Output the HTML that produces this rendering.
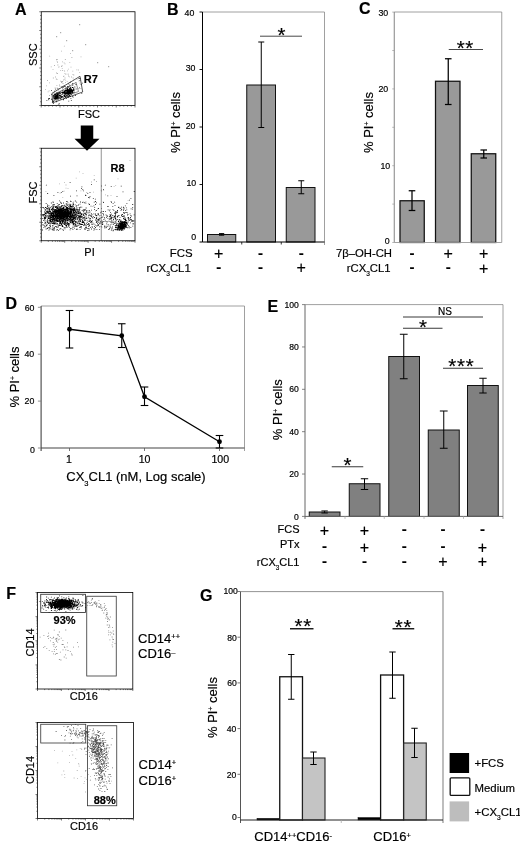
<!DOCTYPE html>
<html><head><meta charset="utf-8"><title>Figure</title>
<style>
html,body{margin:0;padding:0;background:#fff;}
svg{display:block;font-family:"Liberation Sans", sans-serif;}
text{stroke:#000;stroke-width:0.18px;}
</style></head><body>
<svg width="520" height="842" viewBox="0 0 520 842">
<rect width="520" height="842" fill="#fff"/>
<text x="15" y="14.5" font-size="16" text-anchor="start" font-weight="bold" fill="#000" >A</text>
<path d="M55.7 97.0h0.8v0.8h-0.8zM55.7 95.9h0.8v0.8h-0.8zM54.9 96.0h0.8v0.8h-0.8zM57.3 96.9h0.8v0.8h-0.8zM57.2 96.6h0.8v0.8h-0.8zM56.5 96.6h0.8v0.8h-0.8zM54.0 97.5h0.8v0.8h-0.8zM56.6 97.0h0.8v0.8h-0.8zM54.0 93.9h0.8v0.8h-0.8zM54.9 95.6h0.8v0.8h-0.8zM56.4 96.2h0.8v0.8h-0.8zM56.6 95.4h0.8v0.8h-0.8zM56.4 96.9h0.8v0.8h-0.8zM55.2 98.7h0.8v0.8h-0.8zM56.7 98.0h0.8v0.8h-0.8zM55.3 95.3h0.8v0.8h-0.8zM55.6 96.2h0.8v0.8h-0.8zM56.8 96.6h0.8v0.8h-0.8zM55.5 95.0h0.8v0.8h-0.8zM55.4 98.0h0.8v0.8h-0.8zM55.0 96.6h0.8v0.8h-0.8zM56.5 94.2h0.8v0.8h-0.8zM56.1 98.1h0.8v0.8h-0.8zM53.6 95.8h0.8v0.8h-0.8zM55.9 95.2h0.8v0.8h-0.8zM56.6 96.2h0.8v0.8h-0.8zM54.2 97.5h0.8v0.8h-0.8zM56.8 97.6h0.8v0.8h-0.8zM57.7 96.8h0.8v0.8h-0.8zM56.1 94.5h0.8v0.8h-0.8zM56.7 95.4h0.8v0.8h-0.8zM55.5 94.5h0.8v0.8h-0.8zM54.8 95.6h0.8v0.8h-0.8zM57.5 93.5h0.8v0.8h-0.8zM54.3 96.6h0.8v0.8h-0.8zM57.7 97.1h0.8v0.8h-0.8zM53.7 92.8h0.8v0.8h-0.8zM56.4 95.3h0.8v0.8h-0.8zM54.7 97.7h0.8v0.8h-0.8zM57.3 96.5h0.8v0.8h-0.8zM56.3 96.9h0.8v0.8h-0.8zM57.9 97.2h0.8v0.8h-0.8zM56.6 97.1h0.8v0.8h-0.8zM54.1 98.1h0.8v0.8h-0.8zM57.1 97.0h0.8v0.8h-0.8zM53.6 95.4h0.8v0.8h-0.8zM57.0 93.8h0.8v0.8h-0.8zM55.8 97.7h0.8v0.8h-0.8zM54.4 98.6h0.8v0.8h-0.8zM56.7 96.1h0.8v0.8h-0.8zM56.4 97.2h0.8v0.8h-0.8zM56.1 97.9h0.8v0.8h-0.8zM55.2 95.7h0.8v0.8h-0.8zM57.3 96.3h0.8v0.8h-0.8zM54.9 97.6h0.8v0.8h-0.8zM57.8 95.7h0.8v0.8h-0.8zM54.3 96.1h0.8v0.8h-0.8zM55.8 95.9h0.8v0.8h-0.8zM57.7 94.9h0.8v0.8h-0.8zM57.5 94.5h0.8v0.8h-0.8zM55.1 97.2h0.8v0.8h-0.8zM57.4 97.5h0.8v0.8h-0.8zM56.4 96.5h0.8v0.8h-0.8zM56.2 97.1h0.8v0.8h-0.8zM55.8 96.7h0.8v0.8h-0.8zM56.7 96.3h0.8v0.8h-0.8zM56.9 97.1h0.8v0.8h-0.8zM58.4 96.8h0.8v0.8h-0.8zM55.5 95.8h0.8v0.8h-0.8zM56.0 97.6h0.8v0.8h-0.8zM55.6 96.8h0.8v0.8h-0.8zM58.2 92.7h0.8v0.8h-0.8zM54.7 96.6h0.8v0.8h-0.8zM56.5 96.6h0.8v0.8h-0.8zM55.5 97.2h0.8v0.8h-0.8zM56.3 95.6h0.8v0.8h-0.8zM58.9 96.8h0.8v0.8h-0.8zM55.3 96.2h0.8v0.8h-0.8zM55.7 96.2h0.8v0.8h-0.8zM52.7 95.6h0.8v0.8h-0.8zM57.2 94.7h0.8v0.8h-0.8zM55.9 97.6h0.8v0.8h-0.8zM57.0 98.4h0.8v0.8h-0.8zM54.0 95.8h0.8v0.8h-0.8zM55.6 97.2h0.8v0.8h-0.8zM57.3 92.5h0.8v0.8h-0.8zM57.3 94.3h0.8v0.8h-0.8zM56.8 94.2h0.8v0.8h-0.8zM56.2 98.0h0.8v0.8h-0.8zM55.8 96.6h0.8v0.8h-0.8zM57.0 96.5h0.8v0.8h-0.8zM55.9 98.4h0.8v0.8h-0.8zM57.3 95.9h0.8v0.8h-0.8zM59.3 94.7h0.8v0.8h-0.8zM57.1 95.9h0.8v0.8h-0.8zM56.2 97.3h0.8v0.8h-0.8zM56.3 97.2h0.8v0.8h-0.8zM54.2 94.2h0.8v0.8h-0.8zM56.7 95.0h0.8v0.8h-0.8zM54.8 94.2h0.8v0.8h-0.8zM57.5 97.3h0.8v0.8h-0.8zM57.8 95.0h0.8v0.8h-0.8zM56.0 94.7h0.8v0.8h-0.8zM56.9 98.5h0.8v0.8h-0.8zM54.9 98.5h0.8v0.8h-0.8zM57.2 96.1h0.8v0.8h-0.8zM53.6 98.3h0.8v0.8h-0.8zM55.9 95.5h0.8v0.8h-0.8zM56.5 96.9h0.8v0.8h-0.8zM57.8 94.9h0.8v0.8h-0.8zM57.4 98.4h0.8v0.8h-0.8zM57.7 96.0h0.8v0.8h-0.8zM55.1 97.7h0.8v0.8h-0.8zM56.1 96.5h0.8v0.8h-0.8zM57.7 95.9h0.8v0.8h-0.8zM53.2 95.8h0.8v0.8h-0.8zM53.8 97.4h0.8v0.8h-0.8zM56.4 95.4h0.8v0.8h-0.8zM56.0 97.5h0.8v0.8h-0.8zM56.1 98.2h0.8v0.8h-0.8zM55.9 97.8h0.8v0.8h-0.8zM57.8 98.6h0.8v0.8h-0.8zM55.2 97.5h0.8v0.8h-0.8zM53.7 94.8h0.8v0.8h-0.8zM53.6 97.8h0.8v0.8h-0.8zM54.5 96.3h0.8v0.8h-0.8zM55.8 96.3h0.8v0.8h-0.8zM55.3 96.6h0.8v0.8h-0.8zM58.1 96.4h0.8v0.8h-0.8zM56.6 97.7h0.8v0.8h-0.8zM55.8 94.5h0.8v0.8h-0.8zM55.3 97.8h0.8v0.8h-0.8zM54.0 95.5h0.8v0.8h-0.8zM57.2 97.4h0.8v0.8h-0.8zM56.0 97.4h0.8v0.8h-0.8zM56.2 94.6h0.8v0.8h-0.8zM54.1 95.4h0.8v0.8h-0.8zM57.1 95.5h0.8v0.8h-0.8zM54.9 95.2h0.8v0.8h-0.8zM54.2 96.1h0.8v0.8h-0.8zM54.6 96.8h0.8v0.8h-0.8zM53.2 96.8h0.8v0.8h-0.8zM55.2 93.6h0.8v0.8h-0.8zM56.9 95.9h0.8v0.8h-0.8zM53.3 95.1h0.8v0.8h-0.8zM56.3 95.7h0.8v0.8h-0.8zM56.9 97.3h0.8v0.8h-0.8zM56.8 96.8h0.8v0.8h-0.8zM57.6 97.2h0.8v0.8h-0.8zM56.5 93.4h0.8v0.8h-0.8zM70.1 93.4h0.8v0.8h-0.8zM67.3 91.2h0.8v0.8h-0.8zM72.5 87.3h0.8v0.8h-0.8zM69.1 95.7h0.8v0.8h-0.8zM65.9 93.7h0.8v0.8h-0.8zM72.3 90.2h0.8v0.8h-0.8zM69.3 92.9h0.8v0.8h-0.8zM65.9 92.3h0.8v0.8h-0.8zM68.7 93.0h0.8v0.8h-0.8zM67.9 91.5h0.8v0.8h-0.8zM65.7 91.9h0.8v0.8h-0.8zM70.1 91.3h0.8v0.8h-0.8zM66.0 91.0h0.8v0.8h-0.8zM74.1 91.8h0.8v0.8h-0.8zM69.5 86.8h0.8v0.8h-0.8zM69.4 92.2h0.8v0.8h-0.8zM71.9 91.3h0.8v0.8h-0.8zM67.8 92.8h0.8v0.8h-0.8zM63.5 95.1h0.8v0.8h-0.8zM68.7 90.3h0.8v0.8h-0.8zM71.0 93.9h0.8v0.8h-0.8zM64.8 91.7h0.8v0.8h-0.8zM68.7 91.9h0.8v0.8h-0.8zM67.1 90.4h0.8v0.8h-0.8zM72.9 92.0h0.8v0.8h-0.8zM65.3 90.4h0.8v0.8h-0.8zM71.9 92.2h0.8v0.8h-0.8zM72.2 91.8h0.8v0.8h-0.8zM66.0 92.9h0.8v0.8h-0.8zM63.0 92.1h0.8v0.8h-0.8zM67.9 92.8h0.8v0.8h-0.8zM66.3 92.1h0.8v0.8h-0.8zM69.1 92.1h0.8v0.8h-0.8zM69.5 91.7h0.8v0.8h-0.8zM67.3 93.4h0.8v0.8h-0.8zM68.1 90.3h0.8v0.8h-0.8zM66.6 92.3h0.8v0.8h-0.8zM67.7 92.2h0.8v0.8h-0.8zM68.0 92.1h0.8v0.8h-0.8zM67.7 89.7h0.8v0.8h-0.8zM69.0 93.3h0.8v0.8h-0.8zM69.0 91.1h0.8v0.8h-0.8zM69.0 89.8h0.8v0.8h-0.8zM63.6 93.3h0.8v0.8h-0.8zM65.9 93.8h0.8v0.8h-0.8zM65.5 88.0h0.8v0.8h-0.8zM65.6 95.3h0.8v0.8h-0.8zM67.1 89.7h0.8v0.8h-0.8zM66.2 93.3h0.8v0.8h-0.8zM69.1 91.7h0.8v0.8h-0.8zM71.4 91.9h0.8v0.8h-0.8zM68.0 92.9h0.8v0.8h-0.8zM71.8 92.2h0.8v0.8h-0.8zM70.4 89.1h0.8v0.8h-0.8zM67.7 93.2h0.8v0.8h-0.8zM67.3 93.9h0.8v0.8h-0.8zM69.4 92.9h0.8v0.8h-0.8zM67.5 96.4h0.8v0.8h-0.8zM70.9 90.5h0.8v0.8h-0.8zM68.2 96.3h0.8v0.8h-0.8zM67.2 93.6h0.8v0.8h-0.8zM70.3 91.1h0.8v0.8h-0.8zM65.3 93.0h0.8v0.8h-0.8zM68.8 93.5h0.8v0.8h-0.8zM69.8 91.2h0.8v0.8h-0.8zM70.0 92.1h0.8v0.8h-0.8zM68.5 91.7h0.8v0.8h-0.8zM67.4 93.2h0.8v0.8h-0.8zM65.6 91.5h0.8v0.8h-0.8zM68.0 89.2h0.8v0.8h-0.8zM67.0 88.6h0.8v0.8h-0.8zM66.4 93.3h0.8v0.8h-0.8zM69.3 91.3h0.8v0.8h-0.8zM67.5 89.5h0.8v0.8h-0.8zM72.2 91.3h0.8v0.8h-0.8zM70.5 89.4h0.8v0.8h-0.8zM67.6 88.8h0.8v0.8h-0.8zM69.8 92.8h0.8v0.8h-0.8zM63.6 93.2h0.8v0.8h-0.8zM69.4 88.3h0.8v0.8h-0.8zM63.8 91.3h0.8v0.8h-0.8zM66.6 89.8h0.8v0.8h-0.8zM68.1 92.2h0.8v0.8h-0.8zM69.5 92.5h0.8v0.8h-0.8zM71.5 92.7h0.8v0.8h-0.8zM65.0 91.9h0.8v0.8h-0.8zM65.6 90.7h0.8v0.8h-0.8zM67.8 91.9h0.8v0.8h-0.8zM69.1 88.7h0.8v0.8h-0.8zM65.2 92.7h0.8v0.8h-0.8zM67.5 91.4h0.8v0.8h-0.8zM67.9 90.5h0.8v0.8h-0.8zM69.6 91.9h0.8v0.8h-0.8zM67.8 90.7h0.8v0.8h-0.8zM67.6 87.2h0.8v0.8h-0.8zM65.7 92.6h0.8v0.8h-0.8zM64.5 93.3h0.8v0.8h-0.8zM68.3 89.3h0.8v0.8h-0.8zM67.4 91.4h0.8v0.8h-0.8zM69.1 92.5h0.8v0.8h-0.8zM67.9 90.3h0.8v0.8h-0.8zM67.7 91.8h0.8v0.8h-0.8zM69.7 91.8h0.8v0.8h-0.8zM66.3 90.0h0.8v0.8h-0.8zM67.1 90.8h0.8v0.8h-0.8zM65.4 92.4h0.8v0.8h-0.8zM66.9 92.4h0.8v0.8h-0.8zM69.2 90.7h0.8v0.8h-0.8zM73.3 89.5h0.8v0.8h-0.8zM70.5 91.2h0.8v0.8h-0.8zM70.6 86.8h0.8v0.8h-0.8zM66.3 92.8h0.8v0.8h-0.8zM69.4 95.4h0.8v0.8h-0.8zM68.7 93.8h0.8v0.8h-0.8zM69.8 92.9h0.8v0.8h-0.8zM69.2 91.1h0.8v0.8h-0.8zM69.2 89.5h0.8v0.8h-0.8zM70.7 89.1h0.8v0.8h-0.8zM68.6 95.3h0.8v0.8h-0.8zM67.5 92.0h0.8v0.8h-0.8zM70.7 91.0h0.8v0.8h-0.8zM66.1 92.9h0.8v0.8h-0.8zM69.3 92.6h0.8v0.8h-0.8zM66.2 95.4h0.8v0.8h-0.8zM71.8 90.6h0.8v0.8h-0.8zM68.6 90.8h0.8v0.8h-0.8zM71.3 89.5h0.8v0.8h-0.8zM69.6 90.5h0.8v0.8h-0.8zM66.4 93.6h0.8v0.8h-0.8zM71.1 90.8h0.8v0.8h-0.8zM66.4 93.7h0.8v0.8h-0.8zM67.9 92.4h0.8v0.8h-0.8zM71.5 92.6h0.8v0.8h-0.8zM66.8 96.2h0.8v0.8h-0.8zM68.0 93.2h0.8v0.8h-0.8zM66.5 92.2h0.8v0.8h-0.8zM64.0 96.2h0.8v0.8h-0.8zM71.1 88.6h0.8v0.8h-0.8zM64.5 90.1h0.8v0.8h-0.8zM70.7 90.1h0.8v0.8h-0.8zM67.9 91.3h0.8v0.8h-0.8zM67.7 90.0h0.8v0.8h-0.8zM68.1 89.3h0.8v0.8h-0.8zM67.8 92.4h0.8v0.8h-0.8zM69.1 91.0h0.8v0.8h-0.8zM65.9 92.8h0.8v0.8h-0.8zM66.9 94.9h0.8v0.8h-0.8zM69.8 91.0h0.8v0.8h-0.8zM66.9 90.9h0.8v0.8h-0.8zM65.8 91.9h0.8v0.8h-0.8zM68.7 92.5h0.8v0.8h-0.8zM69.3 95.0h0.8v0.8h-0.8zM66.4 92.4h0.8v0.8h-0.8zM74.4 86.4h0.8v0.8h-0.8zM66.8 92.5h0.8v0.8h-0.8zM68.4 92.4h0.8v0.8h-0.8zM67.5 92.6h0.8v0.8h-0.8zM68.1 93.1h0.8v0.8h-0.8zM63.6 91.7h0.8v0.8h-0.8zM68.0 90.0h0.8v0.8h-0.8zM65.6 93.7h0.8v0.8h-0.8zM66.5 93.4h0.8v0.8h-0.8zM69.7 91.8h0.8v0.8h-0.8zM69.2 91.2h0.8v0.8h-0.8zM64.8 92.8h0.8v0.8h-0.8zM69.0 90.5h0.8v0.8h-0.8zM67.8 93.2h0.8v0.8h-0.8zM66.0 93.6h0.8v0.8h-0.8zM72.3 89.4h0.8v0.8h-0.8zM68.3 91.4h0.8v0.8h-0.8zM71.5 91.2h0.8v0.8h-0.8zM70.1 89.9h0.8v0.8h-0.8zM68.0 91.8h0.8v0.8h-0.8zM63.9 95.7h0.8v0.8h-0.8zM70.1 88.1h0.8v0.8h-0.8zM69.7 91.0h0.8v0.8h-0.8zM69.0 92.1h0.8v0.8h-0.8zM64.6 92.6h0.8v0.8h-0.8zM71.4 89.7h0.8v0.8h-0.8zM65.6 90.2h0.8v0.8h-0.8zM65.2 93.3h0.8v0.8h-0.8zM71.9 91.3h0.8v0.8h-0.8zM68.6 95.5h0.8v0.8h-0.8zM66.8 91.0h0.8v0.8h-0.8zM69.2 92.4h0.8v0.8h-0.8zM65.7 90.5h0.8v0.8h-0.8zM68.7 92.0h0.8v0.8h-0.8zM65.0 92.4h0.8v0.8h-0.8zM66.8 93.0h0.8v0.8h-0.8zM67.7 91.7h0.8v0.8h-0.8zM67.2 93.9h0.8v0.8h-0.8zM71.2 90.1h0.8v0.8h-0.8zM69.9 89.8h0.8v0.8h-0.8zM68.2 93.1h0.8v0.8h-0.8zM71.5 90.0h0.8v0.8h-0.8zM67.8 92.2h0.8v0.8h-0.8zM64.6 93.0h0.8v0.8h-0.8zM66.4 93.0h0.8v0.8h-0.8zM65.4 89.2h0.8v0.8h-0.8zM68.1 92.2h0.8v0.8h-0.8zM60.2 97.7h0.8v0.8h-0.8zM62.1 91.6h0.8v0.8h-0.8zM67.3 86.1h0.8v0.8h-0.8zM59.3 94.8h0.8v0.8h-0.8zM69.9 90.1h0.8v0.8h-0.8zM66.2 89.8h0.8v0.8h-0.8zM66.1 98.2h0.8v0.8h-0.8zM59.2 103.4h0.8v0.8h-0.8zM59.5 94.8h0.8v0.8h-0.8zM65.2 96.2h0.8v0.8h-0.8zM55.3 88.8h0.8v0.8h-0.8zM68.2 94.2h0.8v0.8h-0.8zM68.4 100.8h0.8v0.8h-0.8zM65.4 93.4h0.8v0.8h-0.8zM70.5 91.8h0.8v0.8h-0.8zM75.6 84.1h0.8v0.8h-0.8zM61.4 81.6h0.8v0.8h-0.8zM69.7 89.5h0.8v0.8h-0.8zM70.5 98.3h0.8v0.8h-0.8zM64.0 92.1h0.8v0.8h-0.8zM60.5 91.3h0.8v0.8h-0.8zM59.6 97.0h0.8v0.8h-0.8zM64.3 93.1h0.8v0.8h-0.8zM62.8 96.8h0.8v0.8h-0.8zM67.5 91.2h0.8v0.8h-0.8zM68.7 90.7h0.8v0.8h-0.8zM55.9 101.4h0.8v0.8h-0.8zM67.3 88.3h0.8v0.8h-0.8zM71.6 91.3h0.8v0.8h-0.8zM53.0 103.0h0.8v0.8h-0.8zM66.3 95.3h0.8v0.8h-0.8zM65.4 91.9h0.8v0.8h-0.8zM53.2 100.7h0.8v0.8h-0.8zM64.2 91.9h0.8v0.8h-0.8zM66.5 92.3h0.8v0.8h-0.8zM68.7 89.8h0.8v0.8h-0.8zM63.7 85.4h0.8v0.8h-0.8zM61.0 96.6h0.8v0.8h-0.8zM73.4 88.1h0.8v0.8h-0.8zM63.2 99.0h0.8v0.8h-0.8zM61.7 96.5h0.8v0.8h-0.8zM75.7 88.6h0.8v0.8h-0.8zM72.6 87.1h0.8v0.8h-0.8zM65.5 92.2h0.8v0.8h-0.8zM64.8 96.8h0.8v0.8h-0.8zM80.7 84.2h0.8v0.8h-0.8zM60.0 96.3h0.8v0.8h-0.8zM56.6 97.6h0.8v0.8h-0.8zM68.0 90.5h0.8v0.8h-0.8zM67.7 86.0h0.8v0.8h-0.8zM69.3 85.4h0.8v0.8h-0.8zM59.1 92.9h0.8v0.8h-0.8zM61.2 97.2h0.8v0.8h-0.8zM64.6 91.3h0.8v0.8h-0.8zM67.8 97.2h0.8v0.8h-0.8zM64.0 94.3h0.8v0.8h-0.8zM72.7 90.6h0.8v0.8h-0.8zM79.5 79.9h0.8v0.8h-0.8zM63.7 94.6h0.8v0.8h-0.8zM70.8 92.8h0.8v0.8h-0.8zM62.1 89.9h0.8v0.8h-0.8zM64.7 96.4h0.8v0.8h-0.8zM56.4 92.2h0.8v0.8h-0.8zM63.8 86.1h0.8v0.8h-0.8zM62.2 92.1h0.8v0.8h-0.8zM67.2 89.3h0.8v0.8h-0.8zM57.8 94.0h0.8v0.8h-0.8zM63.7 90.7h0.8v0.8h-0.8zM64.1 95.7h0.8v0.8h-0.8zM72.3 95.9h0.8v0.8h-0.8zM58.5 93.6h0.8v0.8h-0.8zM58.9 94.8h0.8v0.8h-0.8zM67.7 86.7h0.8v0.8h-0.8zM67.2 91.7h0.8v0.8h-0.8zM51.2 99.0h0.8v0.8h-0.8zM72.4 83.1h0.8v0.8h-0.8zM69.7 91.6h0.8v0.8h-0.8zM67.3 93.3h0.8v0.8h-0.8zM73.1 88.7h0.8v0.8h-0.8zM70.1 89.2h0.8v0.8h-0.8zM69.1 88.1h0.8v0.8h-0.8zM63.2 99.5h0.8v0.8h-0.8zM67.1 91.2h0.8v0.8h-0.8zM56.0 93.2h0.8v0.8h-0.8zM65.4 95.9h0.8v0.8h-0.8zM67.0 93.7h0.8v0.8h-0.8zM63.7 98.0h0.8v0.8h-0.8zM61.3 92.1h0.8v0.8h-0.8zM70.2 90.8h0.8v0.8h-0.8zM62.1 91.7h0.8v0.8h-0.8zM62.2 95.9h0.8v0.8h-0.8zM66.5 87.7h0.8v0.8h-0.8zM67.0 92.5h0.8v0.8h-0.8zM57.0 98.5h0.8v0.8h-0.8zM62.0 92.5h0.8v0.8h-0.8zM69.6 95.6h0.8v0.8h-0.8zM59.2 96.4h0.8v0.8h-0.8zM57.9 103.7h0.8v0.8h-0.8zM60.5 98.6h0.8v0.8h-0.8zM59.5 97.7h0.8v0.8h-0.8zM79.5 77.9h0.8v0.8h-0.8zM61.0 96.0h0.8v0.8h-0.8zM63.3 90.8h0.8v0.8h-0.8zM79.1 87.5h0.8v0.8h-0.8zM52.5 100.5h0.8v0.8h-0.8zM51.9 101.8h0.8v0.8h-0.8zM60.0 95.1h0.8v0.8h-0.8zM72.8 90.0h0.8v0.8h-0.8zM54.3 90.7h0.8v0.8h-0.8zM72.3 92.5h0.8v0.8h-0.8zM58.3 98.3h0.8v0.8h-0.8zM67.5 94.0h0.8v0.8h-0.8zM48.2 98.0h0.8v0.8h-0.8zM70.3 93.2h0.8v0.8h-0.8zM70.2 81.8h0.8v0.8h-0.8zM65.2 94.3h0.8v0.8h-0.8zM81.9 82.7h0.8v0.8h-0.8zM61.7 94.0h0.8v0.8h-0.8zM70.2 89.0h0.8v0.8h-0.8zM72.0 87.1h0.8v0.8h-0.8zM65.9 90.4h0.8v0.8h-0.8zM65.1 90.1h0.8v0.8h-0.8zM52.8 101.2h0.8v0.8h-0.8zM66.1 90.2h0.8v0.8h-0.8zM65.4 96.0h0.8v0.8h-0.8zM57.2 95.2h0.8v0.8h-0.8zM67.8 93.4h0.8v0.8h-0.8zM61.7 86.3h0.8v0.8h-0.8zM72.7 90.8h0.8v0.8h-0.8zM64.1 92.0h0.8v0.8h-0.8zM65.8 90.8h0.8v0.8h-0.8zM56.8 93.1h0.8v0.8h-0.8zM59.8 92.4h0.8v0.8h-0.8zM55.9 98.4h0.8v0.8h-0.8zM54.8 98.9h0.8v0.8h-0.8zM56.9 97.0h0.8v0.8h-0.8zM73.6 90.0h0.8v0.8h-0.8zM58.9 95.1h0.8v0.8h-0.8zM65.0 86.4h0.8v0.8h-0.8zM59.7 95.2h0.8v0.8h-0.8zM60.7 94.6h0.8v0.8h-0.8zM69.1 93.8h0.8v0.8h-0.8zM70.3 92.7h0.8v0.8h-0.8zM62.0 93.7h0.8v0.8h-0.8zM62.1 92.6h0.8v0.8h-0.8zM62.7 87.3h0.8v0.8h-0.8zM61.7 93.8h0.8v0.8h-0.8zM57.2 95.5h0.8v0.8h-0.8zM67.6 91.0h0.8v0.8h-0.8zM78.5 78.0h0.8v0.8h-0.8zM62.6 87.0h0.8v0.8h-0.8zM70.9 99.9h0.8v0.8h-0.8zM46.5 100.2h0.8v0.8h-0.8zM67.6 90.5h0.8v0.8h-0.8zM67.9 83.4h0.8v0.8h-0.8zM70.0 92.0h0.8v0.8h-0.8zM64.2 90.8h0.8v0.8h-0.8zM68.5 89.5h0.8v0.8h-0.8zM65.6 90.6h0.8v0.8h-0.8zM48.3 99.0h0.8v0.8h-0.8zM65.4 95.2h0.8v0.8h-0.8zM57.9 95.2h0.8v0.8h-0.8zM68.3 91.9h0.8v0.8h-0.8zM72.7 96.8h0.8v0.8h-0.8zM57.6 88.5h0.8v0.8h-0.8zM70.0 96.2h0.8v0.8h-0.8zM70.5 93.4h0.8v0.8h-0.8zM59.7 92.1h0.8v0.8h-0.8zM70.2 87.3h0.8v0.8h-0.8zM51.3 94.3h0.8v0.8h-0.8zM81.4 93.2h0.8v0.8h-0.8zM59.2 92.2h0.8v0.8h-0.8zM65.6 89.7h0.8v0.8h-0.8zM73.2 89.2h0.8v0.8h-0.8zM56.4 100.6h0.8v0.8h-0.8zM59.9 95.4h0.8v0.8h-0.8zM63.9 91.9h0.8v0.8h-0.8zM66.3 89.6h0.8v0.8h-0.8zM51.1 90.0h0.8v0.8h-0.8zM55.1 93.7h0.8v0.8h-0.8zM63.8 93.3h0.8v0.8h-0.8zM67.9 91.9h0.8v0.8h-0.8zM58.4 92.6h0.8v0.8h-0.8zM49.2 98.1h0.8v0.8h-0.8zM67.4 93.6h0.8v0.8h-0.8zM63.2 92.7h0.8v0.8h-0.8zM70.6 90.5h0.8v0.8h-0.8zM69.2 93.1h0.8v0.8h-0.8zM65.5 97.1h0.8v0.8h-0.8zM60.0 93.3h0.8v0.8h-0.8zM58.3 92.3h0.8v0.8h-0.8zM74.9 95.1h0.8v0.8h-0.8zM64.2 95.0h0.8v0.8h-0.8zM72.2 92.7h0.8v0.8h-0.8zM72.4 85.2h0.8v0.8h-0.8zM59.5 96.4h0.8v0.8h-0.8zM74.0 89.5h0.8v0.8h-0.8zM58.0 94.0h0.8v0.8h-0.8zM59.4 91.7h0.8v0.8h-0.8zM74.5 86.7h0.8v0.8h-0.8z" fill="#000" fill-opacity="1"/>
<path d="M72.7 77.6h0.8v0.8h-0.8zM56.5 84.9h0.8v0.8h-0.8zM76.6 79.3h0.8v0.8h-0.8zM73.4 74.6h0.8v0.8h-0.8zM66.6 73.8h0.8v0.8h-0.8zM65.8 91.3h0.8v0.8h-0.8zM49.1 82.4h0.8v0.8h-0.8zM64.2 70.6h0.8v0.8h-0.8zM59.2 88.1h0.8v0.8h-0.8zM80.0 78.0h0.8v0.8h-0.8zM64.9 59.1h0.8v0.8h-0.8zM79.3 71.9h0.8v0.8h-0.8zM61.7 65.3h0.8v0.8h-0.8zM61.5 65.7h0.8v0.8h-0.8zM62.6 83.1h0.8v0.8h-0.8zM62.3 81.1h0.8v0.8h-0.8zM54.3 97.4h0.8v0.8h-0.8zM56.1 59.5h0.8v0.8h-0.8zM60.3 69.9h0.8v0.8h-0.8zM52.9 77.6h0.8v0.8h-0.8zM64.6 63.4h0.8v0.8h-0.8zM60.8 94.8h0.8v0.8h-0.8zM68.1 73.8h0.8v0.8h-0.8zM63.1 76.2h0.8v0.8h-0.8zM61.6 86.6h0.8v0.8h-0.8zM61.2 50.8h0.8v0.8h-0.8zM61.8 67.9h0.8v0.8h-0.8zM67.9 68.7h0.8v0.8h-0.8zM52.6 68.9h0.8v0.8h-0.8zM49.3 55.7h0.8v0.8h-0.8zM45.1 88.9h0.8v0.8h-0.8zM56.3 58.9h0.8v0.8h-0.8zM48.7 90.4h0.8v0.8h-0.8zM55.0 76.6h0.8v0.8h-0.8zM65.0 92.3h0.8v0.8h-0.8zM79.5 82.8h0.8v0.8h-0.8zM63.3 79.6h0.8v0.8h-0.8zM78.2 87.9h0.8v0.8h-0.8zM59.2 84.4h0.8v0.8h-0.8zM64.6 77.6h0.8v0.8h-0.8zM57.5 64.6h0.8v0.8h-0.8zM57.2 62.2h0.8v0.8h-0.8zM73.0 79.7h0.8v0.8h-0.8zM51.1 98.3h0.8v0.8h-0.8zM70.0 52.9h0.8v0.8h-0.8zM78.6 80.6h0.8v0.8h-0.8zM80.6 56.5h0.8v0.8h-0.8zM66.8 80.9h0.8v0.8h-0.8zM63.8 79.2h0.8v0.8h-0.8zM71.5 57.1h0.8v0.8h-0.8zM50.8 66.5h0.8v0.8h-0.8zM57.0 73.1h0.8v0.8h-0.8zM65.3 79.7h0.8v0.8h-0.8zM62.3 70.1h0.8v0.8h-0.8zM58.0 90.5h0.8v0.8h-0.8zM68.9 76.4h0.8v0.8h-0.8zM59.1 96.9h0.8v0.8h-0.8zM56.7 87.6h0.8v0.8h-0.8zM72.4 70.8h0.8v0.8h-0.8zM69.4 62.3h0.8v0.8h-0.8zM71.1 76.6h0.8v0.8h-0.8zM47.7 91.4h0.8v0.8h-0.8zM54.0 95.9h0.8v0.8h-0.8zM55.9 78.6h0.8v0.8h-0.8zM64.5 73.2h0.8v0.8h-0.8zM64.3 70.7h0.8v0.8h-0.8zM68.0 75.6h0.8v0.8h-0.8zM63.9 45.7h0.8v0.8h-0.8zM72.5 74.2h0.8v0.8h-0.8zM46.0 85.5h0.8v0.8h-0.8zM66.2 88.6h0.8v0.8h-0.8zM52.3 99.6h0.8v0.8h-0.8zM60.7 86.3h0.8v0.8h-0.8zM58.7 66.5h0.8v0.8h-0.8zM71.9 84.4h0.8v0.8h-0.8zM75.8 82.3h0.8v0.8h-0.8zM56.8 61.0h0.8v0.8h-0.8zM56.1 72.6h0.8v0.8h-0.8zM54.7 87.6h0.8v0.8h-0.8zM65.0 73.7h0.8v0.8h-0.8zM63.6 75.7h0.8v0.8h-0.8zM63.9 85.8h0.8v0.8h-0.8zM70.6 66.7h0.8v0.8h-0.8zM48.4 99.8h0.8v0.8h-0.8zM63.0 90.2h0.8v0.8h-0.8zM47.2 80.1h0.8v0.8h-0.8zM62.2 61.4h0.8v0.8h-0.8zM57.4 88.2h0.8v0.8h-0.8zM71.7 92.4h0.8v0.8h-0.8zM54.2 65.1h0.8v0.8h-0.8zM66.7 86.9h0.8v0.8h-0.8zM63.7 62.4h0.8v0.8h-0.8zM69.0 84.3h0.8v0.8h-0.8zM67.0 70.4h0.8v0.8h-0.8zM64.7 86.0h0.8v0.8h-0.8zM57.0 58.9h0.8v0.8h-0.8zM65.0 82.3h0.8v0.8h-0.8zM62.1 88.1h0.8v0.8h-0.8zM56.7 79.2h0.8v0.8h-0.8zM59.3 85.6h0.8v0.8h-0.8zM76.4 69.4h0.8v0.8h-0.8zM80.5 88.1h0.8v0.8h-0.8zM69.1 81.9h0.8v0.8h-0.8zM77.9 69.6h0.8v0.8h-0.8zM61.0 66.2h0.8v0.8h-0.8zM66.3 91.7h0.8v0.8h-0.8zM66.8 80.9h0.8v0.8h-0.8zM60.2 80.7h0.8v0.8h-0.8zM49.2 95.1h0.8v0.8h-0.8zM58.3 66.8h0.8v0.8h-0.8z" fill="#555" fill-opacity="0.55"/>
<path d="M79.0 24.0h1.2v1.2h-1.2zM60.0 32.0h1.2v1.2h-1.2zM97.0 62.0h1.2v1.2h-1.2zM108.0 66.0h1.2v1.2h-1.2zM85.0 44.0h1.2v1.2h-1.2zM66.0 40.0h1.2v1.2h-1.2zM72.0 50.0h1.2v1.2h-1.2zM56.0 36.0h1.2v1.2h-1.2z" fill="#777" fill-opacity="0.6"/>
<rect x="41.25" y="11.75" width="93.75" height="93.75" fill="none" stroke="#000" stroke-width="0.8" />
<path d="M41.25 105.5v2.0M45.00 105.5v1.1M48.75 105.5v1.1M52.50 105.5v1.1M56.25 105.5v1.1M60.00 105.5v2.0M63.75 105.5v1.1M67.50 105.5v1.1M71.25 105.5v1.1M75.00 105.5v1.1M78.75 105.5v2.0M82.50 105.5v1.1M86.25 105.5v1.1M90.00 105.5v1.1M93.75 105.5v1.1M97.50 105.5v2.0M101.25 105.5v1.1M105.00 105.5v1.1M108.75 105.5v1.1M112.50 105.5v1.1M116.25 105.5v2.0M120.00 105.5v1.1M123.75 105.5v1.1M127.50 105.5v1.1M131.25 105.5v1.1M135.00 105.5v2.0M41.25 105.50h-2.0M41.25 101.75h-1.1M41.25 98.00h-1.1M41.25 94.25h-1.1M41.25 90.50h-1.1M41.25 86.75h-2.0M41.25 83.00h-1.1M41.25 79.25h-1.1M41.25 75.50h-1.1M41.25 71.75h-1.1M41.25 68.00h-2.0M41.25 64.25h-1.1M41.25 60.50h-1.1M41.25 56.75h-1.1M41.25 53.00h-1.1M41.25 49.25h-2.0M41.25 45.50h-1.1M41.25 41.75h-1.1M41.25 38.00h-1.1M41.25 34.25h-1.1M41.25 30.50h-2.0M41.25 26.75h-1.1M41.25 23.00h-1.1M41.25 19.25h-1.1M41.25 15.50h-1.1M41.25 11.75h-2.0" stroke="#222" stroke-width="0.6" fill="none"/>
<polygon points="52,93.3 80,76.3 82.7,92 52.6,102.8" fill="none" stroke="#111" stroke-width="0.7"/>
<polygon points="53.5,95 76,82.5 78.5,91.5 54,100.5" fill="none" stroke="#222" stroke-width="0.5"/>
<text x="83.7" y="83" font-size="11" text-anchor="start" font-weight="bold" fill="#000" >R7</text>
<text transform="translate(37.3,54.7) rotate(-90)" font-size="11" text-anchor="middle" font-weight="normal">SSC</text>
<text x="89" y="118" font-size="11" text-anchor="middle" font-weight="normal" fill="#000" >FSC</text>
<polygon points="80.75,125.5 93.25,125.5 93.25,138.75 99.5,138.75 87,150.75 74.5,138.75 80.75,138.75" fill="#000"/>
<path d="M55.4 209.9h0.8v0.8h-0.8zM70.6 218.2h0.8v0.8h-0.8zM49.6 218.1h0.8v0.8h-0.8zM70.9 210.6h0.8v0.8h-0.8zM48.4 210.4h0.8v0.8h-0.8zM56.5 215.2h0.8v0.8h-0.8zM59.1 204.3h0.8v0.8h-0.8zM64.7 206.4h0.8v0.8h-0.8zM71.1 207.7h0.8v0.8h-0.8zM55.9 209.7h0.8v0.8h-0.8zM57.3 219.6h0.8v0.8h-0.8zM70.6 216.1h0.8v0.8h-0.8zM65.5 206.3h0.8v0.8h-0.8zM57.6 211.1h0.8v0.8h-0.8zM53.2 216.1h0.8v0.8h-0.8zM55.5 210.4h0.8v0.8h-0.8zM52.6 204.3h0.8v0.8h-0.8zM68.2 219.5h0.8v0.8h-0.8zM64.2 209.0h0.8v0.8h-0.8zM74.1 214.6h0.8v0.8h-0.8zM71.3 220.1h0.8v0.8h-0.8zM73.2 211.2h0.8v0.8h-0.8zM72.5 216.8h0.8v0.8h-0.8zM47.9 212.0h0.8v0.8h-0.8zM49.0 213.3h0.8v0.8h-0.8zM68.0 208.5h0.8v0.8h-0.8zM43.0 219.9h0.8v0.8h-0.8zM66.1 220.2h0.8v0.8h-0.8zM49.9 218.7h0.8v0.8h-0.8zM82.2 222.2h0.8v0.8h-0.8zM60.5 214.8h0.8v0.8h-0.8zM61.0 218.1h0.8v0.8h-0.8zM72.4 213.7h0.8v0.8h-0.8zM49.6 217.2h0.8v0.8h-0.8zM58.0 216.5h0.8v0.8h-0.8zM65.0 220.9h0.8v0.8h-0.8zM73.3 211.2h0.8v0.8h-0.8zM65.8 221.5h0.8v0.8h-0.8zM57.4 215.6h0.8v0.8h-0.8zM73.8 219.0h0.8v0.8h-0.8zM67.4 207.3h0.8v0.8h-0.8zM50.5 214.9h0.8v0.8h-0.8zM66.2 225.1h0.8v0.8h-0.8zM54.3 218.9h0.8v0.8h-0.8zM69.8 205.6h0.8v0.8h-0.8zM54.7 214.5h0.8v0.8h-0.8zM57.8 212.9h0.8v0.8h-0.8zM67.0 209.7h0.8v0.8h-0.8zM66.9 210.5h0.8v0.8h-0.8zM57.3 216.1h0.8v0.8h-0.8zM57.1 215.0h0.8v0.8h-0.8zM77.7 213.3h0.8v0.8h-0.8zM61.1 216.9h0.8v0.8h-0.8zM59.0 218.6h0.8v0.8h-0.8zM50.3 216.6h0.8v0.8h-0.8zM57.6 209.9h0.8v0.8h-0.8zM79.3 209.2h0.8v0.8h-0.8zM79.2 216.1h0.8v0.8h-0.8zM76.3 208.7h0.8v0.8h-0.8zM73.9 219.9h0.8v0.8h-0.8zM61.4 212.9h0.8v0.8h-0.8zM85.8 213.8h0.8v0.8h-0.8zM58.5 210.7h0.8v0.8h-0.8zM66.7 214.9h0.8v0.8h-0.8zM64.2 221.4h0.8v0.8h-0.8zM59.4 215.7h0.8v0.8h-0.8zM76.4 208.6h0.8v0.8h-0.8zM72.4 221.7h0.8v0.8h-0.8zM49.6 208.8h0.8v0.8h-0.8zM52.6 205.3h0.8v0.8h-0.8zM66.8 204.9h0.8v0.8h-0.8zM67.2 220.1h0.8v0.8h-0.8zM47.2 212.4h0.8v0.8h-0.8zM44.3 217.5h0.8v0.8h-0.8zM55.5 212.4h0.8v0.8h-0.8zM63.0 216.0h0.8v0.8h-0.8zM59.2 213.6h0.8v0.8h-0.8zM57.3 214.2h0.8v0.8h-0.8zM51.4 214.1h0.8v0.8h-0.8zM44.1 211.7h0.8v0.8h-0.8zM80.7 213.4h0.8v0.8h-0.8zM50.5 215.0h0.8v0.8h-0.8zM53.3 206.1h0.8v0.8h-0.8zM55.5 217.1h0.8v0.8h-0.8zM66.1 213.0h0.8v0.8h-0.8zM53.7 208.8h0.8v0.8h-0.8zM75.3 214.3h0.8v0.8h-0.8zM53.5 204.0h0.8v0.8h-0.8zM49.5 225.2h0.8v0.8h-0.8zM51.6 213.4h0.8v0.8h-0.8zM64.5 212.7h0.8v0.8h-0.8zM59.9 207.3h0.8v0.8h-0.8zM52.5 221.5h0.8v0.8h-0.8zM55.3 217.6h0.8v0.8h-0.8zM46.4 212.6h0.8v0.8h-0.8zM65.0 218.2h0.8v0.8h-0.8zM51.8 216.5h0.8v0.8h-0.8zM66.2 210.0h0.8v0.8h-0.8zM67.0 209.3h0.8v0.8h-0.8zM54.9 213.6h0.8v0.8h-0.8zM53.0 207.0h0.8v0.8h-0.8zM58.5 217.1h0.8v0.8h-0.8zM58.7 219.4h0.8v0.8h-0.8zM51.5 207.7h0.8v0.8h-0.8zM77.2 215.0h0.8v0.8h-0.8zM71.5 209.5h0.8v0.8h-0.8zM70.1 214.5h0.8v0.8h-0.8zM68.7 213.5h0.8v0.8h-0.8zM74.0 210.2h0.8v0.8h-0.8zM53.3 206.9h0.8v0.8h-0.8zM73.5 209.8h0.8v0.8h-0.8zM52.6 209.4h0.8v0.8h-0.8zM58.3 207.8h0.8v0.8h-0.8zM59.7 210.7h0.8v0.8h-0.8zM57.3 209.2h0.8v0.8h-0.8zM62.8 211.4h0.8v0.8h-0.8zM63.6 214.6h0.8v0.8h-0.8zM65.7 203.4h0.8v0.8h-0.8zM57.4 210.0h0.8v0.8h-0.8zM69.9 206.1h0.8v0.8h-0.8zM55.7 212.3h0.8v0.8h-0.8zM59.3 218.1h0.8v0.8h-0.8zM58.3 218.0h0.8v0.8h-0.8zM48.6 205.5h0.8v0.8h-0.8zM74.1 215.2h0.8v0.8h-0.8zM67.1 214.0h0.8v0.8h-0.8zM67.1 207.8h0.8v0.8h-0.8zM71.5 210.8h0.8v0.8h-0.8zM71.9 213.7h0.8v0.8h-0.8zM43.7 208.0h0.8v0.8h-0.8zM73.2 212.6h0.8v0.8h-0.8zM58.7 214.7h0.8v0.8h-0.8zM58.5 211.1h0.8v0.8h-0.8zM63.5 214.1h0.8v0.8h-0.8zM76.9 213.4h0.8v0.8h-0.8zM80.4 221.3h0.8v0.8h-0.8zM78.8 218.0h0.8v0.8h-0.8zM63.7 214.1h0.8v0.8h-0.8zM61.1 210.2h0.8v0.8h-0.8zM61.9 210.6h0.8v0.8h-0.8zM78.1 215.6h0.8v0.8h-0.8zM58.3 204.8h0.8v0.8h-0.8zM62.0 211.6h0.8v0.8h-0.8zM52.2 208.5h0.8v0.8h-0.8zM61.9 225.4h0.8v0.8h-0.8zM62.2 212.8h0.8v0.8h-0.8zM76.2 213.8h0.8v0.8h-0.8zM64.1 211.8h0.8v0.8h-0.8zM56.7 220.5h0.8v0.8h-0.8zM72.0 221.2h0.8v0.8h-0.8zM59.2 213.7h0.8v0.8h-0.8zM54.1 218.1h0.8v0.8h-0.8zM49.3 216.4h0.8v0.8h-0.8zM72.9 219.7h0.8v0.8h-0.8zM53.6 218.7h0.8v0.8h-0.8zM55.7 210.2h0.8v0.8h-0.8zM49.9 219.1h0.8v0.8h-0.8zM78.2 210.4h0.8v0.8h-0.8zM55.3 212.1h0.8v0.8h-0.8zM86.3 217.5h0.8v0.8h-0.8zM57.3 205.4h0.8v0.8h-0.8zM56.1 219.1h0.8v0.8h-0.8zM80.2 211.8h0.8v0.8h-0.8zM55.9 211.3h0.8v0.8h-0.8zM44.6 218.1h0.8v0.8h-0.8zM52.2 218.6h0.8v0.8h-0.8zM46.3 208.1h0.8v0.8h-0.8zM65.2 209.9h0.8v0.8h-0.8zM69.9 213.4h0.8v0.8h-0.8zM51.3 216.6h0.8v0.8h-0.8zM70.5 204.5h0.8v0.8h-0.8zM79.8 215.4h0.8v0.8h-0.8zM69.7 204.8h0.8v0.8h-0.8zM55.7 212.1h0.8v0.8h-0.8zM72.7 206.5h0.8v0.8h-0.8zM54.1 204.4h0.8v0.8h-0.8zM60.2 215.1h0.8v0.8h-0.8zM46.5 211.2h0.8v0.8h-0.8zM67.3 220.7h0.8v0.8h-0.8zM68.8 212.0h0.8v0.8h-0.8zM51.3 209.5h0.8v0.8h-0.8zM56.2 214.3h0.8v0.8h-0.8zM62.0 221.2h0.8v0.8h-0.8zM65.2 208.5h0.8v0.8h-0.8zM77.2 217.5h0.8v0.8h-0.8zM63.5 210.2h0.8v0.8h-0.8zM44.7 209.2h0.8v0.8h-0.8zM71.2 209.6h0.8v0.8h-0.8zM50.0 214.7h0.8v0.8h-0.8zM64.8 216.2h0.8v0.8h-0.8zM68.7 219.8h0.8v0.8h-0.8zM54.5 218.2h0.8v0.8h-0.8zM53.1 216.9h0.8v0.8h-0.8zM64.2 214.6h0.8v0.8h-0.8zM71.7 213.2h0.8v0.8h-0.8zM73.1 217.3h0.8v0.8h-0.8zM63.8 210.9h0.8v0.8h-0.8zM55.3 211.2h0.8v0.8h-0.8zM60.6 213.4h0.8v0.8h-0.8zM90.8 215.7h0.8v0.8h-0.8zM69.8 209.4h0.8v0.8h-0.8zM55.8 212.2h0.8v0.8h-0.8zM64.3 208.7h0.8v0.8h-0.8zM77.8 210.5h0.8v0.8h-0.8zM72.7 202.5h0.8v0.8h-0.8zM62.4 214.8h0.8v0.8h-0.8zM64.3 216.2h0.8v0.8h-0.8zM65.2 214.2h0.8v0.8h-0.8zM44.5 210.7h0.8v0.8h-0.8zM65.4 212.5h0.8v0.8h-0.8zM54.7 211.0h0.8v0.8h-0.8zM80.0 221.0h0.8v0.8h-0.8zM61.9 219.4h0.8v0.8h-0.8zM47.4 205.0h0.8v0.8h-0.8zM57.9 209.6h0.8v0.8h-0.8zM57.2 214.5h0.8v0.8h-0.8zM91.2 209.8h0.8v0.8h-0.8zM63.0 214.8h0.8v0.8h-0.8zM62.2 217.8h0.8v0.8h-0.8zM79.4 207.4h0.8v0.8h-0.8zM64.0 212.2h0.8v0.8h-0.8zM65.9 206.4h0.8v0.8h-0.8zM45.8 203.3h0.8v0.8h-0.8zM67.5 214.3h0.8v0.8h-0.8zM63.2 202.6h0.8v0.8h-0.8zM59.0 210.1h0.8v0.8h-0.8zM49.1 209.6h0.8v0.8h-0.8zM69.1 215.8h0.8v0.8h-0.8zM62.3 215.9h0.8v0.8h-0.8zM56.8 214.0h0.8v0.8h-0.8zM62.9 216.0h0.8v0.8h-0.8zM61.8 212.9h0.8v0.8h-0.8zM61.2 210.6h0.8v0.8h-0.8zM83.7 215.3h0.8v0.8h-0.8zM66.6 223.9h0.8v0.8h-0.8zM75.8 206.0h0.8v0.8h-0.8zM69.1 217.2h0.8v0.8h-0.8zM80.4 219.1h0.8v0.8h-0.8zM69.8 207.9h0.8v0.8h-0.8zM54.2 214.9h0.8v0.8h-0.8zM67.3 208.7h0.8v0.8h-0.8zM58.8 211.7h0.8v0.8h-0.8zM63.1 215.0h0.8v0.8h-0.8zM59.8 207.9h0.8v0.8h-0.8zM74.3 220.5h0.8v0.8h-0.8zM61.5 218.2h0.8v0.8h-0.8zM66.7 216.4h0.8v0.8h-0.8zM67.1 209.9h0.8v0.8h-0.8zM68.0 218.0h0.8v0.8h-0.8zM54.0 222.7h0.8v0.8h-0.8zM82.4 221.4h0.8v0.8h-0.8zM81.4 216.5h0.8v0.8h-0.8zM59.3 210.8h0.8v0.8h-0.8zM54.8 214.2h0.8v0.8h-0.8zM62.2 216.6h0.8v0.8h-0.8zM43.3 224.6h0.8v0.8h-0.8zM84.1 212.9h0.8v0.8h-0.8zM68.9 215.5h0.8v0.8h-0.8zM65.1 212.5h0.8v0.8h-0.8zM61.3 209.7h0.8v0.8h-0.8zM64.2 213.3h0.8v0.8h-0.8zM65.5 209.5h0.8v0.8h-0.8zM62.9 213.7h0.8v0.8h-0.8zM68.2 208.5h0.8v0.8h-0.8zM66.5 217.9h0.8v0.8h-0.8zM68.2 211.7h0.8v0.8h-0.8zM57.8 212.5h0.8v0.8h-0.8zM69.4 220.5h0.8v0.8h-0.8zM61.0 210.6h0.8v0.8h-0.8zM66.1 214.4h0.8v0.8h-0.8zM53.9 210.3h0.8v0.8h-0.8zM61.5 216.6h0.8v0.8h-0.8zM51.2 209.1h0.8v0.8h-0.8zM67.2 207.8h0.8v0.8h-0.8zM63.5 215.1h0.8v0.8h-0.8zM61.4 208.8h0.8v0.8h-0.8zM61.9 212.0h0.8v0.8h-0.8zM65.7 209.6h0.8v0.8h-0.8zM72.9 205.6h0.8v0.8h-0.8zM60.8 213.6h0.8v0.8h-0.8zM71.6 210.5h0.8v0.8h-0.8zM67.7 210.8h0.8v0.8h-0.8zM69.5 221.3h0.8v0.8h-0.8zM58.7 215.6h0.8v0.8h-0.8zM53.7 218.2h0.8v0.8h-0.8zM74.0 213.4h0.8v0.8h-0.8zM51.7 215.6h0.8v0.8h-0.8zM73.4 218.2h0.8v0.8h-0.8zM70.2 204.9h0.8v0.8h-0.8zM56.0 220.2h0.8v0.8h-0.8zM50.9 219.0h0.8v0.8h-0.8zM80.4 216.6h0.8v0.8h-0.8zM73.1 211.7h0.8v0.8h-0.8zM50.9 213.3h0.8v0.8h-0.8zM60.6 213.3h0.8v0.8h-0.8zM69.1 212.7h0.8v0.8h-0.8zM64.3 215.4h0.8v0.8h-0.8zM62.4 222.0h0.8v0.8h-0.8zM66.7 213.8h0.8v0.8h-0.8zM60.5 210.7h0.8v0.8h-0.8zM75.3 213.9h0.8v0.8h-0.8zM52.3 211.2h0.8v0.8h-0.8zM61.2 211.5h0.8v0.8h-0.8zM72.8 207.9h0.8v0.8h-0.8zM67.2 214.0h0.8v0.8h-0.8zM51.3 214.0h0.8v0.8h-0.8zM61.6 215.8h0.8v0.8h-0.8zM58.2 215.0h0.8v0.8h-0.8zM46.7 208.9h0.8v0.8h-0.8zM70.0 218.1h0.8v0.8h-0.8zM62.4 210.8h0.8v0.8h-0.8zM72.8 203.6h0.8v0.8h-0.8zM54.9 216.8h0.8v0.8h-0.8zM68.7 208.6h0.8v0.8h-0.8zM44.6 220.6h0.8v0.8h-0.8zM64.0 209.3h0.8v0.8h-0.8zM63.0 217.6h0.8v0.8h-0.8zM69.5 203.8h0.8v0.8h-0.8zM69.8 205.1h0.8v0.8h-0.8zM73.3 215.1h0.8v0.8h-0.8zM83.9 210.2h0.8v0.8h-0.8zM62.5 218.3h0.8v0.8h-0.8zM56.4 210.4h0.8v0.8h-0.8zM59.0 213.3h0.8v0.8h-0.8zM52.2 216.0h0.8v0.8h-0.8zM67.7 213.7h0.8v0.8h-0.8zM78.7 211.6h0.8v0.8h-0.8zM74.9 210.7h0.8v0.8h-0.8zM69.7 204.4h0.8v0.8h-0.8zM64.4 212.6h0.8v0.8h-0.8zM57.8 210.8h0.8v0.8h-0.8zM59.2 210.3h0.8v0.8h-0.8zM57.3 211.2h0.8v0.8h-0.8zM52.5 213.1h0.8v0.8h-0.8zM70.0 212.2h0.8v0.8h-0.8zM57.8 219.8h0.8v0.8h-0.8zM71.8 217.5h0.8v0.8h-0.8zM73.5 211.7h0.8v0.8h-0.8zM61.3 218.6h0.8v0.8h-0.8zM57.2 213.1h0.8v0.8h-0.8zM66.1 215.1h0.8v0.8h-0.8zM59.9 218.1h0.8v0.8h-0.8zM60.8 216.9h0.8v0.8h-0.8zM72.7 216.3h0.8v0.8h-0.8zM69.5 208.0h0.8v0.8h-0.8zM50.0 211.0h0.8v0.8h-0.8zM67.0 220.3h0.8v0.8h-0.8zM50.9 215.2h0.8v0.8h-0.8zM54.4 210.3h0.8v0.8h-0.8zM59.9 216.7h0.8v0.8h-0.8zM64.5 218.9h0.8v0.8h-0.8zM53.1 217.8h0.8v0.8h-0.8zM71.3 213.6h0.8v0.8h-0.8zM67.0 210.8h0.8v0.8h-0.8zM52.1 211.9h0.8v0.8h-0.8zM56.4 226.9h0.8v0.8h-0.8zM57.9 221.2h0.8v0.8h-0.8zM64.4 214.9h0.8v0.8h-0.8zM69.6 209.7h0.8v0.8h-0.8zM71.2 215.0h0.8v0.8h-0.8zM48.1 216.6h0.8v0.8h-0.8zM67.7 215.5h0.8v0.8h-0.8zM77.6 211.2h0.8v0.8h-0.8zM67.4 216.8h0.8v0.8h-0.8zM53.9 219.2h0.8v0.8h-0.8zM48.7 207.9h0.8v0.8h-0.8zM67.5 208.4h0.8v0.8h-0.8zM61.4 206.0h0.8v0.8h-0.8zM63.2 208.3h0.8v0.8h-0.8zM65.7 206.4h0.8v0.8h-0.8zM66.8 212.2h0.8v0.8h-0.8zM63.1 213.2h0.8v0.8h-0.8zM63.7 207.4h0.8v0.8h-0.8zM53.6 211.6h0.8v0.8h-0.8zM66.6 204.3h0.8v0.8h-0.8zM55.2 210.9h0.8v0.8h-0.8zM52.5 215.2h0.8v0.8h-0.8zM61.2 209.8h0.8v0.8h-0.8zM53.1 217.4h0.8v0.8h-0.8zM56.2 216.3h0.8v0.8h-0.8zM66.8 204.7h0.8v0.8h-0.8zM52.2 213.8h0.8v0.8h-0.8zM65.7 217.0h0.8v0.8h-0.8zM70.1 218.1h0.8v0.8h-0.8zM58.9 212.6h0.8v0.8h-0.8zM69.9 211.4h0.8v0.8h-0.8zM72.5 206.0h0.8v0.8h-0.8zM68.7 212.6h0.8v0.8h-0.8zM43.8 218.5h0.8v0.8h-0.8zM65.5 213.5h0.8v0.8h-0.8zM52.3 211.6h0.8v0.8h-0.8zM76.9 209.4h0.8v0.8h-0.8zM51.1 213.2h0.8v0.8h-0.8zM58.8 209.4h0.8v0.8h-0.8zM54.5 218.5h0.8v0.8h-0.8zM48.8 222.8h0.8v0.8h-0.8zM57.3 208.6h0.8v0.8h-0.8zM70.0 215.9h0.8v0.8h-0.8zM52.6 217.2h0.8v0.8h-0.8zM45.0 209.7h0.8v0.8h-0.8zM73.2 212.1h0.8v0.8h-0.8zM50.1 216.2h0.8v0.8h-0.8zM71.2 213.2h0.8v0.8h-0.8zM45.3 212.3h0.8v0.8h-0.8zM66.5 216.9h0.8v0.8h-0.8zM80.1 211.9h0.8v0.8h-0.8zM57.9 213.4h0.8v0.8h-0.8zM74.0 208.9h0.8v0.8h-0.8zM74.9 200.6h0.8v0.8h-0.8zM70.1 210.2h0.8v0.8h-0.8zM66.9 216.6h0.8v0.8h-0.8zM51.3 213.4h0.8v0.8h-0.8zM64.8 216.1h0.8v0.8h-0.8zM53.7 209.2h0.8v0.8h-0.8zM44.2 225.6h0.8v0.8h-0.8zM60.7 212.5h0.8v0.8h-0.8zM48.3 218.1h0.8v0.8h-0.8zM57.4 220.2h0.8v0.8h-0.8zM70.6 213.4h0.8v0.8h-0.8zM69.4 208.2h0.8v0.8h-0.8zM59.4 210.9h0.8v0.8h-0.8zM50.4 213.9h0.8v0.8h-0.8zM61.1 220.1h0.8v0.8h-0.8zM53.8 211.6h0.8v0.8h-0.8zM66.5 215.3h0.8v0.8h-0.8zM62.8 211.3h0.8v0.8h-0.8zM67.2 215.0h0.8v0.8h-0.8zM45.0 212.7h0.8v0.8h-0.8zM49.4 208.4h0.8v0.8h-0.8zM63.9 213.7h0.8v0.8h-0.8zM63.6 209.5h0.8v0.8h-0.8zM60.6 209.4h0.8v0.8h-0.8zM66.1 216.6h0.8v0.8h-0.8zM79.2 218.9h0.8v0.8h-0.8zM54.8 211.6h0.8v0.8h-0.8zM53.6 215.1h0.8v0.8h-0.8zM81.3 216.3h0.8v0.8h-0.8zM50.2 216.2h0.8v0.8h-0.8zM62.5 214.9h0.8v0.8h-0.8zM79.4 209.3h0.8v0.8h-0.8zM54.4 222.7h0.8v0.8h-0.8zM65.8 209.8h0.8v0.8h-0.8zM43.2 207.0h0.8v0.8h-0.8zM62.9 218.1h0.8v0.8h-0.8zM61.2 210.3h0.8v0.8h-0.8zM55.5 222.4h0.8v0.8h-0.8zM45.7 214.7h0.8v0.8h-0.8zM62.7 216.3h0.8v0.8h-0.8zM58.7 215.9h0.8v0.8h-0.8zM70.2 212.6h0.8v0.8h-0.8zM58.2 212.7h0.8v0.8h-0.8zM53.3 212.8h0.8v0.8h-0.8zM59.6 214.5h0.8v0.8h-0.8zM75.2 219.2h0.8v0.8h-0.8zM58.3 216.4h0.8v0.8h-0.8zM65.3 216.9h0.8v0.8h-0.8zM62.7 214.7h0.8v0.8h-0.8zM58.0 210.0h0.8v0.8h-0.8zM70.8 219.3h0.8v0.8h-0.8zM68.8 215.3h0.8v0.8h-0.8zM65.0 211.4h0.8v0.8h-0.8zM45.6 217.0h0.8v0.8h-0.8zM64.4 210.9h0.8v0.8h-0.8zM53.3 219.6h0.8v0.8h-0.8zM45.4 222.0h0.8v0.8h-0.8zM68.6 224.2h0.8v0.8h-0.8zM55.7 213.6h0.8v0.8h-0.8zM57.7 214.3h0.8v0.8h-0.8zM60.5 210.1h0.8v0.8h-0.8zM72.7 209.6h0.8v0.8h-0.8zM57.7 216.2h0.8v0.8h-0.8zM57.4 211.6h0.8v0.8h-0.8zM65.9 211.7h0.8v0.8h-0.8zM50.7 213.3h0.8v0.8h-0.8zM60.4 221.4h0.8v0.8h-0.8zM52.1 218.2h0.8v0.8h-0.8zM55.0 212.0h0.8v0.8h-0.8zM59.4 214.8h0.8v0.8h-0.8zM70.7 221.3h0.8v0.8h-0.8zM56.5 219.8h0.8v0.8h-0.8zM72.0 217.0h0.8v0.8h-0.8zM55.3 217.8h0.8v0.8h-0.8zM61.5 215.1h0.8v0.8h-0.8zM59.9 216.6h0.8v0.8h-0.8zM73.1 218.4h0.8v0.8h-0.8zM60.6 218.1h0.8v0.8h-0.8zM76.3 208.9h0.8v0.8h-0.8zM76.5 207.0h0.8v0.8h-0.8zM67.7 216.1h0.8v0.8h-0.8zM76.6 214.4h0.8v0.8h-0.8zM57.9 209.9h0.8v0.8h-0.8zM50.6 217.3h0.8v0.8h-0.8zM60.2 210.3h0.8v0.8h-0.8zM67.6 209.9h0.8v0.8h-0.8zM58.3 211.5h0.8v0.8h-0.8zM78.2 219.8h0.8v0.8h-0.8zM61.0 206.3h0.8v0.8h-0.8zM65.1 213.8h0.8v0.8h-0.8zM65.8 216.0h0.8v0.8h-0.8zM59.5 217.8h0.8v0.8h-0.8zM70.5 214.3h0.8v0.8h-0.8zM58.6 211.4h0.8v0.8h-0.8zM69.1 208.3h0.8v0.8h-0.8zM61.0 210.1h0.8v0.8h-0.8zM49.3 216.6h0.8v0.8h-0.8zM62.3 213.7h0.8v0.8h-0.8zM70.8 206.4h0.8v0.8h-0.8zM61.9 214.8h0.8v0.8h-0.8zM70.4 208.3h0.8v0.8h-0.8zM69.3 214.3h0.8v0.8h-0.8zM75.4 218.4h0.8v0.8h-0.8zM67.7 223.2h0.8v0.8h-0.8zM62.5 211.6h0.8v0.8h-0.8zM59.3 209.3h0.8v0.8h-0.8zM62.2 204.9h0.8v0.8h-0.8zM61.7 215.5h0.8v0.8h-0.8zM71.9 211.7h0.8v0.8h-0.8zM75.7 210.2h0.8v0.8h-0.8zM61.2 204.9h0.8v0.8h-0.8zM55.3 210.0h0.8v0.8h-0.8zM76.4 215.5h0.8v0.8h-0.8zM52.3 216.1h0.8v0.8h-0.8zM67.0 212.3h0.8v0.8h-0.8zM62.7 212.1h0.8v0.8h-0.8zM57.5 205.7h0.8v0.8h-0.8zM61.7 219.3h0.8v0.8h-0.8zM75.8 211.9h0.8v0.8h-0.8zM55.6 212.7h0.8v0.8h-0.8zM70.8 214.9h0.8v0.8h-0.8zM57.1 215.3h0.8v0.8h-0.8zM60.6 215.9h0.8v0.8h-0.8zM58.7 207.0h0.8v0.8h-0.8zM63.0 216.9h0.8v0.8h-0.8zM52.2 213.3h0.8v0.8h-0.8zM70.6 211.6h0.8v0.8h-0.8zM56.5 222.7h0.8v0.8h-0.8zM70.2 217.9h0.8v0.8h-0.8zM53.7 221.0h0.8v0.8h-0.8zM47.2 211.6h0.8v0.8h-0.8zM69.3 219.3h0.8v0.8h-0.8zM53.9 210.7h0.8v0.8h-0.8zM64.3 204.8h0.8v0.8h-0.8zM68.4 215.9h0.8v0.8h-0.8zM58.4 216.0h0.8v0.8h-0.8zM69.7 214.7h0.8v0.8h-0.8zM67.3 220.1h0.8v0.8h-0.8zM58.1 214.3h0.8v0.8h-0.8zM57.7 218.2h0.8v0.8h-0.8zM58.7 215.7h0.8v0.8h-0.8zM63.8 213.8h0.8v0.8h-0.8zM78.3 212.7h0.8v0.8h-0.8zM75.5 216.9h0.8v0.8h-0.8zM74.6 212.5h0.8v0.8h-0.8zM71.0 216.7h0.8v0.8h-0.8zM56.9 214.8h0.8v0.8h-0.8zM61.3 213.4h0.8v0.8h-0.8zM74.5 210.0h0.8v0.8h-0.8zM47.1 206.1h0.8v0.8h-0.8zM58.3 210.7h0.8v0.8h-0.8zM62.6 216.0h0.8v0.8h-0.8zM78.6 214.5h0.8v0.8h-0.8zM66.7 210.1h0.8v0.8h-0.8zM67.8 219.4h0.8v0.8h-0.8zM74.8 204.5h0.8v0.8h-0.8zM70.7 220.3h0.8v0.8h-0.8zM70.1 206.7h0.8v0.8h-0.8zM59.7 216.2h0.8v0.8h-0.8zM66.3 209.8h0.8v0.8h-0.8zM54.4 218.0h0.8v0.8h-0.8zM50.3 220.1h0.8v0.8h-0.8zM62.7 214.8h0.8v0.8h-0.8zM50.3 211.2h0.8v0.8h-0.8zM68.8 206.8h0.8v0.8h-0.8zM81.4 206.8h0.8v0.8h-0.8zM51.3 214.0h0.8v0.8h-0.8zM66.9 216.6h0.8v0.8h-0.8zM59.1 212.7h0.8v0.8h-0.8zM60.3 211.0h0.8v0.8h-0.8zM64.8 214.1h0.8v0.8h-0.8zM56.8 214.7h0.8v0.8h-0.8zM62.4 213.2h0.8v0.8h-0.8zM72.6 205.7h0.8v0.8h-0.8zM64.8 208.7h0.8v0.8h-0.8zM59.6 220.2h0.8v0.8h-0.8zM52.6 213.3h0.8v0.8h-0.8zM57.1 217.8h0.8v0.8h-0.8zM53.6 206.3h0.8v0.8h-0.8zM67.2 211.8h0.8v0.8h-0.8zM59.6 218.3h0.8v0.8h-0.8zM54.4 212.0h0.8v0.8h-0.8zM63.8 215.3h0.8v0.8h-0.8zM57.8 218.2h0.8v0.8h-0.8zM82.9 211.2h0.8v0.8h-0.8zM79.6 203.8h0.8v0.8h-0.8zM75.3 211.7h0.8v0.8h-0.8zM63.8 212.0h0.8v0.8h-0.8zM56.7 208.0h0.8v0.8h-0.8zM58.9 219.3h0.8v0.8h-0.8zM72.9 211.7h0.8v0.8h-0.8zM57.7 210.5h0.8v0.8h-0.8zM51.6 221.7h0.8v0.8h-0.8zM68.6 213.9h0.8v0.8h-0.8zM58.0 209.1h0.8v0.8h-0.8zM74.5 216.7h0.8v0.8h-0.8zM53.8 218.1h0.8v0.8h-0.8zM52.4 216.6h0.8v0.8h-0.8zM53.7 211.9h0.8v0.8h-0.8zM67.0 215.3h0.8v0.8h-0.8zM71.7 209.6h0.8v0.8h-0.8zM76.9 219.1h0.8v0.8h-0.8zM62.4 215.6h0.8v0.8h-0.8zM55.4 213.0h0.8v0.8h-0.8zM50.5 214.2h0.8v0.8h-0.8zM64.3 219.4h0.8v0.8h-0.8zM71.1 216.9h0.8v0.8h-0.8zM59.2 212.6h0.8v0.8h-0.8zM59.4 214.6h0.8v0.8h-0.8zM44.9 217.3h0.8v0.8h-0.8zM48.2 211.6h0.8v0.8h-0.8zM62.7 211.2h0.8v0.8h-0.8zM77.7 212.7h0.8v0.8h-0.8zM76.8 218.3h0.8v0.8h-0.8zM58.0 215.4h0.8v0.8h-0.8zM74.3 211.7h0.8v0.8h-0.8zM63.3 211.0h0.8v0.8h-0.8zM63.0 211.9h0.8v0.8h-0.8zM63.3 217.9h0.8v0.8h-0.8zM75.2 213.8h0.8v0.8h-0.8zM64.3 217.2h0.8v0.8h-0.8zM59.9 208.9h0.8v0.8h-0.8zM72.6 209.1h0.8v0.8h-0.8zM71.0 209.0h0.8v0.8h-0.8zM79.2 208.5h0.8v0.8h-0.8zM70.2 219.9h0.8v0.8h-0.8zM53.7 220.3h0.8v0.8h-0.8zM55.0 205.9h0.8v0.8h-0.8zM69.1 216.4h0.8v0.8h-0.8zM60.7 202.4h0.8v0.8h-0.8zM62.0 212.2h0.8v0.8h-0.8zM59.0 212.3h0.8v0.8h-0.8zM46.2 211.4h0.8v0.8h-0.8zM78.9 219.9h0.8v0.8h-0.8zM59.2 210.4h0.8v0.8h-0.8zM66.1 218.1h0.8v0.8h-0.8zM69.1 208.2h0.8v0.8h-0.8zM64.0 214.1h0.8v0.8h-0.8zM75.6 218.5h0.8v0.8h-0.8zM67.3 218.7h0.8v0.8h-0.8zM58.9 220.4h0.8v0.8h-0.8zM58.6 215.3h0.8v0.8h-0.8zM70.9 209.3h0.8v0.8h-0.8zM56.1 205.9h0.8v0.8h-0.8zM64.0 213.2h0.8v0.8h-0.8zM59.5 215.8h0.8v0.8h-0.8zM43.2 213.9h0.8v0.8h-0.8zM63.3 212.3h0.8v0.8h-0.8zM69.7 221.1h0.8v0.8h-0.8zM58.4 209.5h0.8v0.8h-0.8zM57.0 214.0h0.8v0.8h-0.8zM67.8 209.6h0.8v0.8h-0.8zM71.6 208.8h0.8v0.8h-0.8zM70.0 215.2h0.8v0.8h-0.8zM66.7 222.9h0.8v0.8h-0.8zM60.1 212.8h0.8v0.8h-0.8zM66.8 217.2h0.8v0.8h-0.8zM50.3 215.0h0.8v0.8h-0.8zM55.7 216.4h0.8v0.8h-0.8zM75.0 213.4h0.8v0.8h-0.8zM61.5 214.3h0.8v0.8h-0.8zM67.6 214.1h0.8v0.8h-0.8zM58.9 210.4h0.8v0.8h-0.8zM60.9 218.9h0.8v0.8h-0.8zM61.6 219.5h0.8v0.8h-0.8zM65.0 213.4h0.8v0.8h-0.8zM47.4 210.9h0.8v0.8h-0.8zM73.9 207.5h0.8v0.8h-0.8zM53.5 208.9h0.8v0.8h-0.8zM57.5 216.5h0.8v0.8h-0.8zM67.9 204.4h0.8v0.8h-0.8zM75.8 210.6h0.8v0.8h-0.8zM57.1 221.0h0.8v0.8h-0.8zM61.8 208.1h0.8v0.8h-0.8zM56.7 210.4h0.8v0.8h-0.8zM53.3 212.3h0.8v0.8h-0.8zM70.5 214.9h0.8v0.8h-0.8zM49.9 226.1h0.8v0.8h-0.8zM53.5 214.2h0.8v0.8h-0.8zM62.8 216.9h0.8v0.8h-0.8zM59.5 215.6h0.8v0.8h-0.8zM81.7 213.5h0.8v0.8h-0.8zM52.6 215.2h0.8v0.8h-0.8zM55.2 212.0h0.8v0.8h-0.8zM64.2 214.9h0.8v0.8h-0.8zM59.9 217.3h0.8v0.8h-0.8zM60.7 207.8h0.8v0.8h-0.8zM70.5 211.7h0.8v0.8h-0.8zM73.6 210.3h0.8v0.8h-0.8zM67.7 214.8h0.8v0.8h-0.8zM52.3 220.0h0.8v0.8h-0.8zM45.3 217.9h0.8v0.8h-0.8zM72.5 215.4h0.8v0.8h-0.8zM68.6 211.2h0.8v0.8h-0.8zM62.4 214.5h0.8v0.8h-0.8zM66.3 216.5h0.8v0.8h-0.8zM60.6 210.5h0.8v0.8h-0.8zM57.4 215.4h0.8v0.8h-0.8zM47.4 208.3h0.8v0.8h-0.8zM58.7 211.2h0.8v0.8h-0.8zM60.0 201.8h0.8v0.8h-0.8zM59.4 212.5h0.8v0.8h-0.8zM69.6 204.6h0.8v0.8h-0.8zM59.7 215.7h0.8v0.8h-0.8zM67.0 218.7h0.8v0.8h-0.8zM72.1 208.6h0.8v0.8h-0.8zM68.3 211.9h0.8v0.8h-0.8zM55.2 220.4h0.8v0.8h-0.8zM56.8 209.9h0.8v0.8h-0.8zM58.8 209.8h0.8v0.8h-0.8zM71.7 215.0h0.8v0.8h-0.8zM75.3 215.0h0.8v0.8h-0.8zM56.9 218.3h0.8v0.8h-0.8zM56.5 211.6h0.8v0.8h-0.8zM61.0 213.7h0.8v0.8h-0.8zM73.4 210.6h0.8v0.8h-0.8zM65.7 213.3h0.8v0.8h-0.8zM51.0 208.9h0.8v0.8h-0.8zM60.5 215.3h0.8v0.8h-0.8zM65.4 215.5h0.8v0.8h-0.8zM62.9 211.5h0.8v0.8h-0.8zM66.4 209.0h0.8v0.8h-0.8zM50.2 212.3h0.8v0.8h-0.8zM49.4 211.5h0.8v0.8h-0.8zM55.7 211.2h0.8v0.8h-0.8zM62.1 210.0h0.8v0.8h-0.8zM58.6 206.0h0.8v0.8h-0.8zM63.8 209.6h0.8v0.8h-0.8zM66.2 200.9h0.8v0.8h-0.8zM55.2 214.8h0.8v0.8h-0.8zM63.4 213.9h0.8v0.8h-0.8zM48.8 214.8h0.8v0.8h-0.8zM63.9 209.2h0.8v0.8h-0.8zM69.3 213.1h0.8v0.8h-0.8zM62.7 211.5h0.8v0.8h-0.8zM67.5 213.8h0.8v0.8h-0.8zM72.9 215.2h0.8v0.8h-0.8zM56.8 212.6h0.8v0.8h-0.8zM70.9 211.7h0.8v0.8h-0.8zM66.0 215.7h0.8v0.8h-0.8zM60.9 203.2h0.8v0.8h-0.8zM63.7 214.4h0.8v0.8h-0.8zM63.7 210.1h0.8v0.8h-0.8zM73.6 212.6h0.8v0.8h-0.8zM56.8 210.5h0.8v0.8h-0.8zM65.8 208.6h0.8v0.8h-0.8zM53.3 222.6h0.8v0.8h-0.8zM74.5 217.9h0.8v0.8h-0.8zM75.0 215.8h0.8v0.8h-0.8zM47.0 219.2h0.8v0.8h-0.8zM73.9 215.4h0.8v0.8h-0.8zM44.5 219.5h0.8v0.8h-0.8zM75.1 211.0h0.8v0.8h-0.8zM63.7 216.9h0.8v0.8h-0.8zM61.7 218.4h0.8v0.8h-0.8zM63.2 216.6h0.8v0.8h-0.8zM63.3 206.9h0.8v0.8h-0.8zM53.3 227.8h0.8v0.8h-0.8zM65.1 219.3h0.8v0.8h-0.8zM73.0 220.9h0.8v0.8h-0.8zM67.6 210.7h0.8v0.8h-0.8zM62.7 204.9h0.8v0.8h-0.8zM60.8 217.6h0.8v0.8h-0.8zM42.6 214.9h0.8v0.8h-0.8zM70.1 219.2h0.8v0.8h-0.8zM54.0 210.8h0.8v0.8h-0.8zM45.2 209.4h0.8v0.8h-0.8zM67.4 222.6h0.8v0.8h-0.8zM51.9 219.9h0.8v0.8h-0.8zM66.4 211.2h0.8v0.8h-0.8zM82.7 201.8h0.8v0.8h-0.8zM61.9 214.5h0.8v0.8h-0.8zM82.2 221.0h0.8v0.8h-0.8zM83.4 213.6h0.8v0.8h-0.8zM71.6 219.4h0.8v0.8h-0.8zM67.2 215.0h0.8v0.8h-0.8zM60.8 211.7h0.8v0.8h-0.8zM51.2 222.5h0.8v0.8h-0.8zM58.4 204.3h0.8v0.8h-0.8zM64.9 213.3h0.8v0.8h-0.8zM64.1 221.6h0.8v0.8h-0.8zM61.5 212.3h0.8v0.8h-0.8zM55.6 213.6h0.8v0.8h-0.8zM58.4 214.5h0.8v0.8h-0.8zM91.4 214.6h0.8v0.8h-0.8zM54.6 222.3h0.8v0.8h-0.8zM70.5 217.0h0.8v0.8h-0.8zM69.1 217.0h0.8v0.8h-0.8zM68.7 219.7h0.8v0.8h-0.8zM71.8 219.3h0.8v0.8h-0.8zM57.9 213.6h0.8v0.8h-0.8zM55.8 217.9h0.8v0.8h-0.8zM70.2 211.2h0.8v0.8h-0.8zM67.9 225.1h0.8v0.8h-0.8zM73.9 208.2h0.8v0.8h-0.8zM61.6 216.4h0.8v0.8h-0.8zM62.2 215.2h0.8v0.8h-0.8zM73.4 214.7h0.8v0.8h-0.8zM52.3 216.9h0.8v0.8h-0.8zM61.6 214.0h0.8v0.8h-0.8zM57.3 207.4h0.8v0.8h-0.8zM51.0 212.2h0.8v0.8h-0.8zM52.6 201.6h0.8v0.8h-0.8zM73.1 208.0h0.8v0.8h-0.8zM55.8 216.0h0.8v0.8h-0.8zM55.4 216.6h0.8v0.8h-0.8zM58.0 215.0h0.8v0.8h-0.8zM63.5 213.5h0.8v0.8h-0.8zM45.6 207.3h0.8v0.8h-0.8zM62.1 219.8h0.8v0.8h-0.8zM57.5 216.0h0.8v0.8h-0.8zM64.0 215.6h0.8v0.8h-0.8zM71.7 206.6h0.8v0.8h-0.8zM65.0 212.6h0.8v0.8h-0.8zM59.6 209.7h0.8v0.8h-0.8zM55.2 209.1h0.8v0.8h-0.8zM52.3 225.0h0.8v0.8h-0.8zM78.2 213.2h0.8v0.8h-0.8zM69.4 209.0h0.8v0.8h-0.8zM63.8 219.9h0.8v0.8h-0.8zM62.1 209.0h0.8v0.8h-0.8zM60.3 209.1h0.8v0.8h-0.8zM49.6 212.8h0.8v0.8h-0.8zM58.8 210.0h0.8v0.8h-0.8zM54.3 209.5h0.8v0.8h-0.8zM64.7 219.7h0.8v0.8h-0.8zM60.6 223.6h0.8v0.8h-0.8zM47.5 215.1h0.8v0.8h-0.8zM51.8 213.0h0.8v0.8h-0.8zM63.4 216.0h0.8v0.8h-0.8zM73.0 210.8h0.8v0.8h-0.8zM51.0 212.9h0.8v0.8h-0.8zM65.2 210.3h0.8v0.8h-0.8zM70.8 220.8h0.8v0.8h-0.8zM49.3 215.4h0.8v0.8h-0.8zM71.9 204.7h0.8v0.8h-0.8zM64.4 212.4h0.8v0.8h-0.8zM49.3 219.7h0.8v0.8h-0.8zM64.5 211.3h0.8v0.8h-0.8zM66.6 216.3h0.8v0.8h-0.8zM69.6 215.9h0.8v0.8h-0.8zM66.3 208.1h0.8v0.8h-0.8zM58.6 214.2h0.8v0.8h-0.8zM59.0 208.9h0.8v0.8h-0.8zM45.7 215.0h0.8v0.8h-0.8zM62.8 210.9h0.8v0.8h-0.8zM58.6 209.6h0.8v0.8h-0.8zM55.6 213.2h0.8v0.8h-0.8zM56.5 216.7h0.8v0.8h-0.8zM61.2 214.1h0.8v0.8h-0.8zM66.3 219.1h0.8v0.8h-0.8zM68.1 214.4h0.8v0.8h-0.8zM61.0 209.9h0.8v0.8h-0.8zM59.3 216.6h0.8v0.8h-0.8zM64.6 211.7h0.8v0.8h-0.8zM50.2 206.9h0.8v0.8h-0.8zM65.5 218.0h0.8v0.8h-0.8zM66.0 207.3h0.8v0.8h-0.8zM60.5 214.5h0.8v0.8h-0.8zM54.0 215.3h0.8v0.8h-0.8zM60.6 209.8h0.8v0.8h-0.8zM51.0 217.4h0.8v0.8h-0.8zM65.8 209.4h0.8v0.8h-0.8zM53.1 217.7h0.8v0.8h-0.8zM68.0 212.0h0.8v0.8h-0.8zM77.2 211.8h0.8v0.8h-0.8zM52.7 218.6h0.8v0.8h-0.8zM60.8 215.1h0.8v0.8h-0.8zM62.9 209.0h0.8v0.8h-0.8zM51.5 212.9h0.8v0.8h-0.8zM75.5 208.7h0.8v0.8h-0.8zM75.1 214.2h0.8v0.8h-0.8zM52.2 214.9h0.8v0.8h-0.8zM67.7 209.4h0.8v0.8h-0.8zM42.8 215.6h0.8v0.8h-0.8zM52.2 215.7h0.8v0.8h-0.8zM44.8 213.3h0.8v0.8h-0.8zM55.0 207.1h0.8v0.8h-0.8zM60.3 214.3h0.8v0.8h-0.8zM57.4 208.3h0.8v0.8h-0.8zM64.5 205.6h0.8v0.8h-0.8zM67.4 215.6h0.8v0.8h-0.8zM78.0 217.1h0.8v0.8h-0.8zM65.8 214.6h0.8v0.8h-0.8zM62.8 207.6h0.8v0.8h-0.8zM76.0 215.5h0.8v0.8h-0.8zM59.9 208.4h0.8v0.8h-0.8zM76.2 215.5h0.8v0.8h-0.8zM51.6 216.8h0.8v0.8h-0.8zM80.0 213.0h0.8v0.8h-0.8zM66.2 211.6h0.8v0.8h-0.8zM56.7 218.4h0.8v0.8h-0.8zM90.9 213.3h0.8v0.8h-0.8zM61.4 217.1h0.8v0.8h-0.8zM59.7 216.8h0.8v0.8h-0.8zM70.1 208.8h0.8v0.8h-0.8zM52.6 213.4h0.8v0.8h-0.8zM70.2 214.6h0.8v0.8h-0.8zM73.9 207.1h0.8v0.8h-0.8zM67.0 210.6h0.8v0.8h-0.8zM63.4 214.9h0.8v0.8h-0.8zM53.6 212.7h0.8v0.8h-0.8zM51.8 214.9h0.8v0.8h-0.8zM54.7 211.5h0.8v0.8h-0.8zM64.5 210.5h0.8v0.8h-0.8zM73.1 210.4h0.8v0.8h-0.8zM70.3 214.6h0.8v0.8h-0.8zM53.0 212.8h0.8v0.8h-0.8zM54.8 212.1h0.8v0.8h-0.8zM60.0 221.7h0.8v0.8h-0.8zM58.6 220.6h0.8v0.8h-0.8zM66.6 207.6h0.8v0.8h-0.8zM44.2 217.1h0.8v0.8h-0.8zM72.0 215.0h0.8v0.8h-0.8zM60.6 212.4h0.8v0.8h-0.8zM64.9 212.1h0.8v0.8h-0.8zM57.6 212.0h0.8v0.8h-0.8zM73.3 210.5h0.8v0.8h-0.8zM66.0 208.3h0.8v0.8h-0.8zM55.9 207.5h0.8v0.8h-0.8zM60.7 216.6h0.8v0.8h-0.8zM65.3 211.2h0.8v0.8h-0.8zM68.1 211.8h0.8v0.8h-0.8zM65.9 214.6h0.8v0.8h-0.8zM67.5 202.4h0.8v0.8h-0.8zM50.5 217.2h0.8v0.8h-0.8zM61.5 223.5h0.8v0.8h-0.8zM60.3 211.1h0.8v0.8h-0.8zM76.2 215.6h0.8v0.8h-0.8zM80.0 215.3h0.8v0.8h-0.8zM60.6 216.8h0.8v0.8h-0.8zM55.3 211.7h0.8v0.8h-0.8zM57.4 212.6h0.8v0.8h-0.8zM69.7 211.2h0.8v0.8h-0.8zM65.5 211.2h0.8v0.8h-0.8zM70.6 201.1h0.8v0.8h-0.8zM60.6 214.3h0.8v0.8h-0.8zM52.6 218.2h0.8v0.8h-0.8zM64.5 219.1h0.8v0.8h-0.8zM71.3 216.1h0.8v0.8h-0.8zM61.1 208.7h0.8v0.8h-0.8zM60.5 211.5h0.8v0.8h-0.8zM64.8 211.4h0.8v0.8h-0.8zM90.6 205.7h0.8v0.8h-0.8zM73.3 211.2h0.8v0.8h-0.8zM60.3 217.7h0.8v0.8h-0.8zM62.5 208.1h0.8v0.8h-0.8zM66.3 212.5h0.8v0.8h-0.8zM43.6 214.8h0.8v0.8h-0.8zM52.8 210.4h0.8v0.8h-0.8zM66.9 214.7h0.8v0.8h-0.8zM59.8 223.2h0.8v0.8h-0.8zM66.3 210.7h0.8v0.8h-0.8zM64.7 212.9h0.8v0.8h-0.8zM42.3 207.0h0.8v0.8h-0.8zM49.7 223.0h0.8v0.8h-0.8zM60.8 212.3h0.8v0.8h-0.8zM57.3 218.0h0.8v0.8h-0.8zM62.8 221.1h0.8v0.8h-0.8zM69.7 220.6h0.8v0.8h-0.8zM61.4 215.2h0.8v0.8h-0.8zM58.5 212.8h0.8v0.8h-0.8zM46.6 211.3h0.8v0.8h-0.8zM53.8 210.8h0.8v0.8h-0.8zM73.6 214.4h0.8v0.8h-0.8zM73.7 217.0h0.8v0.8h-0.8zM70.9 217.7h0.8v0.8h-0.8zM57.0 217.2h0.8v0.8h-0.8zM59.5 211.2h0.8v0.8h-0.8zM73.4 222.8h0.8v0.8h-0.8zM53.5 221.4h0.8v0.8h-0.8zM70.1 209.6h0.8v0.8h-0.8zM65.0 215.1h0.8v0.8h-0.8zM65.9 211.8h0.8v0.8h-0.8zM50.7 213.9h0.8v0.8h-0.8zM70.4 216.8h0.8v0.8h-0.8zM68.6 218.2h0.8v0.8h-0.8zM53.4 213.5h0.8v0.8h-0.8zM65.6 217.8h0.8v0.8h-0.8zM63.9 215.8h0.8v0.8h-0.8zM63.7 222.8h0.8v0.8h-0.8zM42.5 213.9h0.8v0.8h-0.8zM85.2 214.0h0.8v0.8h-0.8zM45.7 214.5h0.8v0.8h-0.8zM49.4 210.8h0.8v0.8h-0.8zM64.6 221.0h0.8v0.8h-0.8zM66.7 216.4h0.8v0.8h-0.8zM71.8 214.2h0.8v0.8h-0.8zM54.7 213.3h0.8v0.8h-0.8zM65.6 212.2h0.8v0.8h-0.8zM56.4 212.1h0.8v0.8h-0.8zM48.8 209.3h0.8v0.8h-0.8zM61.7 211.9h0.8v0.8h-0.8zM62.8 219.7h0.8v0.8h-0.8zM65.2 213.3h0.8v0.8h-0.8zM51.8 209.0h0.8v0.8h-0.8zM65.9 209.6h0.8v0.8h-0.8zM66.4 208.7h0.8v0.8h-0.8zM63.7 213.1h0.8v0.8h-0.8zM71.6 211.5h0.8v0.8h-0.8zM59.1 214.7h0.8v0.8h-0.8zM63.0 221.0h0.8v0.8h-0.8zM60.1 211.2h0.8v0.8h-0.8zM59.6 215.7h0.8v0.8h-0.8zM64.6 216.5h0.8v0.8h-0.8zM49.9 224.8h0.8v0.8h-0.8zM79.3 213.0h0.8v0.8h-0.8zM51.4 214.5h0.8v0.8h-0.8zM66.3 203.5h0.8v0.8h-0.8zM62.6 207.0h0.8v0.8h-0.8zM66.7 219.5h0.8v0.8h-0.8zM71.9 206.6h0.8v0.8h-0.8zM75.1 217.2h0.8v0.8h-0.8zM59.2 215.8h0.8v0.8h-0.8zM76.4 211.7h0.8v0.8h-0.8zM62.4 211.0h0.8v0.8h-0.8zM73.1 203.7h0.8v0.8h-0.8zM75.5 208.9h0.8v0.8h-0.8zM71.0 206.1h0.8v0.8h-0.8zM53.9 211.1h0.8v0.8h-0.8zM70.1 206.1h0.8v0.8h-0.8zM68.0 210.6h0.8v0.8h-0.8zM73.9 211.9h0.8v0.8h-0.8zM66.9 212.6h0.8v0.8h-0.8zM78.9 211.5h0.8v0.8h-0.8zM62.3 222.3h0.8v0.8h-0.8zM63.2 216.5h0.8v0.8h-0.8zM55.8 214.5h0.8v0.8h-0.8zM41.8 214.5h0.8v0.8h-0.8zM56.6 207.0h0.8v0.8h-0.8zM49.6 218.9h0.8v0.8h-0.8zM66.4 206.7h0.8v0.8h-0.8zM79.1 210.0h0.8v0.8h-0.8zM59.1 214.7h0.8v0.8h-0.8zM52.1 206.6h0.8v0.8h-0.8zM55.7 218.9h0.8v0.8h-0.8zM71.2 206.3h0.8v0.8h-0.8zM73.5 213.4h0.8v0.8h-0.8zM67.1 213.6h0.8v0.8h-0.8zM66.3 209.0h0.8v0.8h-0.8zM54.2 210.6h0.8v0.8h-0.8zM59.1 216.3h0.8v0.8h-0.8zM51.4 220.8h0.8v0.8h-0.8zM56.7 211.0h0.8v0.8h-0.8zM68.9 215.3h0.8v0.8h-0.8zM59.4 208.8h0.8v0.8h-0.8zM53.4 206.7h0.8v0.8h-0.8zM73.0 218.0h0.8v0.8h-0.8zM79.6 215.3h0.8v0.8h-0.8zM65.5 216.8h0.8v0.8h-0.8zM71.2 212.1h0.8v0.8h-0.8zM65.7 222.9h0.8v0.8h-0.8zM47.0 207.7h0.8v0.8h-0.8zM53.7 217.0h0.8v0.8h-0.8zM73.4 211.7h0.8v0.8h-0.8zM68.6 213.1h0.8v0.8h-0.8zM65.2 211.0h0.8v0.8h-0.8zM62.3 213.5h0.8v0.8h-0.8zM72.8 223.1h0.8v0.8h-0.8zM45.9 216.3h0.8v0.8h-0.8zM62.5 217.8h0.8v0.8h-0.8zM72.2 216.7h0.8v0.8h-0.8zM69.9 209.1h0.8v0.8h-0.8zM46.9 221.3h0.8v0.8h-0.8zM73.6 209.0h0.8v0.8h-0.8zM74.3 216.2h0.8v0.8h-0.8zM53.5 218.9h0.8v0.8h-0.8zM56.3 210.4h0.8v0.8h-0.8zM48.4 212.9h0.8v0.8h-0.8zM71.8 210.3h0.8v0.8h-0.8zM45.5 223.4h0.8v0.8h-0.8zM79.4 216.1h0.8v0.8h-0.8zM57.6 208.3h0.8v0.8h-0.8zM47.5 216.3h0.8v0.8h-0.8zM74.4 208.5h0.8v0.8h-0.8zM62.5 212.3h0.8v0.8h-0.8zM60.2 215.8h0.8v0.8h-0.8zM81.7 210.2h0.8v0.8h-0.8zM70.3 218.1h0.8v0.8h-0.8zM59.9 212.9h0.8v0.8h-0.8zM50.2 218.6h0.8v0.8h-0.8zM57.6 210.7h0.8v0.8h-0.8zM63.1 209.7h0.8v0.8h-0.8zM53.0 212.4h0.8v0.8h-0.8zM76.1 212.3h0.8v0.8h-0.8zM67.3 206.9h0.8v0.8h-0.8zM44.7 222.0h0.8v0.8h-0.8zM58.9 206.8h0.8v0.8h-0.8zM61.5 216.2h0.8v0.8h-0.8zM46.7 210.0h0.8v0.8h-0.8zM64.9 209.4h0.8v0.8h-0.8zM69.8 217.6h0.8v0.8h-0.8zM66.6 211.5h0.8v0.8h-0.8zM62.1 210.7h0.8v0.8h-0.8zM61.3 214.9h0.8v0.8h-0.8zM59.7 217.9h0.8v0.8h-0.8zM86.3 210.5h0.8v0.8h-0.8zM65.6 217.1h0.8v0.8h-0.8zM68.4 212.3h0.8v0.8h-0.8zM58.1 218.1h0.8v0.8h-0.8zM68.2 215.6h0.8v0.8h-0.8zM55.1 216.5h0.8v0.8h-0.8zM69.8 212.5h0.8v0.8h-0.8zM68.4 223.0h0.8v0.8h-0.8zM45.3 216.6h0.8v0.8h-0.8zM51.8 207.7h0.8v0.8h-0.8zM60.3 216.0h0.8v0.8h-0.8zM63.0 208.3h0.8v0.8h-0.8zM49.3 211.3h0.8v0.8h-0.8zM62.6 209.8h0.8v0.8h-0.8zM48.7 221.6h0.8v0.8h-0.8zM54.8 213.0h0.8v0.8h-0.8zM57.5 211.0h0.8v0.8h-0.8zM62.9 212.2h0.8v0.8h-0.8zM68.2 208.1h0.8v0.8h-0.8zM48.8 222.5h0.8v0.8h-0.8zM61.8 216.9h0.8v0.8h-0.8zM73.3 215.7h0.8v0.8h-0.8zM62.8 206.6h0.8v0.8h-0.8zM47.8 218.2h0.8v0.8h-0.8zM68.7 215.9h0.8v0.8h-0.8zM47.2 204.4h0.8v0.8h-0.8zM52.8 208.5h0.8v0.8h-0.8zM64.0 208.9h0.8v0.8h-0.8zM77.1 210.4h0.8v0.8h-0.8zM57.3 217.5h0.8v0.8h-0.8zM65.5 209.4h0.8v0.8h-0.8zM70.1 221.9h0.8v0.8h-0.8zM51.2 212.7h0.8v0.8h-0.8zM52.6 205.1h0.8v0.8h-0.8zM68.3 216.5h0.8v0.8h-0.8zM71.5 215.2h0.8v0.8h-0.8zM43.9 213.8h0.8v0.8h-0.8zM56.3 208.4h0.8v0.8h-0.8zM52.3 217.2h0.8v0.8h-0.8zM59.8 222.3h0.8v0.8h-0.8zM66.8 204.9h0.8v0.8h-0.8zM70.7 218.9h0.8v0.8h-0.8zM62.8 208.1h0.8v0.8h-0.8zM78.8 207.2h0.8v0.8h-0.8zM61.7 205.0h0.8v0.8h-0.8zM50.9 206.2h0.8v0.8h-0.8zM72.6 218.5h0.8v0.8h-0.8zM58.8 207.5h0.8v0.8h-0.8zM61.9 215.2h0.8v0.8h-0.8zM48.4 208.7h0.8v0.8h-0.8zM61.6 216.7h0.8v0.8h-0.8zM63.2 215.5h0.8v0.8h-0.8zM50.9 202.6h0.8v0.8h-0.8zM65.4 209.3h0.8v0.8h-0.8zM61.4 211.8h0.8v0.8h-0.8zM67.0 209.9h0.8v0.8h-0.8zM75.9 213.3h0.8v0.8h-0.8zM67.4 216.2h0.8v0.8h-0.8zM72.1 215.1h0.8v0.8h-0.8zM46.3 211.1h0.8v0.8h-0.8zM79.8 215.2h0.8v0.8h-0.8zM67.7 215.5h0.8v0.8h-0.8zM56.5 210.6h0.8v0.8h-0.8zM56.5 218.8h0.8v0.8h-0.8zM65.9 221.4h0.8v0.8h-0.8zM67.1 221.9h0.8v0.8h-0.8zM66.8 208.1h0.8v0.8h-0.8zM78.7 214.6h0.8v0.8h-0.8zM73.6 214.2h0.8v0.8h-0.8zM59.5 214.3h0.8v0.8h-0.8zM52.1 208.4h0.8v0.8h-0.8zM54.2 211.3h0.8v0.8h-0.8zM49.9 213.3h0.8v0.8h-0.8zM65.3 222.6h0.8v0.8h-0.8zM79.6 212.9h0.8v0.8h-0.8zM70.7 212.3h0.8v0.8h-0.8zM66.1 213.3h0.8v0.8h-0.8zM57.5 214.0h0.8v0.8h-0.8zM48.7 215.8h0.8v0.8h-0.8zM59.8 208.7h0.8v0.8h-0.8zM59.1 216.1h0.8v0.8h-0.8zM56.2 215.8h0.8v0.8h-0.8zM67.8 220.4h0.8v0.8h-0.8zM52.3 213.2h0.8v0.8h-0.8zM67.3 220.2h0.8v0.8h-0.8zM65.0 216.9h0.8v0.8h-0.8zM48.8 211.2h0.8v0.8h-0.8zM78.0 211.8h0.8v0.8h-0.8zM82.7 209.7h0.8v0.8h-0.8zM59.9 206.3h0.8v0.8h-0.8zM68.5 214.6h0.8v0.8h-0.8zM81.4 213.8h0.8v0.8h-0.8zM60.2 207.2h0.8v0.8h-0.8zM61.7 217.8h0.8v0.8h-0.8zM69.4 218.9h0.8v0.8h-0.8zM70.6 213.1h0.8v0.8h-0.8zM68.2 214.1h0.8v0.8h-0.8zM50.0 221.6h0.8v0.8h-0.8zM66.0 208.6h0.8v0.8h-0.8zM66.1 214.7h0.8v0.8h-0.8zM71.9 219.8h0.8v0.8h-0.8zM76.9 208.8h0.8v0.8h-0.8zM45.0 215.2h0.8v0.8h-0.8zM65.7 215.0h0.8v0.8h-0.8zM52.1 211.6h0.8v0.8h-0.8zM64.3 216.8h0.8v0.8h-0.8zM83.1 214.3h0.8v0.8h-0.8zM56.8 202.9h0.8v0.8h-0.8zM72.6 212.7h0.8v0.8h-0.8zM61.5 209.0h0.8v0.8h-0.8zM69.4 205.2h0.8v0.8h-0.8zM63.5 214.0h0.8v0.8h-0.8zM65.3 219.4h0.8v0.8h-0.8zM61.6 214.0h0.8v0.8h-0.8zM70.6 206.2h0.8v0.8h-0.8zM59.7 213.9h0.8v0.8h-0.8zM71.5 209.6h0.8v0.8h-0.8zM70.1 215.1h0.8v0.8h-0.8zM48.5 207.1h0.8v0.8h-0.8zM49.0 214.5h0.8v0.8h-0.8zM64.4 216.8h0.8v0.8h-0.8zM70.2 210.8h0.8v0.8h-0.8zM72.6 217.0h0.8v0.8h-0.8zM67.0 215.6h0.8v0.8h-0.8zM50.4 215.4h0.8v0.8h-0.8zM52.8 208.3h0.8v0.8h-0.8zM59.2 214.2h0.8v0.8h-0.8zM62.0 212.0h0.8v0.8h-0.8zM53.1 214.6h0.8v0.8h-0.8zM55.5 207.2h0.8v0.8h-0.8zM63.4 220.1h0.8v0.8h-0.8zM58.7 208.7h0.8v0.8h-0.8zM75.6 221.0h0.8v0.8h-0.8zM59.7 212.6h0.8v0.8h-0.8zM64.5 226.9h0.8v0.8h-0.8zM63.8 218.0h0.8v0.8h-0.8zM66.7 205.1h0.8v0.8h-0.8zM52.1 208.1h0.8v0.8h-0.8zM66.6 213.9h0.8v0.8h-0.8zM79.4 211.9h0.8v0.8h-0.8zM65.4 213.8h0.8v0.8h-0.8zM63.8 224.1h0.8v0.8h-0.8zM65.2 220.2h0.8v0.8h-0.8zM74.8 210.4h0.8v0.8h-0.8zM69.0 211.6h0.8v0.8h-0.8zM63.5 214.2h0.8v0.8h-0.8zM60.1 212.7h0.8v0.8h-0.8zM67.8 213.3h0.8v0.8h-0.8zM63.5 218.7h0.8v0.8h-0.8zM63.1 216.9h0.8v0.8h-0.8zM66.9 217.0h0.8v0.8h-0.8zM68.6 210.0h0.8v0.8h-0.8zM69.8 214.1h0.8v0.8h-0.8zM51.3 212.2h0.8v0.8h-0.8zM53.0 213.9h0.8v0.8h-0.8zM52.6 211.2h0.8v0.8h-0.8zM61.5 214.4h0.8v0.8h-0.8zM56.0 213.3h0.8v0.8h-0.8zM59.5 214.2h0.8v0.8h-0.8zM60.0 213.4h0.8v0.8h-0.8zM64.4 209.5h0.8v0.8h-0.8zM57.5 214.4h0.8v0.8h-0.8zM58.0 212.5h0.8v0.8h-0.8zM57.8 214.6h0.8v0.8h-0.8zM66.2 213.5h0.8v0.8h-0.8zM58.7 215.0h0.8v0.8h-0.8zM58.8 208.6h0.8v0.8h-0.8zM61.3 212.9h0.8v0.8h-0.8zM57.1 215.8h0.8v0.8h-0.8zM60.2 212.4h0.8v0.8h-0.8zM49.1 209.2h0.8v0.8h-0.8zM60.1 213.7h0.8v0.8h-0.8zM62.2 214.6h0.8v0.8h-0.8zM57.6 210.5h0.8v0.8h-0.8zM54.5 213.6h0.8v0.8h-0.8zM54.3 216.1h0.8v0.8h-0.8zM53.4 209.0h0.8v0.8h-0.8zM59.0 209.0h0.8v0.8h-0.8zM68.1 211.2h0.8v0.8h-0.8zM59.7 213.3h0.8v0.8h-0.8zM55.9 209.1h0.8v0.8h-0.8zM50.7 216.4h0.8v0.8h-0.8zM65.1 220.1h0.8v0.8h-0.8zM52.7 215.6h0.8v0.8h-0.8zM59.9 216.4h0.8v0.8h-0.8zM57.4 216.0h0.8v0.8h-0.8zM64.5 215.7h0.8v0.8h-0.8zM67.2 213.5h0.8v0.8h-0.8zM67.7 212.0h0.8v0.8h-0.8zM68.3 206.3h0.8v0.8h-0.8zM60.1 211.8h0.8v0.8h-0.8zM60.0 216.9h0.8v0.8h-0.8zM63.6 214.3h0.8v0.8h-0.8zM68.5 209.9h0.8v0.8h-0.8zM55.9 218.2h0.8v0.8h-0.8zM61.6 208.2h0.8v0.8h-0.8zM61.7 210.7h0.8v0.8h-0.8zM67.4 217.2h0.8v0.8h-0.8zM57.3 217.6h0.8v0.8h-0.8zM55.8 216.6h0.8v0.8h-0.8zM62.9 213.6h0.8v0.8h-0.8zM52.9 213.2h0.8v0.8h-0.8zM48.6 212.4h0.8v0.8h-0.8zM50.7 217.4h0.8v0.8h-0.8zM55.2 207.2h0.8v0.8h-0.8zM62.9 215.0h0.8v0.8h-0.8zM57.5 219.9h0.8v0.8h-0.8zM63.9 214.2h0.8v0.8h-0.8zM56.8 205.7h0.8v0.8h-0.8zM62.4 216.7h0.8v0.8h-0.8zM57.0 210.0h0.8v0.8h-0.8zM59.8 209.3h0.8v0.8h-0.8zM60.0 216.2h0.8v0.8h-0.8zM67.5 214.7h0.8v0.8h-0.8zM61.0 216.1h0.8v0.8h-0.8zM67.0 213.1h0.8v0.8h-0.8zM53.9 211.8h0.8v0.8h-0.8zM53.7 211.5h0.8v0.8h-0.8zM59.4 215.0h0.8v0.8h-0.8zM60.8 214.2h0.8v0.8h-0.8zM58.2 215.2h0.8v0.8h-0.8zM64.4 216.1h0.8v0.8h-0.8zM67.5 213.2h0.8v0.8h-0.8zM58.7 218.7h0.8v0.8h-0.8zM61.0 215.2h0.8v0.8h-0.8zM58.3 216.7h0.8v0.8h-0.8zM58.0 211.2h0.8v0.8h-0.8zM59.7 212.8h0.8v0.8h-0.8zM64.2 212.9h0.8v0.8h-0.8zM60.6 213.4h0.8v0.8h-0.8zM61.7 212.2h0.8v0.8h-0.8zM65.5 210.0h0.8v0.8h-0.8zM58.1 212.0h0.8v0.8h-0.8zM63.2 214.1h0.8v0.8h-0.8zM62.4 213.1h0.8v0.8h-0.8zM56.4 210.9h0.8v0.8h-0.8zM58.3 212.5h0.8v0.8h-0.8zM61.4 215.0h0.8v0.8h-0.8zM64.9 213.7h0.8v0.8h-0.8zM56.3 211.0h0.8v0.8h-0.8zM60.3 215.0h0.8v0.8h-0.8zM69.7 214.5h0.8v0.8h-0.8zM68.8 219.2h0.8v0.8h-0.8zM54.8 217.4h0.8v0.8h-0.8zM65.7 217.8h0.8v0.8h-0.8zM60.0 216.7h0.8v0.8h-0.8zM57.6 213.8h0.8v0.8h-0.8zM60.1 219.0h0.8v0.8h-0.8zM58.9 216.7h0.8v0.8h-0.8zM60.3 212.0h0.8v0.8h-0.8zM61.2 215.8h0.8v0.8h-0.8zM56.4 215.8h0.8v0.8h-0.8zM56.4 211.5h0.8v0.8h-0.8zM61.1 213.3h0.8v0.8h-0.8zM55.1 209.4h0.8v0.8h-0.8zM60.1 214.7h0.8v0.8h-0.8zM57.7 214.5h0.8v0.8h-0.8zM52.4 215.1h0.8v0.8h-0.8zM62.1 214.8h0.8v0.8h-0.8zM56.9 214.2h0.8v0.8h-0.8zM60.7 217.0h0.8v0.8h-0.8zM61.4 214.7h0.8v0.8h-0.8zM56.4 216.4h0.8v0.8h-0.8zM65.9 212.6h0.8v0.8h-0.8zM63.2 214.9h0.8v0.8h-0.8zM59.8 210.4h0.8v0.8h-0.8zM68.8 208.8h0.8v0.8h-0.8zM61.5 212.9h0.8v0.8h-0.8zM65.7 212.8h0.8v0.8h-0.8zM60.2 215.7h0.8v0.8h-0.8zM62.3 212.5h0.8v0.8h-0.8zM63.4 215.1h0.8v0.8h-0.8zM64.9 212.6h0.8v0.8h-0.8zM59.8 212.9h0.8v0.8h-0.8zM55.8 214.7h0.8v0.8h-0.8zM62.0 218.0h0.8v0.8h-0.8zM58.4 215.1h0.8v0.8h-0.8zM65.7 213.7h0.8v0.8h-0.8zM60.3 214.4h0.8v0.8h-0.8zM56.6 211.2h0.8v0.8h-0.8zM65.6 214.5h0.8v0.8h-0.8zM59.6 210.5h0.8v0.8h-0.8zM60.6 217.3h0.8v0.8h-0.8zM54.3 211.5h0.8v0.8h-0.8zM65.5 218.0h0.8v0.8h-0.8zM67.7 212.5h0.8v0.8h-0.8zM63.0 211.9h0.8v0.8h-0.8zM62.6 213.0h0.8v0.8h-0.8zM61.0 217.7h0.8v0.8h-0.8zM61.7 213.3h0.8v0.8h-0.8zM60.3 214.7h0.8v0.8h-0.8zM57.4 214.6h0.8v0.8h-0.8zM63.0 218.3h0.8v0.8h-0.8zM49.7 210.7h0.8v0.8h-0.8zM53.8 216.4h0.8v0.8h-0.8zM72.1 214.5h0.8v0.8h-0.8zM60.6 217.2h0.8v0.8h-0.8zM47.9 213.5h0.8v0.8h-0.8zM44.5 214.4h0.8v0.8h-0.8zM57.5 212.7h0.8v0.8h-0.8zM61.7 212.4h0.8v0.8h-0.8zM65.5 214.0h0.8v0.8h-0.8zM61.9 221.1h0.8v0.8h-0.8zM57.8 216.6h0.8v0.8h-0.8zM55.9 217.5h0.8v0.8h-0.8zM64.8 214.4h0.8v0.8h-0.8zM64.9 218.5h0.8v0.8h-0.8zM66.8 214.0h0.8v0.8h-0.8zM59.7 217.1h0.8v0.8h-0.8zM52.7 212.3h0.8v0.8h-0.8zM62.4 215.6h0.8v0.8h-0.8zM69.2 218.9h0.8v0.8h-0.8zM61.6 215.2h0.8v0.8h-0.8zM53.5 213.5h0.8v0.8h-0.8zM61.3 213.4h0.8v0.8h-0.8zM60.3 215.7h0.8v0.8h-0.8zM55.3 212.4h0.8v0.8h-0.8zM51.2 217.2h0.8v0.8h-0.8zM54.8 209.3h0.8v0.8h-0.8zM63.8 213.4h0.8v0.8h-0.8zM64.8 213.0h0.8v0.8h-0.8zM70.5 216.0h0.8v0.8h-0.8zM60.7 214.3h0.8v0.8h-0.8zM59.0 216.2h0.8v0.8h-0.8zM69.9 212.8h0.8v0.8h-0.8zM54.6 215.7h0.8v0.8h-0.8zM65.3 209.9h0.8v0.8h-0.8zM56.6 211.2h0.8v0.8h-0.8zM62.8 215.4h0.8v0.8h-0.8zM56.4 210.9h0.8v0.8h-0.8zM63.4 208.3h0.8v0.8h-0.8zM63.2 213.6h0.8v0.8h-0.8zM69.5 216.7h0.8v0.8h-0.8zM57.1 213.2h0.8v0.8h-0.8zM58.6 212.0h0.8v0.8h-0.8zM60.4 216.7h0.8v0.8h-0.8zM52.6 213.4h0.8v0.8h-0.8zM67.4 216.0h0.8v0.8h-0.8zM56.0 211.8h0.8v0.8h-0.8zM55.8 209.6h0.8v0.8h-0.8zM65.7 214.2h0.8v0.8h-0.8zM56.6 210.0h0.8v0.8h-0.8zM58.1 212.6h0.8v0.8h-0.8zM68.5 212.7h0.8v0.8h-0.8zM60.6 217.0h0.8v0.8h-0.8zM63.3 213.5h0.8v0.8h-0.8zM49.3 217.9h0.8v0.8h-0.8zM62.9 212.8h0.8v0.8h-0.8zM59.6 211.4h0.8v0.8h-0.8zM55.6 209.9h0.8v0.8h-0.8zM62.5 215.4h0.8v0.8h-0.8zM60.9 216.1h0.8v0.8h-0.8zM62.6 214.3h0.8v0.8h-0.8zM55.7 215.6h0.8v0.8h-0.8zM65.8 215.7h0.8v0.8h-0.8zM66.1 212.7h0.8v0.8h-0.8zM55.2 217.4h0.8v0.8h-0.8zM57.1 214.7h0.8v0.8h-0.8zM59.1 214.1h0.8v0.8h-0.8zM58.7 212.5h0.8v0.8h-0.8zM51.2 219.2h0.8v0.8h-0.8zM61.0 208.7h0.8v0.8h-0.8zM55.5 210.9h0.8v0.8h-0.8zM56.4 207.0h0.8v0.8h-0.8zM62.8 218.5h0.8v0.8h-0.8zM58.8 216.0h0.8v0.8h-0.8zM62.9 210.6h0.8v0.8h-0.8zM66.0 209.4h0.8v0.8h-0.8zM57.2 213.0h0.8v0.8h-0.8zM66.2 214.3h0.8v0.8h-0.8zM59.4 211.8h0.8v0.8h-0.8zM60.4 214.1h0.8v0.8h-0.8zM63.6 217.8h0.8v0.8h-0.8zM63.6 214.1h0.8v0.8h-0.8zM59.3 218.4h0.8v0.8h-0.8zM61.0 214.0h0.8v0.8h-0.8zM68.8 218.3h0.8v0.8h-0.8zM62.8 213.7h0.8v0.8h-0.8zM56.9 216.9h0.8v0.8h-0.8zM57.8 216.6h0.8v0.8h-0.8zM56.2 214.3h0.8v0.8h-0.8zM62.0 214.4h0.8v0.8h-0.8zM61.1 215.0h0.8v0.8h-0.8zM54.5 211.0h0.8v0.8h-0.8zM59.3 218.9h0.8v0.8h-0.8zM59.4 211.5h0.8v0.8h-0.8zM56.8 214.1h0.8v0.8h-0.8zM65.8 212.5h0.8v0.8h-0.8zM62.7 214.5h0.8v0.8h-0.8zM58.3 211.4h0.8v0.8h-0.8zM59.3 212.0h0.8v0.8h-0.8zM62.6 209.2h0.8v0.8h-0.8zM65.5 216.1h0.8v0.8h-0.8zM62.8 218.1h0.8v0.8h-0.8zM62.9 209.3h0.8v0.8h-0.8zM60.3 215.2h0.8v0.8h-0.8zM56.7 210.9h0.8v0.8h-0.8zM62.1 215.4h0.8v0.8h-0.8zM57.9 213.3h0.8v0.8h-0.8zM57.5 212.4h0.8v0.8h-0.8zM59.7 216.9h0.8v0.8h-0.8zM52.1 213.1h0.8v0.8h-0.8zM67.9 214.9h0.8v0.8h-0.8zM60.8 216.3h0.8v0.8h-0.8zM55.1 210.7h0.8v0.8h-0.8zM51.9 210.0h0.8v0.8h-0.8zM61.2 216.3h0.8v0.8h-0.8zM58.0 212.1h0.8v0.8h-0.8zM62.0 215.7h0.8v0.8h-0.8zM61.3 208.8h0.8v0.8h-0.8zM57.3 207.1h0.8v0.8h-0.8zM61.2 211.7h0.8v0.8h-0.8zM56.8 218.1h0.8v0.8h-0.8zM66.4 215.3h0.8v0.8h-0.8zM61.3 214.5h0.8v0.8h-0.8zM57.1 213.9h0.8v0.8h-0.8zM69.3 211.6h0.8v0.8h-0.8zM56.8 214.4h0.8v0.8h-0.8zM64.3 216.3h0.8v0.8h-0.8zM55.3 213.6h0.8v0.8h-0.8zM58.7 210.6h0.8v0.8h-0.8zM60.4 212.7h0.8v0.8h-0.8zM64.5 215.2h0.8v0.8h-0.8zM56.2 214.2h0.8v0.8h-0.8zM58.3 212.3h0.8v0.8h-0.8zM57.6 216.9h0.8v0.8h-0.8zM58.0 209.3h0.8v0.8h-0.8zM56.2 216.2h0.8v0.8h-0.8zM70.5 211.1h0.8v0.8h-0.8zM58.3 213.1h0.8v0.8h-0.8zM53.2 215.1h0.8v0.8h-0.8zM59.8 214.8h0.8v0.8h-0.8zM70.9 213.3h0.8v0.8h-0.8zM63.9 216.3h0.8v0.8h-0.8zM56.9 212.4h0.8v0.8h-0.8zM67.6 215.9h0.8v0.8h-0.8zM60.7 211.0h0.8v0.8h-0.8zM64.3 215.4h0.8v0.8h-0.8zM70.7 218.0h0.8v0.8h-0.8zM63.9 214.7h0.8v0.8h-0.8zM60.3 212.5h0.8v0.8h-0.8zM61.5 214.7h0.8v0.8h-0.8zM63.2 217.0h0.8v0.8h-0.8zM61.5 212.5h0.8v0.8h-0.8zM63.9 218.2h0.8v0.8h-0.8zM55.9 215.1h0.8v0.8h-0.8zM87.8 224.1h0.8v0.8h-0.8zM86.8 220.5h0.8v0.8h-0.8zM115.4 212.8h0.8v0.8h-0.8zM59.3 218.0h0.8v0.8h-0.8zM73.7 217.9h0.8v0.8h-0.8zM109.4 227.8h0.8v0.8h-0.8zM65.4 224.8h0.8v0.8h-0.8zM74.1 227.7h0.8v0.8h-0.8zM88.6 220.8h0.8v0.8h-0.8zM87.9 216.8h0.8v0.8h-0.8zM93.5 229.8h0.8v0.8h-0.8zM66.6 224.2h0.8v0.8h-0.8zM95.5 215.1h0.8v0.8h-0.8zM115.7 221.7h0.8v0.8h-0.8zM95.4 219.4h0.8v0.8h-0.8zM100.7 212.0h0.8v0.8h-0.8zM72.7 226.7h0.8v0.8h-0.8zM59.2 225.0h0.8v0.8h-0.8zM66.6 223.0h0.8v0.8h-0.8zM46.1 225.5h0.8v0.8h-0.8zM105.6 214.4h0.8v0.8h-0.8zM99.5 203.7h0.8v0.8h-0.8zM69.5 211.0h0.8v0.8h-0.8zM82.1 216.8h0.8v0.8h-0.8zM61.9 216.1h0.8v0.8h-0.8zM81.9 218.3h0.8v0.8h-0.8zM53.9 219.7h0.8v0.8h-0.8zM84.5 216.0h0.8v0.8h-0.8zM100.9 211.3h0.8v0.8h-0.8zM84.5 218.7h0.8v0.8h-0.8zM111.7 217.3h0.8v0.8h-0.8zM59.5 213.2h0.8v0.8h-0.8zM121.3 224.6h0.8v0.8h-0.8zM49.7 219.0h0.8v0.8h-0.8zM52.7 229.9h0.8v0.8h-0.8zM84.7 209.1h0.8v0.8h-0.8zM79.9 226.3h0.8v0.8h-0.8zM75.0 223.8h0.8v0.8h-0.8zM72.4 222.2h0.8v0.8h-0.8zM80.0 216.9h0.8v0.8h-0.8zM83.1 222.0h0.8v0.8h-0.8zM74.1 217.0h0.8v0.8h-0.8zM51.4 222.4h0.8v0.8h-0.8zM94.3 206.9h0.8v0.8h-0.8zM62.5 228.9h0.8v0.8h-0.8zM96.4 216.8h0.8v0.8h-0.8zM106.5 215.2h0.8v0.8h-0.8zM64.8 219.7h0.8v0.8h-0.8zM47.6 220.2h0.8v0.8h-0.8zM66.7 217.5h0.8v0.8h-0.8zM60.2 225.3h0.8v0.8h-0.8zM110.8 218.6h0.8v0.8h-0.8zM112.7 230.4h0.8v0.8h-0.8zM106.3 222.7h0.8v0.8h-0.8zM65.5 222.1h0.8v0.8h-0.8zM80.5 215.5h0.8v0.8h-0.8zM80.4 217.0h0.8v0.8h-0.8zM130.7 208.4h0.8v0.8h-0.8zM53.5 223.4h0.8v0.8h-0.8zM61.2 207.6h0.8v0.8h-0.8zM81.1 225.9h0.8v0.8h-0.8zM56.4 229.6h0.8v0.8h-0.8zM86.7 228.0h0.8v0.8h-0.8zM105.8 221.0h0.8v0.8h-0.8zM79.3 217.3h0.8v0.8h-0.8zM100.7 216.9h0.8v0.8h-0.8zM77.9 208.9h0.8v0.8h-0.8zM76.4 222.3h0.8v0.8h-0.8zM123.4 212.3h0.8v0.8h-0.8zM62.6 219.8h0.8v0.8h-0.8zM45.6 213.1h0.8v0.8h-0.8zM46.1 224.8h0.8v0.8h-0.8zM73.9 225.8h0.8v0.8h-0.8zM49.7 224.5h0.8v0.8h-0.8zM64.6 221.5h0.8v0.8h-0.8zM96.9 221.2h0.8v0.8h-0.8zM66.8 211.2h0.8v0.8h-0.8zM76.5 225.6h0.8v0.8h-0.8zM60.2 220.6h0.8v0.8h-0.8zM84.5 228.6h0.8v0.8h-0.8zM67.7 211.2h0.8v0.8h-0.8zM66.1 211.8h0.8v0.8h-0.8zM82.0 220.1h0.8v0.8h-0.8zM99.4 218.8h0.8v0.8h-0.8zM82.8 222.2h0.8v0.8h-0.8zM85.5 212.4h0.8v0.8h-0.8zM91.7 226.2h0.8v0.8h-0.8zM53.9 229.8h0.8v0.8h-0.8zM75.5 225.0h0.8v0.8h-0.8zM88.1 226.2h0.8v0.8h-0.8zM60.0 217.6h0.8v0.8h-0.8zM83.9 224.6h0.8v0.8h-0.8zM88.5 223.0h0.8v0.8h-0.8zM63.6 227.5h0.8v0.8h-0.8zM86.1 227.3h0.8v0.8h-0.8zM59.3 221.7h0.8v0.8h-0.8zM63.8 219.2h0.8v0.8h-0.8zM79.6 223.0h0.8v0.8h-0.8zM56.1 206.1h0.8v0.8h-0.8zM56.6 224.2h0.8v0.8h-0.8zM55.1 223.5h0.8v0.8h-0.8zM66.3 215.4h0.8v0.8h-0.8zM72.6 220.7h0.8v0.8h-0.8zM97.7 213.1h0.8v0.8h-0.8zM54.3 227.7h0.8v0.8h-0.8zM96.3 218.1h0.8v0.8h-0.8zM56.6 223.1h0.8v0.8h-0.8zM69.5 206.4h0.8v0.8h-0.8zM89.0 225.5h0.8v0.8h-0.8zM100.3 212.5h0.8v0.8h-0.8zM44.5 216.2h0.8v0.8h-0.8zM51.8 219.1h0.8v0.8h-0.8zM79.9 223.7h0.8v0.8h-0.8zM109.5 214.5h0.8v0.8h-0.8zM95.9 221.9h0.8v0.8h-0.8zM47.1 221.9h0.8v0.8h-0.8zM57.6 227.0h0.8v0.8h-0.8zM106.0 217.3h0.8v0.8h-0.8zM53.6 221.8h0.8v0.8h-0.8zM50.0 226.4h0.8v0.8h-0.8zM79.2 216.5h0.8v0.8h-0.8zM58.7 225.3h0.8v0.8h-0.8zM56.3 219.8h0.8v0.8h-0.8zM94.6 228.8h0.8v0.8h-0.8zM90.6 221.5h0.8v0.8h-0.8zM115.4 225.0h0.8v0.8h-0.8zM85.4 224.4h0.8v0.8h-0.8zM92.6 222.7h0.8v0.8h-0.8zM71.0 211.5h0.8v0.8h-0.8zM124.2 213.2h0.8v0.8h-0.8zM121.2 228.3h0.8v0.8h-0.8zM60.6 222.6h0.8v0.8h-0.8zM74.4 209.1h0.8v0.8h-0.8zM67.0 222.7h0.8v0.8h-0.8zM103.0 213.8h0.8v0.8h-0.8zM82.9 221.5h0.8v0.8h-0.8zM78.6 221.9h0.8v0.8h-0.8zM66.2 212.8h0.8v0.8h-0.8zM85.9 223.3h0.8v0.8h-0.8zM88.8 228.5h0.8v0.8h-0.8zM45.3 207.0h0.8v0.8h-0.8zM53.1 223.4h0.8v0.8h-0.8zM74.6 225.4h0.8v0.8h-0.8zM70.9 217.4h0.8v0.8h-0.8zM80.9 224.1h0.8v0.8h-0.8zM51.7 228.9h0.8v0.8h-0.8zM102.5 223.7h0.8v0.8h-0.8zM72.4 219.6h0.8v0.8h-0.8zM51.6 218.0h0.8v0.8h-0.8zM98.9 215.5h0.8v0.8h-0.8zM62.5 226.1h0.8v0.8h-0.8zM119.6 216.9h0.8v0.8h-0.8zM101.5 217.1h0.8v0.8h-0.8zM84.3 223.9h0.8v0.8h-0.8zM47.7 227.2h0.8v0.8h-0.8zM118.2 221.3h0.8v0.8h-0.8zM81.5 214.0h0.8v0.8h-0.8zM117.9 221.4h0.8v0.8h-0.8zM44.4 225.6h0.8v0.8h-0.8zM128.0 217.2h0.8v0.8h-0.8zM59.3 217.5h0.8v0.8h-0.8zM61.4 224.3h0.8v0.8h-0.8zM110.0 215.0h0.8v0.8h-0.8zM85.6 210.2h0.8v0.8h-0.8zM111.6 220.5h0.8v0.8h-0.8zM58.2 230.2h0.8v0.8h-0.8zM72.5 229.2h0.8v0.8h-0.8zM55.8 221.3h0.8v0.8h-0.8zM83.8 219.8h0.8v0.8h-0.8zM111.5 216.7h0.8v0.8h-0.8zM99.1 229.2h0.8v0.8h-0.8zM53.3 217.7h0.8v0.8h-0.8zM84.4 220.0h0.8v0.8h-0.8zM76.9 218.2h0.8v0.8h-0.8zM73.0 223.9h0.8v0.8h-0.8zM92.9 216.3h0.8v0.8h-0.8zM72.3 216.4h0.8v0.8h-0.8zM70.7 212.4h0.8v0.8h-0.8zM97.9 225.0h0.8v0.8h-0.8zM72.1 216.9h0.8v0.8h-0.8zM64.0 217.0h0.8v0.8h-0.8zM47.0 224.5h0.8v0.8h-0.8zM89.5 211.6h0.8v0.8h-0.8zM63.1 221.5h0.8v0.8h-0.8zM74.9 217.6h0.8v0.8h-0.8zM71.6 219.2h0.8v0.8h-0.8zM104.9 220.4h0.8v0.8h-0.8zM74.2 217.8h0.8v0.8h-0.8zM59.8 216.6h0.8v0.8h-0.8zM101.8 222.4h0.8v0.8h-0.8zM115.1 227.1h0.8v0.8h-0.8zM80.0 220.0h0.8v0.8h-0.8zM48.7 222.5h0.8v0.8h-0.8zM67.4 211.5h0.8v0.8h-0.8zM80.1 224.0h0.8v0.8h-0.8zM79.8 218.2h0.8v0.8h-0.8zM86.1 227.5h0.8v0.8h-0.8zM67.6 224.1h0.8v0.8h-0.8zM99.6 218.1h0.8v0.8h-0.8zM79.1 216.6h0.8v0.8h-0.8zM89.5 218.8h0.8v0.8h-0.8zM102.5 216.4h0.8v0.8h-0.8zM115.5 219.1h0.8v0.8h-0.8zM54.8 215.6h0.8v0.8h-0.8zM90.9 215.9h0.8v0.8h-0.8zM118.3 228.7h0.8v0.8h-0.8zM87.4 212.5h0.8v0.8h-0.8zM74.4 216.6h0.8v0.8h-0.8zM127.8 217.8h0.8v0.8h-0.8zM94.4 228.7h0.8v0.8h-0.8zM51.9 219.0h0.8v0.8h-0.8zM81.4 223.8h0.8v0.8h-0.8zM47.5 222.3h0.8v0.8h-0.8zM72.4 226.7h0.8v0.8h-0.8zM62.9 219.1h0.8v0.8h-0.8zM92.3 217.2h0.8v0.8h-0.8zM95.2 227.1h0.8v0.8h-0.8zM98.2 219.8h0.8v0.8h-0.8zM55.1 219.5h0.8v0.8h-0.8zM91.0 221.7h0.8v0.8h-0.8zM89.0 224.4h0.8v0.8h-0.8zM53.8 215.4h0.8v0.8h-0.8zM109.6 218.1h0.8v0.8h-0.8zM55.0 215.4h0.8v0.8h-0.8zM98.2 214.2h0.8v0.8h-0.8zM54.1 227.3h0.8v0.8h-0.8zM78.1 221.3h0.8v0.8h-0.8zM59.6 219.7h0.8v0.8h-0.8zM63.0 220.9h0.8v0.8h-0.8zM93.5 213.4h0.8v0.8h-0.8zM53.0 208.4h0.8v0.8h-0.8zM111.1 220.6h0.8v0.8h-0.8zM74.7 220.7h0.8v0.8h-0.8zM99.1 222.9h0.8v0.8h-0.8zM95.4 220.0h0.8v0.8h-0.8zM72.1 220.7h0.8v0.8h-0.8zM91.1 221.3h0.8v0.8h-0.8zM119.7 229.3h0.8v0.8h-0.8zM53.9 220.5h0.8v0.8h-0.8zM98.9 219.7h0.8v0.8h-0.8zM72.1 218.9h0.8v0.8h-0.8zM107.8 206.2h0.8v0.8h-0.8zM105.5 227.4h0.8v0.8h-0.8zM73.3 224.4h0.8v0.8h-0.8zM51.8 227.7h0.8v0.8h-0.8zM108.5 220.7h0.8v0.8h-0.8zM66.9 218.1h0.8v0.8h-0.8zM70.4 213.5h0.8v0.8h-0.8zM74.6 224.3h0.8v0.8h-0.8zM82.4 223.9h0.8v0.8h-0.8zM90.2 227.0h0.8v0.8h-0.8zM47.5 217.5h0.8v0.8h-0.8zM49.4 224.9h0.8v0.8h-0.8zM83.3 221.2h0.8v0.8h-0.8zM59.4 223.1h0.8v0.8h-0.8zM75.8 216.5h0.8v0.8h-0.8zM83.0 217.0h0.8v0.8h-0.8zM97.8 224.8h0.8v0.8h-0.8zM58.5 224.5h0.8v0.8h-0.8zM76.6 216.8h0.8v0.8h-0.8zM53.1 211.0h0.8v0.8h-0.8zM47.9 223.1h0.8v0.8h-0.8zM104.0 217.2h0.8v0.8h-0.8zM78.8 223.1h0.8v0.8h-0.8zM93.7 223.7h0.8v0.8h-0.8zM104.4 225.6h0.8v0.8h-0.8zM56.7 223.4h0.8v0.8h-0.8zM75.5 224.5h0.8v0.8h-0.8zM67.8 226.0h0.8v0.8h-0.8zM106.7 216.0h0.8v0.8h-0.8zM62.0 222.6h0.8v0.8h-0.8zM86.8 221.9h0.8v0.8h-0.8zM94.9 213.9h0.8v0.8h-0.8zM93.6 228.0h0.8v0.8h-0.8zM101.6 223.6h0.8v0.8h-0.8zM69.3 223.4h0.8v0.8h-0.8zM73.2 211.5h0.8v0.8h-0.8zM60.5 220.8h0.8v0.8h-0.8zM62.6 215.4h0.8v0.8h-0.8zM69.4 218.8h0.8v0.8h-0.8zM76.7 220.7h0.8v0.8h-0.8zM79.1 227.0h0.8v0.8h-0.8zM78.3 223.4h0.8v0.8h-0.8zM45.7 203.3h0.8v0.8h-0.8zM65.4 225.1h0.8v0.8h-0.8zM66.9 217.3h0.8v0.8h-0.8zM45.2 226.4h0.8v0.8h-0.8zM62.3 222.5h0.8v0.8h-0.8zM102.1 224.2h0.8v0.8h-0.8zM128.8 220.2h0.8v0.8h-0.8zM97.9 225.2h0.8v0.8h-0.8zM59.3 221.3h0.8v0.8h-0.8zM61.4 214.9h0.8v0.8h-0.8zM82.2 216.4h0.8v0.8h-0.8zM115.3 216.6h0.8v0.8h-0.8zM61.9 221.5h0.8v0.8h-0.8zM62.6 221.3h0.8v0.8h-0.8zM60.4 212.5h0.8v0.8h-0.8zM111.5 223.7h0.8v0.8h-0.8zM78.7 218.2h0.8v0.8h-0.8zM71.5 222.8h0.8v0.8h-0.8zM53.6 228.6h0.8v0.8h-0.8zM49.6 228.0h0.8v0.8h-0.8zM73.1 221.2h0.8v0.8h-0.8zM107.4 226.2h0.8v0.8h-0.8zM97.5 214.6h0.8v0.8h-0.8zM72.5 218.1h0.8v0.8h-0.8zM48.8 227.1h0.8v0.8h-0.8zM82.1 221.0h0.8v0.8h-0.8zM96.0 220.9h0.8v0.8h-0.8zM110.4 215.3h0.8v0.8h-0.8zM96.2 215.0h0.8v0.8h-0.8zM108.9 219.3h0.8v0.8h-0.8zM104.4 218.5h0.8v0.8h-0.8zM84.6 227.9h0.8v0.8h-0.8zM53.4 221.6h0.8v0.8h-0.8zM54.9 226.1h0.8v0.8h-0.8zM60.5 218.8h0.8v0.8h-0.8zM70.1 228.0h0.8v0.8h-0.8zM50.0 220.8h0.8v0.8h-0.8zM67.1 217.7h0.8v0.8h-0.8zM56.1 220.0h0.8v0.8h-0.8zM79.7 211.7h0.8v0.8h-0.8zM80.6 213.9h0.8v0.8h-0.8zM51.8 220.6h0.8v0.8h-0.8zM68.9 226.9h0.8v0.8h-0.8zM63.6 210.3h0.8v0.8h-0.8zM81.1 227.4h0.8v0.8h-0.8zM62.1 225.0h0.8v0.8h-0.8zM49.5 228.8h0.8v0.8h-0.8zM73.3 216.9h0.8v0.8h-0.8zM54.7 213.6h0.8v0.8h-0.8zM50.6 214.1h0.8v0.8h-0.8zM73.8 223.1h0.8v0.8h-0.8zM71.1 222.2h0.8v0.8h-0.8zM103.4 219.3h0.8v0.8h-0.8zM44.9 207.3h0.8v0.8h-0.8zM80.8 216.9h0.8v0.8h-0.8zM69.0 223.5h0.8v0.8h-0.8zM86.1 211.6h0.8v0.8h-0.8zM52.0 221.4h0.8v0.8h-0.8zM71.5 227.9h0.8v0.8h-0.8zM63.0 208.6h0.8v0.8h-0.8zM103.1 211.2h0.8v0.8h-0.8zM51.7 223.3h0.8v0.8h-0.8zM80.7 224.2h0.8v0.8h-0.8zM88.0 216.7h0.8v0.8h-0.8zM105.1 210.9h0.8v0.8h-0.8zM60.9 222.7h0.8v0.8h-0.8zM78.3 215.2h0.8v0.8h-0.8zM112.9 229.8h0.8v0.8h-0.8zM52.6 223.2h0.8v0.8h-0.8zM59.8 218.4h0.8v0.8h-0.8zM98.7 221.8h0.8v0.8h-0.8zM72.4 221.6h0.8v0.8h-0.8zM46.9 228.3h0.8v0.8h-0.8zM57.0 228.9h0.8v0.8h-0.8zM64.0 218.3h0.8v0.8h-0.8zM110.7 222.1h0.8v0.8h-0.8zM59.7 217.8h0.8v0.8h-0.8zM89.7 218.6h0.8v0.8h-0.8zM48.1 217.0h0.8v0.8h-0.8zM72.1 222.5h0.8v0.8h-0.8zM59.3 228.7h0.8v0.8h-0.8zM52.0 216.7h0.8v0.8h-0.8zM86.9 223.9h0.8v0.8h-0.8zM65.6 226.8h0.8v0.8h-0.8zM76.3 229.0h0.8v0.8h-0.8zM70.2 222.2h0.8v0.8h-0.8zM87.6 210.5h0.8v0.8h-0.8zM97.1 223.0h0.8v0.8h-0.8zM79.7 229.3h0.8v0.8h-0.8zM83.1 209.6h0.8v0.8h-0.8zM52.3 219.2h0.8v0.8h-0.8zM78.5 218.3h0.8v0.8h-0.8zM97.5 224.6h0.8v0.8h-0.8zM75.4 221.4h0.8v0.8h-0.8zM83.7 222.5h0.8v0.8h-0.8zM57.6 225.7h0.8v0.8h-0.8zM55.2 220.8h0.8v0.8h-0.8zM66.4 214.1h0.8v0.8h-0.8zM89.5 220.6h0.8v0.8h-0.8zM47.1 220.5h0.8v0.8h-0.8zM42.0 229.6h0.8v0.8h-0.8zM61.4 225.2h0.8v0.8h-0.8zM51.8 215.9h0.8v0.8h-0.8zM72.9 223.5h0.8v0.8h-0.8zM97.1 219.4h0.8v0.8h-0.8zM101.4 226.8h0.8v0.8h-0.8zM54.0 219.9h0.8v0.8h-0.8zM61.8 226.3h0.8v0.8h-0.8zM96.9 219.5h0.8v0.8h-0.8zM63.4 223.1h0.8v0.8h-0.8zM56.5 213.4h0.8v0.8h-0.8zM51.9 223.0h0.8v0.8h-0.8zM47.4 227.9h0.8v0.8h-0.8zM91.6 221.8h0.8v0.8h-0.8zM110.2 218.8h0.8v0.8h-0.8zM62.3 214.7h0.8v0.8h-0.8zM59.3 221.7h0.8v0.8h-0.8zM91.1 228.6h0.8v0.8h-0.8zM68.6 216.6h0.8v0.8h-0.8zM67.0 218.4h0.8v0.8h-0.8zM63.8 218.6h0.8v0.8h-0.8zM54.2 220.7h0.8v0.8h-0.8zM62.8 220.0h0.8v0.8h-0.8zM41.9 221.9h0.8v0.8h-0.8zM88.7 224.9h0.8v0.8h-0.8zM61.9 214.2h0.8v0.8h-0.8zM44.0 214.0h0.8v0.8h-0.8zM59.7 219.2h0.8v0.8h-0.8zM57.8 225.9h0.8v0.8h-0.8zM118.8 218.9h0.8v0.8h-0.8zM68.5 218.7h0.8v0.8h-0.8zM70.2 220.0h0.8v0.8h-0.8zM133.7 214.5h0.8v0.8h-0.8zM72.4 216.3h0.8v0.8h-0.8zM83.5 217.9h0.8v0.8h-0.8zM88.7 214.6h0.8v0.8h-0.8zM125.2 222.2h0.8v0.8h-0.8zM63.8 214.1h0.8v0.8h-0.8zM85.5 217.9h0.8v0.8h-0.8zM92.5 217.8h0.8v0.8h-0.8zM96.5 221.9h0.8v0.8h-0.8zM83.5 221.9h0.8v0.8h-0.8zM66.3 218.9h0.8v0.8h-0.8zM85.7 225.2h0.8v0.8h-0.8zM115.2 214.2h0.8v0.8h-0.8zM100.8 220.6h0.8v0.8h-0.8zM80.5 216.3h0.8v0.8h-0.8zM114.2 216.1h0.8v0.8h-0.8zM73.1 216.7h0.8v0.8h-0.8zM120.9 228.4h0.8v0.8h-0.8zM43.7 218.3h0.8v0.8h-0.8zM83.6 218.5h0.8v0.8h-0.8zM66.6 214.6h0.8v0.8h-0.8zM80.9 214.5h0.8v0.8h-0.8zM83.8 217.0h0.8v0.8h-0.8zM66.8 215.3h0.8v0.8h-0.8zM77.7 225.1h0.8v0.8h-0.8zM97.0 219.4h0.8v0.8h-0.8zM46.7 220.6h0.8v0.8h-0.8zM114.6 222.7h0.8v0.8h-0.8zM73.5 208.7h0.8v0.8h-0.8zM64.7 224.2h0.8v0.8h-0.8zM52.6 229.0h0.8v0.8h-0.8zM61.6 215.9h0.8v0.8h-0.8zM61.3 220.5h0.8v0.8h-0.8zM98.6 217.7h0.8v0.8h-0.8zM87.4 230.1h0.8v0.8h-0.8zM48.5 229.7h0.8v0.8h-0.8zM91.0 223.7h0.8v0.8h-0.8zM56.9 215.8h0.8v0.8h-0.8zM52.4 226.5h0.8v0.8h-0.8zM80.2 227.3h0.8v0.8h-0.8zM118.0 221.1h0.8v0.8h-0.8zM44.2 218.4h0.8v0.8h-0.8zM66.3 218.8h0.8v0.8h-0.8zM78.4 216.1h0.8v0.8h-0.8zM102.4 213.0h0.8v0.8h-0.8zM55.8 211.1h0.8v0.8h-0.8zM41.9 224.5h0.8v0.8h-0.8zM89.9 219.9h0.8v0.8h-0.8zM94.9 224.7h0.8v0.8h-0.8zM61.4 220.8h0.8v0.8h-0.8zM64.6 223.2h0.8v0.8h-0.8zM87.9 228.2h0.8v0.8h-0.8zM85.0 227.3h0.8v0.8h-0.8zM49.9 219.5h0.8v0.8h-0.8zM130.0 222.5h0.8v0.8h-0.8zM77.1 222.6h0.8v0.8h-0.8zM78.4 213.3h0.8v0.8h-0.8zM58.7 220.0h0.8v0.8h-0.8zM79.0 216.0h0.8v0.8h-0.8zM72.5 216.7h0.8v0.8h-0.8zM43.9 217.2h0.8v0.8h-0.8zM56.0 226.0h0.8v0.8h-0.8zM106.6 224.4h0.8v0.8h-0.8zM70.0 217.8h0.8v0.8h-0.8zM111.9 227.8h0.8v0.8h-0.8zM80.3 219.6h0.8v0.8h-0.8zM75.1 223.5h0.8v0.8h-0.8zM74.8 223.5h0.8v0.8h-0.8zM56.8 221.3h0.8v0.8h-0.8zM66.7 227.3h0.8v0.8h-0.8zM45.7 228.6h0.8v0.8h-0.8zM73.0 218.1h0.8v0.8h-0.8zM75.5 221.8h0.8v0.8h-0.8zM69.5 223.5h0.8v0.8h-0.8zM61.4 211.1h0.8v0.8h-0.8zM91.4 220.9h0.8v0.8h-0.8zM114.3 223.3h0.8v0.8h-0.8zM58.8 224.2h0.8v0.8h-0.8zM127.4 227.4h0.8v0.8h-0.8zM49.2 220.5h0.8v0.8h-0.8zM88.3 215.0h0.8v0.8h-0.8zM85.7 226.5h0.8v0.8h-0.8zM94.1 217.1h0.8v0.8h-0.8zM58.7 214.5h0.8v0.8h-0.8zM44.5 222.9h0.8v0.8h-0.8zM75.9 228.7h0.8v0.8h-0.8zM81.5 219.2h0.8v0.8h-0.8zM78.9 220.9h0.8v0.8h-0.8zM51.3 214.9h0.8v0.8h-0.8zM89.9 215.4h0.8v0.8h-0.8zM88.8 224.7h0.8v0.8h-0.8zM66.0 211.6h0.8v0.8h-0.8zM84.7 229.3h0.8v0.8h-0.8zM55.6 213.7h0.8v0.8h-0.8zM100.7 221.9h0.8v0.8h-0.8zM60.3 228.2h0.8v0.8h-0.8zM68.5 223.7h0.8v0.8h-0.8zM65.5 216.7h0.8v0.8h-0.8zM80.2 216.0h0.8v0.8h-0.8zM104.1 227.5h0.8v0.8h-0.8zM126.2 226.8h0.8v0.8h-0.8zM113.0 222.5h0.8v0.8h-0.8zM64.7 223.8h0.8v0.8h-0.8zM52.6 225.3h0.8v0.8h-0.8zM64.4 222.6h0.8v0.8h-0.8zM54.9 220.3h0.8v0.8h-0.8zM98.1 219.8h0.8v0.8h-0.8zM59.1 222.7h0.8v0.8h-0.8zM95.7 220.0h0.8v0.8h-0.8zM47.5 212.0h0.8v0.8h-0.8zM43.5 227.3h0.8v0.8h-0.8zM72.9 223.8h0.8v0.8h-0.8zM100.3 222.7h0.8v0.8h-0.8zM86.4 218.1h0.8v0.8h-0.8zM72.7 224.4h0.8v0.8h-0.8zM49.9 220.2h0.8v0.8h-0.8zM122.4 216.2h0.8v0.8h-0.8zM77.3 228.7h0.8v0.8h-0.8zM69.6 221.8h0.8v0.8h-0.8zM64.6 228.5h0.8v0.8h-0.8zM72.9 218.9h0.8v0.8h-0.8zM85.3 219.7h0.8v0.8h-0.8zM62.9 230.0h0.8v0.8h-0.8zM98.1 221.7h0.8v0.8h-0.8zM94.0 225.9h0.8v0.8h-0.8zM88.7 221.3h0.8v0.8h-0.8zM76.7 223.4h0.8v0.8h-0.8zM88.3 223.1h0.8v0.8h-0.8zM62.1 220.6h0.8v0.8h-0.8zM85.8 215.4h0.8v0.8h-0.8zM74.8 225.5h0.8v0.8h-0.8zM79.0 219.4h0.8v0.8h-0.8zM74.5 218.3h0.8v0.8h-0.8zM98.1 218.9h0.8v0.8h-0.8zM82.0 222.3h0.8v0.8h-0.8zM63.9 213.5h0.8v0.8h-0.8zM71.5 216.2h0.8v0.8h-0.8zM59.6 221.1h0.8v0.8h-0.8zM57.0 222.9h0.8v0.8h-0.8zM57.6 218.4h0.8v0.8h-0.8zM69.7 229.5h0.8v0.8h-0.8zM112.1 226.5h0.8v0.8h-0.8zM57.7 221.1h0.8v0.8h-0.8zM96.5 225.7h0.8v0.8h-0.8zM57.6 225.4h0.8v0.8h-0.8zM90.0 218.0h0.8v0.8h-0.8zM125.3 219.5h0.8v0.8h-0.8zM132.4 220.1h0.8v0.8h-0.8zM62.6 218.4h0.8v0.8h-0.8zM109.7 220.9h0.8v0.8h-0.8zM86.2 213.9h0.8v0.8h-0.8zM117.0 226.7h0.8v0.8h-0.8zM83.4 225.1h0.8v0.8h-0.8zM63.3 218.4h0.8v0.8h-0.8zM104.1 226.0h0.8v0.8h-0.8zM96.6 225.2h0.8v0.8h-0.8zM53.4 213.6h0.8v0.8h-0.8zM90.1 222.0h0.8v0.8h-0.8zM98.2 219.5h0.8v0.8h-0.8zM54.3 223.6h0.8v0.8h-0.8zM61.9 211.7h0.8v0.8h-0.8zM60.7 216.1h0.8v0.8h-0.8zM48.8 217.9h0.8v0.8h-0.8zM115.6 218.7h0.8v0.8h-0.8zM101.8 220.7h0.8v0.8h-0.8zM84.5 217.2h0.8v0.8h-0.8zM73.3 211.5h0.8v0.8h-0.8zM117.1 216.7h0.8v0.8h-0.8zM88.8 217.7h0.8v0.8h-0.8zM81.4 214.4h0.8v0.8h-0.8zM66.2 226.3h0.8v0.8h-0.8zM89.0 210.0h0.8v0.8h-0.8zM95.0 213.6h0.8v0.8h-0.8zM81.7 224.1h0.8v0.8h-0.8zM59.9 219.3h0.8v0.8h-0.8zM69.2 223.4h0.8v0.8h-0.8zM96.5 228.9h0.8v0.8h-0.8zM68.9 225.5h0.8v0.8h-0.8zM72.0 221.6h0.8v0.8h-0.8zM53.4 223.3h0.8v0.8h-0.8zM122.6 221.9h0.8v0.8h-0.8zM74.5 221.1h0.8v0.8h-0.8zM91.8 219.9h0.8v0.8h-0.8zM74.9 222.3h0.8v0.8h-0.8zM105.6 226.5h0.8v0.8h-0.8zM50.3 217.5h0.8v0.8h-0.8zM75.5 225.9h0.8v0.8h-0.8zM97.8 219.9h0.8v0.8h-0.8zM125.0 220.2h0.8v0.8h-0.8zM108.0 229.2h0.8v0.8h-0.8zM112.5 222.2h0.8v0.8h-0.8zM88.5 212.4h0.8v0.8h-0.8zM91.9 227.2h0.8v0.8h-0.8zM72.6 227.0h0.8v0.8h-0.8zM88.6 229.8h0.8v0.8h-0.8zM52.5 215.1h0.8v0.8h-0.8zM113.7 215.8h0.8v0.8h-0.8zM55.5 218.8h0.8v0.8h-0.8zM95.8 218.5h0.8v0.8h-0.8zM92.3 224.2h0.8v0.8h-0.8zM60.0 207.6h0.8v0.8h-0.8zM53.4 214.0h0.8v0.8h-0.8zM113.4 217.0h0.8v0.8h-0.8zM49.8 223.2h0.8v0.8h-0.8zM76.3 215.8h0.8v0.8h-0.8zM100.7 226.3h0.8v0.8h-0.8zM81.6 216.8h0.8v0.8h-0.8zM54.5 209.4h0.8v0.8h-0.8zM84.0 223.3h0.8v0.8h-0.8zM53.4 221.2h0.8v0.8h-0.8zM65.0 218.3h0.8v0.8h-0.8zM89.6 220.3h0.8v0.8h-0.8zM98.4 224.0h0.8v0.8h-0.8zM102.3 221.8h0.8v0.8h-0.8zM80.9 213.2h0.8v0.8h-0.8zM76.6 226.1h0.8v0.8h-0.8zM51.0 221.3h0.8v0.8h-0.8zM57.6 215.4h0.8v0.8h-0.8zM60.5 228.4h0.8v0.8h-0.8zM91.1 220.9h0.8v0.8h-0.8zM73.1 221.8h0.8v0.8h-0.8zM81.7 222.1h0.8v0.8h-0.8zM54.9 206.2h0.8v0.8h-0.8zM91.6 214.2h0.8v0.8h-0.8zM71.7 220.5h0.8v0.8h-0.8zM61.1 224.1h0.8v0.8h-0.8zM68.6 219.5h0.8v0.8h-0.8zM52.5 219.5h0.8v0.8h-0.8zM50.6 221.3h0.8v0.8h-0.8zM106.2 226.8h0.8v0.8h-0.8zM85.1 213.3h0.8v0.8h-0.8zM99.2 226.4h0.8v0.8h-0.8zM123.6 208.2h0.8v0.8h-0.8zM75.4 219.2h0.8v0.8h-0.8zM100.6 214.9h0.8v0.8h-0.8zM120.7 230.0h0.8v0.8h-0.8zM123.6 221.3h0.8v0.8h-0.8zM121.5 228.0h0.8v0.8h-0.8zM120.2 227.0h0.8v0.8h-0.8zM121.7 222.8h0.8v0.8h-0.8zM120.1 227.9h0.8v0.8h-0.8zM124.1 223.7h0.8v0.8h-0.8zM123.9 223.6h0.8v0.8h-0.8zM122.0 225.3h0.8v0.8h-0.8zM118.8 226.8h0.8v0.8h-0.8zM120.7 220.8h0.8v0.8h-0.8zM119.7 224.5h0.8v0.8h-0.8zM119.7 224.2h0.8v0.8h-0.8zM120.0 221.5h0.8v0.8h-0.8zM123.4 225.1h0.8v0.8h-0.8zM122.1 224.9h0.8v0.8h-0.8zM121.6 225.0h0.8v0.8h-0.8zM119.1 223.4h0.8v0.8h-0.8zM121.7 227.3h0.8v0.8h-0.8zM122.0 228.3h0.8v0.8h-0.8zM118.5 225.8h0.8v0.8h-0.8zM120.2 228.1h0.8v0.8h-0.8zM125.2 223.6h0.8v0.8h-0.8zM123.1 224.6h0.8v0.8h-0.8zM119.3 225.9h0.8v0.8h-0.8zM119.2 228.9h0.8v0.8h-0.8zM122.8 227.3h0.8v0.8h-0.8zM122.3 220.9h0.8v0.8h-0.8zM123.2 225.2h0.8v0.8h-0.8zM116.3 227.1h0.8v0.8h-0.8zM123.7 228.0h0.8v0.8h-0.8zM119.3 227.6h0.8v0.8h-0.8zM122.2 225.0h0.8v0.8h-0.8zM120.9 226.6h0.8v0.8h-0.8zM122.7 226.4h0.8v0.8h-0.8zM120.6 223.3h0.8v0.8h-0.8zM124.4 227.1h0.8v0.8h-0.8zM120.3 225.8h0.8v0.8h-0.8zM123.2 221.8h0.8v0.8h-0.8zM122.6 229.6h0.8v0.8h-0.8zM122.1 224.1h0.8v0.8h-0.8zM125.9 224.3h0.8v0.8h-0.8zM122.0 224.6h0.8v0.8h-0.8zM121.9 222.1h0.8v0.8h-0.8zM118.7 223.6h0.8v0.8h-0.8zM123.5 224.8h0.8v0.8h-0.8zM124.0 221.1h0.8v0.8h-0.8zM120.2 228.5h0.8v0.8h-0.8zM119.8 222.6h0.8v0.8h-0.8zM119.9 225.3h0.8v0.8h-0.8zM121.5 227.9h0.8v0.8h-0.8zM124.4 227.6h0.8v0.8h-0.8zM122.8 224.2h0.8v0.8h-0.8zM120.4 223.1h0.8v0.8h-0.8zM124.3 227.0h0.8v0.8h-0.8zM121.7 223.8h0.8v0.8h-0.8zM123.0 226.0h0.8v0.8h-0.8zM121.8 223.3h0.8v0.8h-0.8zM122.0 224.3h0.8v0.8h-0.8zM123.1 226.2h0.8v0.8h-0.8zM122.5 224.5h0.8v0.8h-0.8zM124.8 226.0h0.8v0.8h-0.8zM124.2 226.3h0.8v0.8h-0.8zM122.9 225.8h0.8v0.8h-0.8zM119.2 222.8h0.8v0.8h-0.8zM119.5 227.2h0.8v0.8h-0.8zM123.5 225.3h0.8v0.8h-0.8zM121.7 228.8h0.8v0.8h-0.8zM120.6 222.5h0.8v0.8h-0.8zM118.2 225.8h0.8v0.8h-0.8zM123.0 226.4h0.8v0.8h-0.8zM121.0 227.1h0.8v0.8h-0.8zM121.4 224.2h0.8v0.8h-0.8zM120.7 227.1h0.8v0.8h-0.8zM123.6 222.9h0.8v0.8h-0.8zM119.4 226.3h0.8v0.8h-0.8zM126.1 222.1h0.8v0.8h-0.8zM118.8 227.0h0.8v0.8h-0.8zM122.6 224.1h0.8v0.8h-0.8zM121.4 226.4h0.8v0.8h-0.8zM117.7 226.5h0.8v0.8h-0.8zM122.8 226.8h0.8v0.8h-0.8zM124.0 224.7h0.8v0.8h-0.8zM118.4 228.8h0.8v0.8h-0.8zM123.2 223.9h0.8v0.8h-0.8zM123.7 226.8h0.8v0.8h-0.8zM121.2 221.3h0.8v0.8h-0.8zM120.5 224.4h0.8v0.8h-0.8zM119.7 225.8h0.8v0.8h-0.8zM119.2 226.8h0.8v0.8h-0.8zM125.6 222.2h0.8v0.8h-0.8zM123.7 223.9h0.8v0.8h-0.8zM122.7 224.9h0.8v0.8h-0.8zM124.3 223.4h0.8v0.8h-0.8zM123.1 223.7h0.8v0.8h-0.8zM122.0 225.3h0.8v0.8h-0.8zM123.8 222.0h0.8v0.8h-0.8zM118.6 228.8h0.8v0.8h-0.8zM122.3 228.4h0.8v0.8h-0.8zM119.3 226.5h0.8v0.8h-0.8zM122.8 228.4h0.8v0.8h-0.8zM121.4 224.7h0.8v0.8h-0.8zM123.0 224.9h0.8v0.8h-0.8zM119.9 227.3h0.8v0.8h-0.8zM117.4 224.8h0.8v0.8h-0.8zM124.4 223.8h0.8v0.8h-0.8zM120.8 226.4h0.8v0.8h-0.8zM123.9 225.8h0.8v0.8h-0.8zM119.4 225.0h0.8v0.8h-0.8zM123.8 224.7h0.8v0.8h-0.8zM120.1 227.5h0.8v0.8h-0.8zM124.0 228.8h0.8v0.8h-0.8zM119.2 224.8h0.8v0.8h-0.8zM120.0 226.6h0.8v0.8h-0.8zM120.5 227.8h0.8v0.8h-0.8zM115.7 228.8h0.8v0.8h-0.8zM120.1 225.4h0.8v0.8h-0.8zM122.7 225.5h0.8v0.8h-0.8zM119.3 228.8h0.8v0.8h-0.8zM122.7 224.3h0.8v0.8h-0.8zM121.9 223.4h0.8v0.8h-0.8zM118.9 225.7h0.8v0.8h-0.8zM122.3 225.5h0.8v0.8h-0.8zM119.8 223.4h0.8v0.8h-0.8zM117.9 229.4h0.8v0.8h-0.8zM122.3 223.8h0.8v0.8h-0.8zM124.0 225.8h0.8v0.8h-0.8zM120.6 224.6h0.8v0.8h-0.8zM123.9 225.4h0.8v0.8h-0.8zM125.0 225.2h0.8v0.8h-0.8zM120.2 224.7h0.8v0.8h-0.8zM120.0 226.4h0.8v0.8h-0.8zM122.0 226.5h0.8v0.8h-0.8zM122.5 223.3h0.8v0.8h-0.8zM121.1 223.9h0.8v0.8h-0.8zM122.5 222.8h0.8v0.8h-0.8zM120.3 224.3h0.8v0.8h-0.8zM120.2 225.4h0.8v0.8h-0.8zM124.7 224.1h0.8v0.8h-0.8zM118.4 225.8h0.8v0.8h-0.8zM123.1 226.1h0.8v0.8h-0.8zM122.0 229.0h0.8v0.8h-0.8zM123.9 225.0h0.8v0.8h-0.8zM124.1 222.3h0.8v0.8h-0.8zM121.1 224.0h0.8v0.8h-0.8zM121.9 228.4h0.8v0.8h-0.8zM120.4 228.7h0.8v0.8h-0.8zM119.3 228.7h0.8v0.8h-0.8zM117.9 224.9h0.8v0.8h-0.8zM123.6 224.7h0.8v0.8h-0.8zM121.8 225.4h0.8v0.8h-0.8zM121.9 225.1h0.8v0.8h-0.8zM119.4 225.5h0.8v0.8h-0.8zM121.7 223.8h0.8v0.8h-0.8zM122.5 228.5h0.8v0.8h-0.8zM118.0 225.5h0.8v0.8h-0.8zM120.9 225.7h0.8v0.8h-0.8zM121.7 224.1h0.8v0.8h-0.8zM121.4 225.5h0.8v0.8h-0.8zM121.3 228.4h0.8v0.8h-0.8zM121.8 222.7h0.8v0.8h-0.8zM118.2 227.5h0.8v0.8h-0.8zM120.8 224.6h0.8v0.8h-0.8zM118.6 225.7h0.8v0.8h-0.8zM121.3 224.3h0.8v0.8h-0.8zM120.7 227.3h0.8v0.8h-0.8zM123.2 226.0h0.8v0.8h-0.8zM121.1 223.1h0.8v0.8h-0.8zM123.2 227.8h0.8v0.8h-0.8zM124.2 226.9h0.8v0.8h-0.8zM122.1 226.0h0.8v0.8h-0.8zM121.5 227.8h0.8v0.8h-0.8zM120.9 229.6h0.8v0.8h-0.8zM123.2 224.5h0.8v0.8h-0.8zM121.5 222.6h0.8v0.8h-0.8zM119.9 225.4h0.8v0.8h-0.8zM126.7 222.6h0.8v0.8h-0.8zM123.5 225.1h0.8v0.8h-0.8zM120.9 226.8h0.8v0.8h-0.8zM117.2 228.4h0.8v0.8h-0.8zM125.6 224.9h0.8v0.8h-0.8zM121.4 225.8h0.8v0.8h-0.8zM122.9 224.2h0.8v0.8h-0.8zM121.8 226.4h0.8v0.8h-0.8zM120.8 226.4h0.8v0.8h-0.8zM122.2 226.6h0.8v0.8h-0.8zM119.4 225.1h0.8v0.8h-0.8zM120.6 227.9h0.8v0.8h-0.8zM122.0 222.3h0.8v0.8h-0.8zM118.8 229.8h0.8v0.8h-0.8zM122.2 222.9h0.8v0.8h-0.8zM119.6 226.3h0.8v0.8h-0.8zM124.5 227.6h0.8v0.8h-0.8zM120.7 225.2h0.8v0.8h-0.8zM125.6 222.6h0.8v0.8h-0.8zM124.8 225.2h0.8v0.8h-0.8zM121.7 227.8h0.8v0.8h-0.8zM122.5 223.7h0.8v0.8h-0.8zM118.2 226.4h0.8v0.8h-0.8zM122.6 227.7h0.8v0.8h-0.8zM115.9 229.5h0.8v0.8h-0.8zM122.8 227.9h0.8v0.8h-0.8zM123.2 225.4h0.8v0.8h-0.8zM122.4 226.0h0.8v0.8h-0.8zM120.2 225.7h0.8v0.8h-0.8zM121.8 224.6h0.8v0.8h-0.8zM118.4 223.7h0.8v0.8h-0.8zM122.6 226.2h0.8v0.8h-0.8zM121.7 223.3h0.8v0.8h-0.8zM123.3 224.3h0.8v0.8h-0.8zM117.1 229.6h0.8v0.8h-0.8zM122.6 224.4h0.8v0.8h-0.8zM116.5 225.6h0.8v0.8h-0.8zM124.7 227.1h0.8v0.8h-0.8zM122.1 222.2h0.8v0.8h-0.8zM120.7 225.2h0.8v0.8h-0.8zM122.5 225.0h0.8v0.8h-0.8zM122.2 222.3h0.8v0.8h-0.8zM120.1 228.5h0.8v0.8h-0.8zM118.4 228.0h0.8v0.8h-0.8zM126.4 225.3h0.8v0.8h-0.8zM118.5 228.6h0.8v0.8h-0.8zM117.5 227.2h0.8v0.8h-0.8zM120.6 228.0h0.8v0.8h-0.8zM124.0 225.2h0.8v0.8h-0.8zM125.3 226.3h0.8v0.8h-0.8zM120.5 224.0h0.8v0.8h-0.8zM126.8 223.3h0.8v0.8h-0.8zM122.4 225.0h0.8v0.8h-0.8zM120.5 222.8h0.8v0.8h-0.8zM121.2 225.4h0.8v0.8h-0.8zM123.6 224.0h0.8v0.8h-0.8zM118.2 224.4h0.8v0.8h-0.8zM121.4 226.0h0.8v0.8h-0.8zM123.0 224.4h0.8v0.8h-0.8zM122.7 225.4h0.8v0.8h-0.8zM125.1 224.4h0.8v0.8h-0.8zM121.8 226.5h0.8v0.8h-0.8zM124.1 223.1h0.8v0.8h-0.8zM120.5 225.3h0.8v0.8h-0.8zM116.9 229.1h0.8v0.8h-0.8zM123.8 224.9h0.8v0.8h-0.8zM128.7 225.9h0.8v0.8h-0.8zM125.8 227.2h0.8v0.8h-0.8zM123.4 222.4h0.8v0.8h-0.8zM124.8 225.4h0.8v0.8h-0.8zM118.9 226.3h0.8v0.8h-0.8zM123.1 226.9h0.8v0.8h-0.8zM121.9 224.4h0.8v0.8h-0.8zM123.1 223.7h0.8v0.8h-0.8zM121.3 226.9h0.8v0.8h-0.8zM118.4 227.0h0.8v0.8h-0.8zM117.3 224.9h0.8v0.8h-0.8zM118.9 226.1h0.8v0.8h-0.8zM123.0 225.0h0.8v0.8h-0.8zM123.5 225.1h0.8v0.8h-0.8zM121.1 226.5h0.8v0.8h-0.8zM121.0 225.9h0.8v0.8h-0.8zM123.7 223.8h0.8v0.8h-0.8zM124.0 222.8h0.8v0.8h-0.8zM121.0 222.4h0.8v0.8h-0.8zM120.4 228.7h0.8v0.8h-0.8zM122.3 227.6h0.8v0.8h-0.8zM118.4 224.5h0.8v0.8h-0.8zM122.5 226.8h0.8v0.8h-0.8zM123.3 221.9h0.8v0.8h-0.8zM122.6 225.1h0.8v0.8h-0.8zM121.8 226.3h0.8v0.8h-0.8zM120.9 222.6h0.8v0.8h-0.8zM119.2 223.5h0.8v0.8h-0.8zM118.7 226.0h0.8v0.8h-0.8zM124.3 223.4h0.8v0.8h-0.8zM119.9 223.8h0.8v0.8h-0.8zM117.8 226.6h0.8v0.8h-0.8zM120.5 225.3h0.8v0.8h-0.8zM119.4 227.0h0.8v0.8h-0.8zM118.9 227.2h0.8v0.8h-0.8zM120.1 227.3h0.8v0.8h-0.8zM119.6 226.8h0.8v0.8h-0.8zM122.4 225.1h0.8v0.8h-0.8zM125.0 224.9h0.8v0.8h-0.8zM119.6 227.3h0.8v0.8h-0.8zM119.7 225.0h0.8v0.8h-0.8zM121.5 225.8h0.8v0.8h-0.8zM125.2 221.3h0.8v0.8h-0.8zM120.9 227.7h0.8v0.8h-0.8zM121.2 226.2h0.8v0.8h-0.8zM124.8 222.3h0.8v0.8h-0.8zM121.6 226.9h0.8v0.8h-0.8zM120.2 222.6h0.8v0.8h-0.8zM119.4 226.4h0.8v0.8h-0.8zM121.9 228.8h0.8v0.8h-0.8zM124.3 221.9h0.8v0.8h-0.8zM123.7 226.6h0.8v0.8h-0.8zM125.0 224.3h0.8v0.8h-0.8zM120.3 226.1h0.8v0.8h-0.8zM124.8 225.7h0.8v0.8h-0.8zM125.1 226.0h0.8v0.8h-0.8zM120.2 224.0h0.8v0.8h-0.8zM125.5 221.6h0.8v0.8h-0.8zM120.8 225.1h0.8v0.8h-0.8zM119.5 225.0h0.8v0.8h-0.8zM121.5 229.9h0.8v0.8h-0.8zM121.4 224.6h0.8v0.8h-0.8zM121.8 227.2h0.8v0.8h-0.8zM119.8 225.2h0.8v0.8h-0.8zM117.8 227.8h0.8v0.8h-0.8zM123.0 227.9h0.8v0.8h-0.8zM118.9 230.2h0.8v0.8h-0.8zM123.4 224.5h0.8v0.8h-0.8zM120.7 225.2h0.8v0.8h-0.8zM118.9 227.6h0.8v0.8h-0.8zM120.2 224.5h0.8v0.8h-0.8zM122.6 225.4h0.8v0.8h-0.8zM120.2 225.4h0.8v0.8h-0.8zM120.4 228.3h0.8v0.8h-0.8zM123.6 223.6h0.8v0.8h-0.8zM121.4 228.1h0.8v0.8h-0.8zM120.9 229.0h0.8v0.8h-0.8zM122.5 226.5h0.8v0.8h-0.8zM117.0 228.3h0.8v0.8h-0.8zM122.2 226.4h0.8v0.8h-0.8zM122.5 226.2h0.8v0.8h-0.8zM120.4 227.5h0.8v0.8h-0.8zM121.6 223.5h0.8v0.8h-0.8zM119.3 226.4h0.8v0.8h-0.8zM122.2 221.2h0.8v0.8h-0.8zM117.1 228.6h0.8v0.8h-0.8zM118.2 225.9h0.8v0.8h-0.8zM120.2 226.9h0.8v0.8h-0.8zM109.2 228.6h0.8v0.8h-0.8zM107.0 221.4h0.8v0.8h-0.8zM121.8 223.8h0.8v0.8h-0.8zM111.4 229.4h0.8v0.8h-0.8zM119.3 218.9h0.8v0.8h-0.8zM117.1 210.7h0.8v0.8h-0.8zM127.7 221.6h0.8v0.8h-0.8zM110.7 216.8h0.8v0.8h-0.8zM120.1 225.6h0.8v0.8h-0.8zM118.1 226.2h0.8v0.8h-0.8zM124.9 205.4h0.8v0.8h-0.8zM112.7 203.2h0.8v0.8h-0.8zM116.9 215.8h0.8v0.8h-0.8zM126.3 220.3h0.8v0.8h-0.8zM119.3 228.8h0.8v0.8h-0.8zM126.4 209.4h0.8v0.8h-0.8zM112.6 221.5h0.8v0.8h-0.8zM118.2 221.1h0.8v0.8h-0.8zM128.4 218.3h0.8v0.8h-0.8zM123.2 215.7h0.8v0.8h-0.8zM114.1 212.8h0.8v0.8h-0.8zM127.1 214.7h0.8v0.8h-0.8zM125.9 222.2h0.8v0.8h-0.8zM130.5 198.2h0.8v0.8h-0.8zM109.6 209.5h0.8v0.8h-0.8zM118.2 225.3h0.8v0.8h-0.8zM115.8 223.2h0.8v0.8h-0.8zM120.1 223.8h0.8v0.8h-0.8zM108.9 210.5h0.8v0.8h-0.8zM113.1 218.7h0.8v0.8h-0.8zM123.8 216.2h0.8v0.8h-0.8zM123.8 224.3h0.8v0.8h-0.8zM107.5 218.2h0.8v0.8h-0.8zM103.3 214.7h0.8v0.8h-0.8zM129.7 213.4h0.8v0.8h-0.8zM129.6 219.8h0.8v0.8h-0.8zM129.3 227.5h0.8v0.8h-0.8zM121.2 214.9h0.8v0.8h-0.8zM118.0 215.4h0.8v0.8h-0.8zM112.4 205.9h0.8v0.8h-0.8zM114.6 221.5h0.8v0.8h-0.8zM114.8 213.1h0.8v0.8h-0.8zM124.4 222.6h0.8v0.8h-0.8zM115.3 221.4h0.8v0.8h-0.8zM109.5 225.7h0.8v0.8h-0.8zM109.4 216.4h0.8v0.8h-0.8zM121.5 215.7h0.8v0.8h-0.8zM121.3 209.1h0.8v0.8h-0.8zM123.4 208.9h0.8v0.8h-0.8zM126.2 223.1h0.8v0.8h-0.8zM115.1 226.4h0.8v0.8h-0.8zM115.1 218.1h0.8v0.8h-0.8zM114.6 205.3h0.8v0.8h-0.8zM126.5 203.2h0.8v0.8h-0.8zM117.5 223.1h0.8v0.8h-0.8zM121.2 206.7h0.8v0.8h-0.8zM113.0 224.3h0.8v0.8h-0.8zM114.8 225.0h0.8v0.8h-0.8zM127.6 214.0h0.8v0.8h-0.8zM116.1 211.4h0.8v0.8h-0.8zM132.0 208.7h0.8v0.8h-0.8zM110.2 216.4h0.8v0.8h-0.8zM123.0 212.5h0.8v0.8h-0.8zM126.2 221.7h0.8v0.8h-0.8zM123.0 218.5h0.8v0.8h-0.8zM125.0 209.9h0.8v0.8h-0.8zM107.1 215.7h0.8v0.8h-0.8zM108.1 224.5h0.8v0.8h-0.8zM124.8 221.6h0.8v0.8h-0.8zM112.6 208.9h0.8v0.8h-0.8zM125.9 207.5h0.8v0.8h-0.8zM123.2 217.9h0.8v0.8h-0.8zM128.1 219.4h0.8v0.8h-0.8zM121.1 214.5h0.8v0.8h-0.8zM127.5 227.1h0.8v0.8h-0.8zM109.9 224.5h0.8v0.8h-0.8zM123.4 207.2h0.8v0.8h-0.8zM115.2 211.0h0.8v0.8h-0.8zM117.1 210.0h0.8v0.8h-0.8zM123.7 215.3h0.8v0.8h-0.8zM110.9 229.8h0.8v0.8h-0.8zM124.7 212.1h0.8v0.8h-0.8zM125.4 220.2h0.8v0.8h-0.8zM132.7 223.8h0.8v0.8h-0.8zM116.3 224.6h0.8v0.8h-0.8zM115.8 220.0h0.8v0.8h-0.8zM108.9 215.9h0.8v0.8h-0.8zM114.6 229.1h0.8v0.8h-0.8zM122.0 216.2h0.8v0.8h-0.8zM127.2 224.2h0.8v0.8h-0.8zM128.1 225.0h0.8v0.8h-0.8zM127.5 217.5h0.8v0.8h-0.8zM120.4 220.7h0.8v0.8h-0.8zM119.4 221.7h0.8v0.8h-0.8zM110.8 217.8h0.8v0.8h-0.8zM113.5 209.9h0.8v0.8h-0.8zM112.4 215.1h0.8v0.8h-0.8zM118.4 206.8h0.8v0.8h-0.8zM117.2 210.2h0.8v0.8h-0.8zM111.2 220.5h0.8v0.8h-0.8zM131.9 221.2h0.8v0.8h-0.8zM114.7 215.6h0.8v0.8h-0.8zM132.3 207.3h0.8v0.8h-0.8zM113.2 219.4h0.8v0.8h-0.8zM125.3 218.6h0.8v0.8h-0.8zM130.3 219.3h0.8v0.8h-0.8zM111.3 227.8h0.8v0.8h-0.8zM115.5 225.0h0.8v0.8h-0.8zM102.6 211.0h0.8v0.8h-0.8zM132.7 222.9h0.8v0.8h-0.8zM116.6 196.2h0.8v0.8h-0.8zM124.7 217.5h0.8v0.8h-0.8zM119.9 220.8h0.8v0.8h-0.8zM128.1 216.9h0.8v0.8h-0.8zM110.3 216.2h0.8v0.8h-0.8zM131.3 220.0h0.8v0.8h-0.8zM127.9 216.9h0.8v0.8h-0.8zM110.2 226.8h0.8v0.8h-0.8zM117.2 216.1h0.8v0.8h-0.8zM123.7 217.5h0.8v0.8h-0.8zM116.6 212.0h0.8v0.8h-0.8zM122.7 221.5h0.8v0.8h-0.8zM111.4 217.7h0.8v0.8h-0.8zM118.0 207.2h0.8v0.8h-0.8zM126.2 212.2h0.8v0.8h-0.8zM133.5 220.5h0.8v0.8h-0.8zM114.5 217.0h0.8v0.8h-0.8zM130.4 214.9h0.8v0.8h-0.8zM124.5 226.6h0.8v0.8h-0.8zM110.2 214.4h0.8v0.8h-0.8zM124.8 219.1h0.8v0.8h-0.8zM118.7 214.9h0.8v0.8h-0.8zM120.5 219.7h0.8v0.8h-0.8zM120.4 208.2h0.8v0.8h-0.8zM118.6 220.2h0.8v0.8h-0.8zM112.6 221.5h0.8v0.8h-0.8zM121.1 222.1h0.8v0.8h-0.8zM118.2 215.4h0.8v0.8h-0.8zM122.0 227.5h0.8v0.8h-0.8zM129.7 218.4h0.8v0.8h-0.8zM115.0 227.3h0.8v0.8h-0.8zM125.8 225.9h0.8v0.8h-0.8zM117.0 212.3h0.8v0.8h-0.8zM122.0 214.1h0.8v0.8h-0.8zM132.4 225.7h0.8v0.8h-0.8zM114.9 212.3h0.8v0.8h-0.8zM130.5 226.9h0.8v0.8h-0.8zM120.6 210.0h0.8v0.8h-0.8zM103.5 221.1h0.8v0.8h-0.8zM111.1 213.7h0.8v0.8h-0.8zM124.8 227.2h0.8v0.8h-0.8zM116.3 224.0h0.8v0.8h-0.8zM107.7 209.4h0.8v0.8h-0.8zM131.0 219.0h0.8v0.8h-0.8zM130.9 215.8h0.8v0.8h-0.8zM107.3 205.9h0.8v0.8h-0.8zM122.9 226.1h0.8v0.8h-0.8zM124.0 218.7h0.8v0.8h-0.8zM115.7 227.5h0.8v0.8h-0.8zM119.5 207.7h0.8v0.8h-0.8zM124.2 219.0h0.8v0.8h-0.8zM131.4 220.9h0.8v0.8h-0.8zM133.2 220.7h0.8v0.8h-0.8zM115.0 215.0h0.8v0.8h-0.8zM127.0 212.5h0.8v0.8h-0.8zM130.0 217.1h0.8v0.8h-0.8zM110.0 212.2h0.8v0.8h-0.8zM128.3 219.2h0.8v0.8h-0.8zM117.0 219.0h0.8v0.8h-0.8zM115.4 229.5h0.8v0.8h-0.8zM89.3 197.5h0.8v0.8h-0.8zM89.6 192.2h0.8v0.8h-0.8zM59.2 200.4h0.8v0.8h-0.8zM133.8 191.1h0.8v0.8h-0.8zM81.5 186.5h0.8v0.8h-0.8zM89.2 204.1h0.8v0.8h-0.8zM103.2 188.9h0.8v0.8h-0.8zM70.2 195.7h0.8v0.8h-0.8zM79.0 224.4h0.8v0.8h-0.8zM80.1 201.6h0.8v0.8h-0.8zM72.5 209.8h0.8v0.8h-0.8zM122.6 191.5h0.8v0.8h-0.8zM111.0 202.3h0.8v0.8h-0.8zM115.7 212.4h0.8v0.8h-0.8zM101.1 185.6h0.8v0.8h-0.8zM88.3 197.1h0.8v0.8h-0.8zM96.0 202.4h0.8v0.8h-0.8zM110.8 186.3h0.8v0.8h-0.8zM66.8 201.3h0.8v0.8h-0.8zM92.9 198.0h0.8v0.8h-0.8zM84.3 202.5h0.8v0.8h-0.8zM110.7 200.9h0.8v0.8h-0.8zM91.0 184.2h0.8v0.8h-0.8zM93.8 179.4h0.8v0.8h-0.8zM95.1 201.1h0.8v0.8h-0.8zM85.1 194.8h0.8v0.8h-0.8zM74.7 210.2h0.8v0.8h-0.8zM93.8 201.7h0.8v0.8h-0.8zM73.0 204.1h0.8v0.8h-0.8zM114.3 201.8h0.8v0.8h-0.8zM76.0 190.4h0.8v0.8h-0.8zM87.4 193.0h0.8v0.8h-0.8zM49.7 210.5h0.8v0.8h-0.8zM69.7 182.0h0.8v0.8h-0.8zM67.3 220.1h0.8v0.8h-0.8zM82.4 189.0h0.8v0.8h-0.8zM57.9 209.1h0.8v0.8h-0.8zM95.0 204.1h0.8v0.8h-0.8zM80.2 206.8h0.8v0.8h-0.8zM122.9 206.8h0.8v0.8h-0.8zM81.0 188.3h0.8v0.8h-0.8zM95.9 217.4h0.8v0.8h-0.8zM100.9 189.7h0.8v0.8h-0.8zM89.6 214.8h0.8v0.8h-0.8zM69.4 206.9h0.8v0.8h-0.8zM114.8 218.1h0.8v0.8h-0.8zM45.9 184.8h0.8v0.8h-0.8zM94.2 208.9h0.8v0.8h-0.8zM76.3 201.8h0.8v0.8h-0.8zM75.0 213.8h0.8v0.8h-0.8zM53.5 195.3h0.8v0.8h-0.8zM47.3 193.1h0.8v0.8h-0.8zM84.4 202.3h0.8v0.8h-0.8zM129.0 199.8h0.8v0.8h-0.8zM93.5 205.5h0.8v0.8h-0.8zM91.3 216.4h0.8v0.8h-0.8zM88.4 203.5h0.8v0.8h-0.8zM82.2 202.0h0.8v0.8h-0.8zM83.6 211.8h0.8v0.8h-0.8zM85.5 202.7h0.8v0.8h-0.8zM83.8 209.5h0.8v0.8h-0.8zM73.4 211.2h0.8v0.8h-0.8zM70.9 208.8h0.8v0.8h-0.8zM132.3 204.3h0.8v0.8h-0.8zM82.9 190.4h0.8v0.8h-0.8zM103.2 202.1h0.8v0.8h-0.8zM107.4 195.5h0.8v0.8h-0.8zM97.8 219.8h0.8v0.8h-0.8zM94.9 198.8h0.8v0.8h-0.8zM52.9 201.9h0.8v0.8h-0.8zM101.2 207.9h0.8v0.8h-0.8zM57.5 191.9h0.8v0.8h-0.8zM60.9 191.9h0.8v0.8h-0.8zM78.2 204.6h0.8v0.8h-0.8zM132.4 203.9h0.8v0.8h-0.8zM120.8 185.7h0.8v0.8h-0.8zM123.0 209.9h0.8v0.8h-0.8zM95.9 210.1h0.8v0.8h-0.8zM100.2 220.9h0.8v0.8h-0.8zM104.9 184.8h0.8v0.8h-0.8zM41.9 217.9h0.8v0.8h-0.8zM82.9 215.0h0.8v0.8h-0.8zM76.6 195.5h0.8v0.8h-0.8zM76.5 205.1h0.8v0.8h-0.8zM89.6 195.9h0.8v0.8h-0.8zM98.2 208.1h0.8v0.8h-0.8zM62.4 191.0h0.8v0.8h-0.8zM85.3 195.1h0.8v0.8h-0.8zM70.1 200.7h0.8v0.8h-0.8zM85.7 207.6h0.8v0.8h-0.8z" fill="#000" fill-opacity="1"/>
<path d="M110.6 195.2h0.8v0.8h-0.8zM117.6 178.5h0.8v0.8h-0.8zM105.0 194.4h0.8v0.8h-0.8zM64.2 182.0h0.8v0.8h-0.8zM101.0 190.9h0.8v0.8h-0.8zM59.0 183.4h0.8v0.8h-0.8zM127.7 200.0h0.8v0.8h-0.8zM92.0 206.0h0.8v0.8h-0.8zM67.6 188.0h0.8v0.8h-0.8zM113.7 186.0h0.8v0.8h-0.8zM62.4 196.9h0.8v0.8h-0.8zM129.6 159.9h0.8v0.8h-0.8zM93.8 175.2h0.8v0.8h-0.8zM82.6 173.3h0.8v0.8h-0.8zM91.1 181.6h0.8v0.8h-0.8zM65.6 184.6h0.8v0.8h-0.8zM95.1 210.8h0.8v0.8h-0.8zM97.1 208.6h0.8v0.8h-0.8zM63.7 190.8h0.8v0.8h-0.8zM79.2 171.4h0.8v0.8h-0.8zM96.0 181.1h0.8v0.8h-0.8zM75.8 177.7h0.8v0.8h-0.8zM115.3 185.2h0.8v0.8h-0.8zM86.4 192.1h0.8v0.8h-0.8zM59.7 192.8h0.8v0.8h-0.8zM85.8 195.3h0.8v0.8h-0.8zM80.5 190.5h0.8v0.8h-0.8zM102.8 201.5h0.8v0.8h-0.8zM73.0 201.5h0.8v0.8h-0.8zM65.6 187.8h0.8v0.8h-0.8zM93.2 191.7h0.8v0.8h-0.8zM85.5 201.0h0.8v0.8h-0.8zM72.6 207.9h0.8v0.8h-0.8zM45.5 190.9h0.8v0.8h-0.8zM103.3 190.2h0.8v0.8h-0.8z" fill="#666" fill-opacity="0.6"/>
<line x1="101.25" y1="148.25" x2="101.25" y2="240.75" stroke="#777" stroke-width="0.8" />
<rect x="41.25" y="148.25" width="93.75" height="92.5" fill="none" stroke="#000" stroke-width="0.8" />
<path d="M41.25 240.75v2.0M48.31 240.75v1.1M52.43 240.75v1.1M55.36 240.75v1.1M57.63 240.75v1.1M59.49 240.75v1.1M61.06 240.75v1.1M62.42 240.75v1.1M63.62 240.75v1.1M64.69 240.75v2.0M71.74 240.75v1.1M75.87 240.75v1.1M78.80 240.75v1.1M81.07 240.75v1.1M82.93 240.75v1.1M84.49 240.75v1.1M85.85 240.75v1.1M87.05 240.75v1.1M88.12 240.75v2.0M95.18 240.75v1.1M99.31 240.75v1.1M102.24 240.75v1.1M104.51 240.75v1.1M106.36 240.75v1.1M107.93 240.75v1.1M109.29 240.75v1.1M110.49 240.75v1.1M111.56 240.75v2.0M118.62 240.75v1.1M122.75 240.75v1.1M125.67 240.75v1.1M127.94 240.75v1.1M129.80 240.75v1.1M131.37 240.75v1.1M132.73 240.75v1.1M133.93 240.75v1.1M135.00 240.75v2.0M41.25 240.75h-2.0M41.25 237.05h-1.1M41.25 233.35h-1.1M41.25 229.65h-1.1M41.25 225.95h-1.1M41.25 222.25h-2.0M41.25 218.55h-1.1M41.25 214.85h-1.1M41.25 211.15h-1.1M41.25 207.45h-1.1M41.25 203.75h-2.0M41.25 200.05h-1.1M41.25 196.35h-1.1M41.25 192.65h-1.1M41.25 188.95h-1.1M41.25 185.25h-2.0M41.25 181.55h-1.1M41.25 177.85h-1.1M41.25 174.15h-1.1M41.25 170.45h-1.1M41.25 166.75h-2.0M41.25 163.05h-1.1M41.25 159.35h-1.1M41.25 155.65h-1.1M41.25 151.95h-1.1M41.25 148.25h-2.0" stroke="#222" stroke-width="0.6" fill="none"/>
<text x="110.5" y="172" font-size="11" text-anchor="start" font-weight="bold" fill="#000" >R8</text>
<text transform="translate(37.3,192.5) rotate(-90)" font-size="11" text-anchor="middle" font-weight="normal">FSC</text>
<text x="89.5" y="256.2" font-size="11" text-anchor="middle" font-weight="normal" fill="#000" >PI</text>
<text x="167" y="14.5" font-size="16" text-anchor="start" font-weight="bold" fill="#000" >B</text>
<line x1="202.5" y1="12" x2="324.5" y2="12" stroke="#888" stroke-width="0.8" />
<line x1="324.5" y1="12" x2="324.5" y2="245" stroke="#888" stroke-width="0.8" />
<rect x="207.5" y="234.5" width="28.25" height="7.5" fill="#999" stroke="#111" stroke-width="1" />
<rect x="246.75" y="85" width="28.75" height="157" fill="#999" stroke="#111" stroke-width="1" />
<rect x="286.25" y="187.5" width="28.75" height="54.5" fill="#999" stroke="#111" stroke-width="1" />
<line x1="221.6" y1="233.6" x2="221.6" y2="235.2" stroke="#000" stroke-width="1" />
<line x1="219.0" y1="233.6" x2="224.2" y2="233.6" stroke="#000" stroke-width="1" />
<line x1="219.0" y1="235.2" x2="224.2" y2="235.2" stroke="#000" stroke-width="1" />
<line x1="261.25" y1="42" x2="261.25" y2="127.5" stroke="#000" stroke-width="1" />
<line x1="258.25" y1="42" x2="264.25" y2="42" stroke="#000" stroke-width="1" />
<line x1="258.25" y1="127.5" x2="264.25" y2="127.5" stroke="#000" stroke-width="1" />
<line x1="301.25" y1="180.75" x2="301.25" y2="193.75" stroke="#000" stroke-width="1" />
<line x1="298.25" y1="180.75" x2="304.25" y2="180.75" stroke="#000" stroke-width="1" />
<line x1="298.25" y1="193.75" x2="304.25" y2="193.75" stroke="#000" stroke-width="1" />
<line x1="202.5" y1="12" x2="202.5" y2="242" stroke="#000" stroke-width="1" />
<line x1="202.5" y1="242" x2="324.5" y2="242" stroke="#000" stroke-width="1" />
<line x1="199.5" y1="184.5" x2="202.5" y2="184.5" stroke="#000" stroke-width="0.9" />
<line x1="199.5" y1="127.0" x2="202.5" y2="127.0" stroke="#000" stroke-width="0.9" />
<line x1="199.5" y1="69.5" x2="202.5" y2="69.5" stroke="#000" stroke-width="0.9" />
<line x1="199.5" y1="12.0" x2="202.5" y2="12.0" stroke="#000" stroke-width="0.9" />
<line x1="199.5" y1="242" x2="202.5" y2="242" stroke="#000" stroke-width="1" />
<text x="194.3" y="16.0" font-size="8.8" text-anchor="end" font-weight="normal" fill="#000" >40</text>
<text x="195.5" y="70.6" font-size="8.8" text-anchor="end" font-weight="normal" fill="#000" >30</text>
<text x="195.5" y="129" font-size="8.8" text-anchor="end" font-weight="normal" fill="#000" >20</text>
<text x="196.2" y="186.3" font-size="8.8" text-anchor="end" font-weight="normal" fill="#000" >10</text>
<text x="196.2" y="240.2" font-size="8.8" text-anchor="end" font-weight="normal" fill="#000" >0</text>
<line x1="241.75" y1="242" x2="241.75" y2="244.5" stroke="#000" stroke-width="0.8" />
<line x1="281.25" y1="242" x2="281.25" y2="244.5" stroke="#000" stroke-width="0.8" />
<text transform="translate(180.4,122.5) rotate(-90)" font-size="13" text-anchor="middle" font-weight="normal">% PI<tspan font-size="52%" dy="-0.62em">+</tspan><tspan dy="0.322em"> cells</tspan></text>
<line x1="260" y1="36.2" x2="302" y2="36.2" stroke="#333" stroke-width="0.9" />
<text x="281.4" y="41.89" font-size="20.5" text-anchor="middle" font-weight="normal" fill="#000"  stroke="#000" stroke-width="0.35">*</text>
<text x="192.5" y="257" font-size="11.4" text-anchor="end" font-weight="normal" fill="#000" >FCS</text>
<text x="190.8" y="271.7" font-size="11.4" text-anchor="end" font-weight="normal" fill="#000" >rCX<tspan font-size="58%" dy="0.62em">3</tspan><tspan dy="-0.36em">CL1</tspan></text>
<text x="218.75" y="258.56" font-size="16" text-anchor="middle" font-weight="normal" fill="#000" >+</text>
<text x="260.5" y="257.82" font-size="15" text-anchor="middle" font-weight="bold" fill="#000" >-</text>
<text x="301.25" y="257.82" font-size="15" text-anchor="middle" font-weight="bold" fill="#000" >-</text>
<text x="218.75" y="271.73" font-size="15" text-anchor="middle" font-weight="bold" fill="#000" >-</text>
<text x="260.5" y="271.73" font-size="15" text-anchor="middle" font-weight="bold" fill="#000" >-</text>
<text x="301.25" y="273.36" font-size="16" text-anchor="middle" font-weight="normal" fill="#000" >+</text>
<text x="359" y="14" font-size="16" text-anchor="start" font-weight="bold" fill="#000" >C</text>
<line x1="394.25" y1="12" x2="501.75" y2="12" stroke="#888" stroke-width="0.8" />
<line x1="501.75" y1="12" x2="501.75" y2="242.5" stroke="#888" stroke-width="0.8" />
<line x1="394.25" y1="12" x2="394.25" y2="242.5" stroke="#777" stroke-width="0.9" />
<rect x="400" y="200.75" width="24.25" height="41.75" fill="#999" stroke="#111" stroke-width="1.25" />
<rect x="435.5" y="81.25" width="24.5" height="161.25" fill="#999" stroke="#111" stroke-width="1.25" />
<rect x="471.25" y="153.75" width="24.5" height="88.75" fill="#999" stroke="#111" stroke-width="1.25" />
<line x1="412" y1="190.75" x2="412" y2="210.5" stroke="#000" stroke-width="1.25" />
<line x1="408.7" y1="190.75" x2="415.3" y2="190.75" stroke="#000" stroke-width="1.25" />
<line x1="408.7" y1="210.5" x2="415.3" y2="210.5" stroke="#000" stroke-width="1.25" />
<line x1="448.25" y1="58.75" x2="448.25" y2="104.5" stroke="#000" stroke-width="1.25" />
<line x1="444.95" y1="58.75" x2="451.55" y2="58.75" stroke="#000" stroke-width="1.25" />
<line x1="444.95" y1="104.5" x2="451.55" y2="104.5" stroke="#000" stroke-width="1.25" />
<line x1="483.75" y1="150" x2="483.75" y2="158" stroke="#000" stroke-width="1.25" />
<line x1="480.45" y1="150" x2="487.05" y2="150" stroke="#000" stroke-width="1.25" />
<line x1="480.45" y1="158" x2="487.05" y2="158" stroke="#000" stroke-width="1.25" />
<line x1="394.25" y1="242.5" x2="501.75" y2="242.5" stroke="#999" stroke-width="0.9" />
<text x="388.2" y="15.8" font-size="8.8" text-anchor="end" font-weight="normal" fill="#000" >30</text>
<text x="388.2" y="92.4" font-size="8.8" text-anchor="end" font-weight="normal" fill="#000" >20</text>
<text x="390.2" y="169.1" font-size="8.8" text-anchor="end" font-weight="normal" fill="#000" >10</text>
<text x="389.6" y="244.1" font-size="8.8" text-anchor="end" font-weight="normal" fill="#000" >0</text>
<line x1="392.25" y1="242.5" x2="394.25" y2="242.5" stroke="#999" stroke-width="0.7" />
<line x1="392.25" y1="204.1" x2="394.25" y2="204.1" stroke="#999" stroke-width="0.7" />
<line x1="392.25" y1="165.7" x2="394.25" y2="165.7" stroke="#999" stroke-width="0.7" />
<line x1="392.25" y1="127.30000000000001" x2="394.25" y2="127.30000000000001" stroke="#999" stroke-width="0.7" />
<line x1="392.25" y1="88.9" x2="394.25" y2="88.9" stroke="#999" stroke-width="0.7" />
<line x1="392.25" y1="50.5" x2="394.25" y2="50.5" stroke="#999" stroke-width="0.7" />
<line x1="392.25" y1="12.100000000000023" x2="394.25" y2="12.100000000000023" stroke="#999" stroke-width="0.7" />
<text transform="translate(373.3,122.5) rotate(-90)" font-size="13" text-anchor="middle" font-weight="normal">% PI<tspan font-size="52%" dy="-0.62em">+</tspan><tspan dy="0.322em"> cells</tspan></text>
<line x1="448.75" y1="49.5" x2="483" y2="49.5" stroke="#333" stroke-width="0.9" />
<text x="465.35" y="55.09" font-size="20.5" text-anchor="middle" font-weight="normal" fill="#000" letter-spacing="0.7" stroke="#000" stroke-width="0.35">**</text>
<text x="392" y="257.3" font-size="11.3" text-anchor="end" font-weight="normal" fill="#000" >7β–OH-CH</text>
<text x="390.6" y="272.3" font-size="11.3" text-anchor="end" font-weight="normal" fill="#000" >rCX<tspan font-size="58%" dy="0.62em">3</tspan><tspan dy="-0.36em">CL1</tspan></text>
<text x="412" y="257.52" font-size="15" text-anchor="middle" font-weight="bold" fill="#000" >-</text>
<text x="448.2" y="258.96" font-size="16" text-anchor="middle" font-weight="normal" fill="#000" >+</text>
<text x="483.75" y="258.96" font-size="16" text-anchor="middle" font-weight="normal" fill="#000" >+</text>
<text x="412" y="271.93" font-size="15" text-anchor="middle" font-weight="bold" fill="#000" >-</text>
<text x="448.2" y="271.93" font-size="15" text-anchor="middle" font-weight="bold" fill="#000" >-</text>
<text x="483.75" y="273.56" font-size="16" text-anchor="middle" font-weight="normal" fill="#000" >+</text>
<text x="5.5" y="308.7" font-size="16" text-anchor="start" font-weight="bold" fill="#000" >D</text>
<line x1="41.1" y1="306" x2="244.5" y2="306" stroke="#888" stroke-width="0.8" />
<line x1="244.5" y1="306" x2="244.5" y2="451" stroke="#888" stroke-width="0.8" />
<line x1="41.1" y1="306" x2="41.1" y2="451" stroke="#444" stroke-width="1.1" />
<line x1="41.1" y1="448" x2="244.5" y2="448" stroke="#444" stroke-width="1.1" />
<line x1="37.9" y1="448.0" x2="41.1" y2="448.0" stroke="#777" stroke-width="0.8" />
<line x1="37.9" y1="401.1" x2="41.1" y2="401.1" stroke="#777" stroke-width="0.8" />
<line x1="37.9" y1="354.20000000000005" x2="41.1" y2="354.20000000000005" stroke="#777" stroke-width="0.8" />
<line x1="37.9" y1="307.3" x2="41.1" y2="307.3" stroke="#777" stroke-width="0.8" />
<text x="34.5" y="311.3" font-size="8.8" text-anchor="end" font-weight="normal" fill="#000" >60</text>
<text x="34.2" y="357.1" font-size="8.8" text-anchor="end" font-weight="normal" fill="#000" >40</text>
<text x="34.3" y="404.4" font-size="8.8" text-anchor="end" font-weight="normal" fill="#000" >20</text>
<text x="35" y="452.9" font-size="8.8" text-anchor="end" font-weight="normal" fill="#000" >0</text>
<polyline points="69.5,329.25 121.75,335.75 144.5,396.75 219.5,441.75" fill="none" stroke="#000" stroke-width="1.3"/>
<line x1="69.5" y1="310.5" x2="69.5" y2="348" stroke="#000" stroke-width="1.1" />
<line x1="65.7" y1="310.5" x2="73.3" y2="310.5" stroke="#000" stroke-width="1.1" />
<line x1="65.7" y1="348" x2="73.3" y2="348" stroke="#000" stroke-width="1.1" />
<circle cx="69.5" cy="329.25" r="2.4" fill="#000"/>
<line x1="121.75" y1="323.75" x2="121.75" y2="347.5" stroke="#000" stroke-width="1.1" />
<line x1="117.95" y1="323.75" x2="125.55" y2="323.75" stroke="#000" stroke-width="1.1" />
<line x1="117.95" y1="347.5" x2="125.55" y2="347.5" stroke="#000" stroke-width="1.1" />
<circle cx="121.75" cy="335.75" r="2.4" fill="#000"/>
<line x1="144.5" y1="387" x2="144.5" y2="405.5" stroke="#000" stroke-width="1.1" />
<line x1="140.7" y1="387" x2="148.3" y2="387" stroke="#000" stroke-width="1.1" />
<line x1="140.7" y1="405.5" x2="148.3" y2="405.5" stroke="#000" stroke-width="1.1" />
<circle cx="144.5" cy="396.75" r="2.4" fill="#000"/>
<line x1="219.5" y1="435.5" x2="219.5" y2="448" stroke="#000" stroke-width="1.1" />
<line x1="215.7" y1="435.5" x2="223.3" y2="435.5" stroke="#000" stroke-width="1.1" />
<line x1="215.7" y1="448" x2="223.3" y2="448" stroke="#000" stroke-width="1.1" />
<circle cx="219.5" cy="441.75" r="2.4" fill="#000"/>
<line x1="69.5" y1="448" x2="69.5" y2="451" stroke="#555" stroke-width="0.8" />
<line x1="144.5" y1="448" x2="144.5" y2="451" stroke="#555" stroke-width="0.8" />
<line x1="219.5" y1="448" x2="219.5" y2="451" stroke="#555" stroke-width="0.8" />
<text x="69" y="462.6" font-size="10.6" text-anchor="middle" font-weight="normal" fill="#000" >1</text>
<text x="144.6" y="462.8" font-size="10.6" text-anchor="middle" font-weight="normal" fill="#000" >10</text>
<text x="220.3" y="462.8" font-size="10.6" text-anchor="middle" font-weight="normal" fill="#000" >100</text>
<text transform="translate(19,377) rotate(-90)" font-size="13" text-anchor="middle" font-weight="normal">% PI<tspan font-size="52%" dy="-0.62em">+</tspan><tspan dy="0.322em"> cells</tspan></text>
<text x="66.25" y="481.25" font-size="13" text-anchor="start" font-weight="normal" fill="#000" >CX<tspan font-size="58%" dy="0.62em">3</tspan><tspan dy="-0.36em">CL1</tspan> (nM, Log scale)</text>
<text x="267.5" y="312" font-size="16" text-anchor="start" font-weight="bold" fill="#000" >E</text>
<line x1="305" y1="304.6" x2="503" y2="304.6" stroke="#888" stroke-width="0.8" />
<line x1="503" y1="304.6" x2="503" y2="518.9" stroke="#888" stroke-width="0.8" />
<rect x="309.25" y="512" width="30.75" height="4.399999999999977" fill="#808080" stroke="#111" stroke-width="1" />
<rect x="349.25" y="483.75" width="30.75" height="32.64999999999998" fill="#808080" stroke="#111" stroke-width="1" />
<rect x="388.75" y="356.5" width="30.75" height="159.89999999999998" fill="#808080" stroke="#111" stroke-width="1" />
<rect x="428.25" y="430" width="31.0" height="86.39999999999998" fill="#808080" stroke="#111" stroke-width="1" />
<rect x="467.5" y="385.5" width="30.75" height="130.89999999999998" fill="#808080" stroke="#111" stroke-width="1" />
<line x1="324.6" y1="510.9" x2="324.6" y2="513" stroke="#000" stroke-width="0.9" />
<line x1="321.40000000000003" y1="510.9" x2="327.8" y2="510.9" stroke="#000" stroke-width="0.9" />
<line x1="321.40000000000003" y1="513" x2="327.8" y2="513" stroke="#000" stroke-width="0.9" />
<line x1="364.5" y1="478.75" x2="364.5" y2="489.5" stroke="#000" stroke-width="1" />
<line x1="360.8" y1="478.75" x2="368.2" y2="478.75" stroke="#000" stroke-width="1" />
<line x1="360.8" y1="489.5" x2="368.2" y2="489.5" stroke="#000" stroke-width="1" />
<line x1="403.75" y1="334.25" x2="403.75" y2="378.75" stroke="#000" stroke-width="1" />
<line x1="399.85" y1="334.25" x2="407.65" y2="334.25" stroke="#000" stroke-width="1" />
<line x1="399.85" y1="378.75" x2="407.65" y2="378.75" stroke="#000" stroke-width="1" />
<line x1="443.75" y1="411" x2="443.75" y2="448.25" stroke="#000" stroke-width="1" />
<line x1="439.85" y1="411" x2="447.65" y2="411" stroke="#000" stroke-width="1" />
<line x1="439.85" y1="448.25" x2="447.65" y2="448.25" stroke="#000" stroke-width="1" />
<line x1="483" y1="378.25" x2="483" y2="393" stroke="#000" stroke-width="1" />
<line x1="479.3" y1="378.25" x2="486.7" y2="378.25" stroke="#000" stroke-width="1" />
<line x1="479.3" y1="393" x2="486.7" y2="393" stroke="#000" stroke-width="1" />
<line x1="305" y1="304.6" x2="305" y2="518.9" stroke="#666" stroke-width="1" />
<line x1="305" y1="516.4" x2="503" y2="516.4" stroke="#666" stroke-width="1" />
<line x1="302" y1="516.4" x2="305" y2="516.4" stroke="#666" stroke-width="0.8" />
<text x="298.8" y="519.5" font-size="8.6" text-anchor="end" font-weight="normal" fill="#000" >0</text>
<line x1="302" y1="474.03999999999996" x2="305" y2="474.03999999999996" stroke="#666" stroke-width="0.8" />
<text x="298.8" y="477.14" font-size="8.6" text-anchor="end" font-weight="normal" fill="#000" >20</text>
<line x1="302" y1="431.67999999999995" x2="305" y2="431.67999999999995" stroke="#666" stroke-width="0.8" />
<text x="298.8" y="434.78" font-size="8.6" text-anchor="end" font-weight="normal" fill="#000" >40</text>
<line x1="302" y1="389.32" x2="305" y2="389.32" stroke="#666" stroke-width="0.8" />
<text x="298.8" y="392.42" font-size="8.6" text-anchor="end" font-weight="normal" fill="#000" >60</text>
<line x1="302" y1="346.96" x2="305" y2="346.96" stroke="#666" stroke-width="0.8" />
<text x="298.8" y="350.06" font-size="8.6" text-anchor="end" font-weight="normal" fill="#000" >80</text>
<line x1="302" y1="304.6" x2="305" y2="304.6" stroke="#666" stroke-width="0.8" />
<text x="298.8" y="307.70000000000005" font-size="8.6" text-anchor="end" font-weight="normal" fill="#000" >100</text>
<line x1="345" y1="516.4" x2="345" y2="518.9" stroke="#aaa" stroke-width="0.8" />
<line x1="384.25" y1="516.4" x2="384.25" y2="518.9" stroke="#aaa" stroke-width="0.8" />
<line x1="424" y1="516.4" x2="424" y2="518.9" stroke="#aaa" stroke-width="0.8" />
<line x1="463.5" y1="516.4" x2="463.5" y2="518.9" stroke="#aaa" stroke-width="0.8" />
<text transform="translate(281.8,409.7) rotate(-90)" font-size="13" text-anchor="middle" font-weight="normal">% PI<tspan font-size="52%" dy="-0.62em">+</tspan><tspan dy="0.322em"> cells</tspan></text>
<line x1="403" y1="317" x2="483" y2="317" stroke="#222" stroke-width="0.9" />
<text x="445" y="314.5" font-size="10" text-anchor="middle" font-weight="normal" fill="#000" >NS</text>
<line x1="403" y1="328.25" x2="442.5" y2="328.25" stroke="#222" stroke-width="0.9" />
<text x="423" y="334.09" font-size="20.5" text-anchor="middle" font-weight="normal" fill="#000"  stroke="#000" stroke-width="0.35">*</text>
<line x1="443" y1="368.25" x2="483" y2="368.25" stroke="#222" stroke-width="0.9" />
<text x="461.35" y="373.09" font-size="20.5" text-anchor="middle" font-weight="normal" fill="#000" letter-spacing="0.7" stroke="#000" stroke-width="0.35">***</text>
<line x1="331.75" y1="466.75" x2="363.25" y2="466.75" stroke="#222" stroke-width="0.9" />
<text x="347.5" y="472.09" font-size="20.5" text-anchor="middle" font-weight="normal" fill="#000"  stroke="#000" stroke-width="0.35">*</text>
<text x="299.5" y="533.25" font-size="11" text-anchor="end" font-weight="normal" fill="#000" >FCS</text>
<text x="299.5" y="547.5" font-size="11" text-anchor="end" font-weight="normal" fill="#000" >PTx</text>
<text x="299.5" y="566.2" font-size="11" text-anchor="end" font-weight="normal" fill="#000" >rCX<tspan font-size="58%" dy="0.62em">3</tspan><tspan dy="-0.36em">CL1</tspan></text>
<text x="324.5" y="535.56" font-size="16" text-anchor="middle" font-weight="normal" fill="#000" >+</text>
<text x="364.5" y="535.56" font-size="16" text-anchor="middle" font-weight="normal" fill="#000" >+</text>
<text x="404.25" y="534.33" font-size="15" text-anchor="middle" font-weight="bold" fill="#000" >-</text>
<text x="443" y="534.33" font-size="15" text-anchor="middle" font-weight="bold" fill="#000" >-</text>
<text x="482.5" y="534.33" font-size="15" text-anchor="middle" font-weight="bold" fill="#000" >-</text>
<text x="324.5" y="551.42" font-size="15" text-anchor="middle" font-weight="bold" fill="#000" >-</text>
<text x="364.5" y="552.66" font-size="16" text-anchor="middle" font-weight="normal" fill="#000" >+</text>
<text x="404.25" y="551.42" font-size="15" text-anchor="middle" font-weight="bold" fill="#000" >-</text>
<text x="443" y="551.42" font-size="15" text-anchor="middle" font-weight="bold" fill="#000" >-</text>
<text x="482.5" y="552.66" font-size="16" text-anchor="middle" font-weight="normal" fill="#000" >+</text>
<text x="324.5" y="566.12" font-size="15" text-anchor="middle" font-weight="bold" fill="#000" >-</text>
<text x="364.5" y="566.12" font-size="15" text-anchor="middle" font-weight="bold" fill="#000" >-</text>
<text x="404.25" y="566.12" font-size="15" text-anchor="middle" font-weight="bold" fill="#000" >-</text>
<text x="443" y="567.36" font-size="16" text-anchor="middle" font-weight="normal" fill="#000" >+</text>
<text x="482.5" y="567.36" font-size="16" text-anchor="middle" font-weight="normal" fill="#000" >+</text>
<text x="6.25" y="598.75" font-size="16" text-anchor="start" font-weight="bold" fill="#000" >F</text>
<path d="M63.2 605.6h0.8v0.8h-0.8zM56.3 604.9h0.8v0.8h-0.8zM68.3 602.9h0.8v0.8h-0.8zM46.6 601.1h0.8v0.8h-0.8zM56.0 601.2h0.8v0.8h-0.8zM64.3 601.6h0.8v0.8h-0.8zM77.4 604.5h0.8v0.8h-0.8zM53.1 603.0h0.8v0.8h-0.8zM71.3 604.9h0.8v0.8h-0.8zM55.0 606.0h0.8v0.8h-0.8zM58.4 608.6h0.8v0.8h-0.8zM58.0 604.9h0.8v0.8h-0.8zM65.1 602.4h0.8v0.8h-0.8zM60.5 606.1h0.8v0.8h-0.8zM64.7 603.3h0.8v0.8h-0.8zM64.4 607.4h0.8v0.8h-0.8zM67.5 604.5h0.8v0.8h-0.8zM63.6 599.9h0.8v0.8h-0.8zM62.4 602.4h0.8v0.8h-0.8zM66.2 602.0h0.8v0.8h-0.8zM64.4 601.1h0.8v0.8h-0.8zM67.3 601.7h0.8v0.8h-0.8zM61.3 604.8h0.8v0.8h-0.8zM59.4 603.6h0.8v0.8h-0.8zM68.3 607.4h0.8v0.8h-0.8zM49.9 601.7h0.8v0.8h-0.8zM65.8 605.6h0.8v0.8h-0.8zM58.5 603.8h0.8v0.8h-0.8zM60.3 608.7h0.8v0.8h-0.8zM60.2 600.8h0.8v0.8h-0.8zM51.5 600.8h0.8v0.8h-0.8zM69.9 602.5h0.8v0.8h-0.8zM74.0 604.7h0.8v0.8h-0.8zM64.0 604.9h0.8v0.8h-0.8zM66.6 605.5h0.8v0.8h-0.8zM55.2 602.3h0.8v0.8h-0.8zM58.0 603.8h0.8v0.8h-0.8zM59.9 600.7h0.8v0.8h-0.8zM57.0 607.6h0.8v0.8h-0.8zM75.1 601.3h0.8v0.8h-0.8zM63.9 603.4h0.8v0.8h-0.8zM56.1 605.2h0.8v0.8h-0.8zM61.1 607.3h0.8v0.8h-0.8zM64.4 602.7h0.8v0.8h-0.8zM44.5 603.6h0.8v0.8h-0.8zM66.9 601.8h0.8v0.8h-0.8zM67.2 604.9h0.8v0.8h-0.8zM50.2 603.3h0.8v0.8h-0.8zM63.6 605.2h0.8v0.8h-0.8zM62.5 603.4h0.8v0.8h-0.8zM59.3 602.9h0.8v0.8h-0.8zM61.5 601.1h0.8v0.8h-0.8zM65.6 602.7h0.8v0.8h-0.8zM64.9 602.3h0.8v0.8h-0.8zM64.1 603.7h0.8v0.8h-0.8zM67.2 604.4h0.8v0.8h-0.8zM67.5 603.0h0.8v0.8h-0.8zM61.1 602.9h0.8v0.8h-0.8zM53.4 603.4h0.8v0.8h-0.8zM68.5 605.1h0.8v0.8h-0.8zM56.0 604.3h0.8v0.8h-0.8zM66.3 600.3h0.8v0.8h-0.8zM63.7 604.2h0.8v0.8h-0.8zM66.3 604.0h0.8v0.8h-0.8zM50.3 599.1h0.8v0.8h-0.8zM74.2 602.4h0.8v0.8h-0.8zM69.7 606.2h0.8v0.8h-0.8zM62.1 600.9h0.8v0.8h-0.8zM70.3 603.3h0.8v0.8h-0.8zM64.8 604.5h0.8v0.8h-0.8zM67.6 605.7h0.8v0.8h-0.8zM52.4 600.5h0.8v0.8h-0.8zM62.4 603.5h0.8v0.8h-0.8zM66.5 603.1h0.8v0.8h-0.8zM60.3 608.1h0.8v0.8h-0.8zM70.3 606.0h0.8v0.8h-0.8zM68.2 601.6h0.8v0.8h-0.8zM61.0 603.4h0.8v0.8h-0.8zM54.5 601.7h0.8v0.8h-0.8zM62.5 600.7h0.8v0.8h-0.8zM65.0 604.5h0.8v0.8h-0.8zM60.0 602.8h0.8v0.8h-0.8zM65.4 604.5h0.8v0.8h-0.8zM63.8 600.7h0.8v0.8h-0.8zM51.1 608.3h0.8v0.8h-0.8zM57.3 602.7h0.8v0.8h-0.8zM49.8 601.9h0.8v0.8h-0.8zM56.8 605.4h0.8v0.8h-0.8zM44.5 600.6h0.8v0.8h-0.8zM58.9 602.4h0.8v0.8h-0.8zM56.5 602.6h0.8v0.8h-0.8zM51.4 604.3h0.8v0.8h-0.8zM69.2 603.7h0.8v0.8h-0.8zM58.1 606.4h0.8v0.8h-0.8zM64.6 601.1h0.8v0.8h-0.8zM57.8 602.2h0.8v0.8h-0.8zM61.2 606.2h0.8v0.8h-0.8zM57.0 603.2h0.8v0.8h-0.8zM62.2 600.8h0.8v0.8h-0.8zM58.4 604.9h0.8v0.8h-0.8zM68.8 599.1h0.8v0.8h-0.8zM66.0 602.8h0.8v0.8h-0.8zM69.8 604.8h0.8v0.8h-0.8zM74.1 604.0h0.8v0.8h-0.8zM59.0 601.7h0.8v0.8h-0.8zM52.3 604.9h0.8v0.8h-0.8zM64.8 605.3h0.8v0.8h-0.8zM63.8 600.1h0.8v0.8h-0.8zM58.9 603.0h0.8v0.8h-0.8zM62.5 605.2h0.8v0.8h-0.8zM70.6 604.0h0.8v0.8h-0.8zM48.2 601.4h0.8v0.8h-0.8zM47.8 602.0h0.8v0.8h-0.8zM53.8 604.2h0.8v0.8h-0.8zM60.1 606.0h0.8v0.8h-0.8zM68.4 602.3h0.8v0.8h-0.8zM67.6 603.4h0.8v0.8h-0.8zM64.4 606.5h0.8v0.8h-0.8zM54.1 603.5h0.8v0.8h-0.8zM71.4 601.6h0.8v0.8h-0.8zM62.9 603.8h0.8v0.8h-0.8zM58.8 600.6h0.8v0.8h-0.8zM57.1 601.4h0.8v0.8h-0.8zM68.4 603.9h0.8v0.8h-0.8zM66.0 600.7h0.8v0.8h-0.8zM64.7 603.8h0.8v0.8h-0.8zM68.2 601.8h0.8v0.8h-0.8zM66.7 606.5h0.8v0.8h-0.8zM73.1 601.2h0.8v0.8h-0.8zM54.3 600.3h0.8v0.8h-0.8zM67.7 604.7h0.8v0.8h-0.8zM63.7 601.5h0.8v0.8h-0.8zM69.6 607.0h0.8v0.8h-0.8zM61.3 603.2h0.8v0.8h-0.8zM69.1 604.5h0.8v0.8h-0.8zM70.1 602.4h0.8v0.8h-0.8zM63.7 602.7h0.8v0.8h-0.8zM57.8 602.9h0.8v0.8h-0.8zM59.7 604.7h0.8v0.8h-0.8zM59.6 603.7h0.8v0.8h-0.8zM56.3 600.8h0.8v0.8h-0.8zM70.7 601.1h0.8v0.8h-0.8zM73.2 605.4h0.8v0.8h-0.8zM46.8 602.3h0.8v0.8h-0.8zM58.8 603.6h0.8v0.8h-0.8zM60.4 602.2h0.8v0.8h-0.8zM69.6 603.1h0.8v0.8h-0.8zM67.7 601.8h0.8v0.8h-0.8zM57.1 606.6h0.8v0.8h-0.8zM59.7 601.1h0.8v0.8h-0.8zM60.4 605.9h0.8v0.8h-0.8zM60.5 601.9h0.8v0.8h-0.8zM65.6 605.6h0.8v0.8h-0.8zM60.2 602.8h0.8v0.8h-0.8zM59.2 609.6h0.8v0.8h-0.8zM60.3 607.4h0.8v0.8h-0.8zM60.6 604.4h0.8v0.8h-0.8zM48.4 604.1h0.8v0.8h-0.8zM61.8 602.8h0.8v0.8h-0.8zM58.9 600.5h0.8v0.8h-0.8zM51.9 604.0h0.8v0.8h-0.8zM57.4 603.4h0.8v0.8h-0.8zM60.4 602.4h0.8v0.8h-0.8zM56.8 607.8h0.8v0.8h-0.8zM54.4 602.5h0.8v0.8h-0.8zM59.6 600.9h0.8v0.8h-0.8zM55.4 605.5h0.8v0.8h-0.8zM67.5 603.7h0.8v0.8h-0.8zM82.3 605.0h0.8v0.8h-0.8zM69.4 601.5h0.8v0.8h-0.8zM68.5 607.2h0.8v0.8h-0.8zM59.1 607.6h0.8v0.8h-0.8zM56.3 601.0h0.8v0.8h-0.8zM61.2 601.7h0.8v0.8h-0.8zM65.6 600.9h0.8v0.8h-0.8zM62.1 599.1h0.8v0.8h-0.8zM61.3 605.9h0.8v0.8h-0.8zM59.8 604.2h0.8v0.8h-0.8zM68.5 600.9h0.8v0.8h-0.8zM53.4 603.8h0.8v0.8h-0.8zM63.3 602.9h0.8v0.8h-0.8zM55.3 606.3h0.8v0.8h-0.8zM54.1 603.0h0.8v0.8h-0.8zM61.2 605.1h0.8v0.8h-0.8zM58.6 601.7h0.8v0.8h-0.8zM74.4 601.4h0.8v0.8h-0.8zM66.6 603.1h0.8v0.8h-0.8zM58.5 603.5h0.8v0.8h-0.8zM59.9 604.2h0.8v0.8h-0.8zM45.2 603.7h0.8v0.8h-0.8zM62.0 601.3h0.8v0.8h-0.8zM59.0 608.8h0.8v0.8h-0.8zM73.4 604.7h0.8v0.8h-0.8zM63.0 602.8h0.8v0.8h-0.8zM70.4 602.3h0.8v0.8h-0.8zM56.3 605.1h0.8v0.8h-0.8zM55.3 601.8h0.8v0.8h-0.8zM70.8 599.7h0.8v0.8h-0.8zM61.1 603.8h0.8v0.8h-0.8zM63.2 600.2h0.8v0.8h-0.8zM60.1 602.8h0.8v0.8h-0.8zM73.9 605.5h0.8v0.8h-0.8zM56.7 605.5h0.8v0.8h-0.8zM65.7 603.2h0.8v0.8h-0.8zM60.0 602.9h0.8v0.8h-0.8zM51.6 602.3h0.8v0.8h-0.8zM67.5 606.6h0.8v0.8h-0.8zM73.4 602.4h0.8v0.8h-0.8zM65.5 598.0h0.8v0.8h-0.8zM59.8 600.7h0.8v0.8h-0.8zM66.8 599.7h0.8v0.8h-0.8zM54.8 601.1h0.8v0.8h-0.8zM64.1 605.3h0.8v0.8h-0.8zM55.6 607.6h0.8v0.8h-0.8zM62.6 601.6h0.8v0.8h-0.8zM63.8 603.4h0.8v0.8h-0.8zM66.9 604.2h0.8v0.8h-0.8zM75.6 605.9h0.8v0.8h-0.8zM57.4 605.3h0.8v0.8h-0.8zM66.4 601.2h0.8v0.8h-0.8zM56.7 601.8h0.8v0.8h-0.8zM45.7 605.2h0.8v0.8h-0.8zM60.1 606.3h0.8v0.8h-0.8zM57.9 603.7h0.8v0.8h-0.8zM66.2 605.6h0.8v0.8h-0.8zM63.6 601.1h0.8v0.8h-0.8zM75.7 605.2h0.8v0.8h-0.8zM70.3 607.0h0.8v0.8h-0.8zM70.5 604.3h0.8v0.8h-0.8zM64.6 604.9h0.8v0.8h-0.8zM51.9 605.5h0.8v0.8h-0.8zM55.3 604.6h0.8v0.8h-0.8zM55.1 605.2h0.8v0.8h-0.8zM58.4 609.1h0.8v0.8h-0.8zM62.8 604.6h0.8v0.8h-0.8zM55.7 603.0h0.8v0.8h-0.8zM61.2 602.9h0.8v0.8h-0.8zM58.7 601.6h0.8v0.8h-0.8zM66.4 602.6h0.8v0.8h-0.8zM56.3 604.4h0.8v0.8h-0.8zM56.3 603.2h0.8v0.8h-0.8zM58.3 601.5h0.8v0.8h-0.8zM60.1 601.7h0.8v0.8h-0.8zM53.5 604.4h0.8v0.8h-0.8zM59.6 600.3h0.8v0.8h-0.8zM59.0 604.0h0.8v0.8h-0.8zM64.3 604.3h0.8v0.8h-0.8zM63.2 604.8h0.8v0.8h-0.8zM58.4 601.8h0.8v0.8h-0.8zM65.5 602.5h0.8v0.8h-0.8zM61.6 605.0h0.8v0.8h-0.8zM67.6 606.1h0.8v0.8h-0.8zM57.1 602.8h0.8v0.8h-0.8zM65.1 600.2h0.8v0.8h-0.8zM53.5 605.0h0.8v0.8h-0.8zM57.6 601.5h0.8v0.8h-0.8zM66.7 604.6h0.8v0.8h-0.8zM67.4 602.7h0.8v0.8h-0.8zM59.7 602.8h0.8v0.8h-0.8zM63.5 598.9h0.8v0.8h-0.8zM57.1 605.2h0.8v0.8h-0.8zM56.6 603.4h0.8v0.8h-0.8zM62.4 604.7h0.8v0.8h-0.8zM58.5 601.0h0.8v0.8h-0.8zM77.5 601.6h0.8v0.8h-0.8zM72.5 599.4h0.8v0.8h-0.8zM62.3 603.1h0.8v0.8h-0.8zM73.7 607.8h0.8v0.8h-0.8zM67.8 601.1h0.8v0.8h-0.8zM56.4 601.9h0.8v0.8h-0.8zM58.3 604.1h0.8v0.8h-0.8zM56.5 603.0h0.8v0.8h-0.8zM71.0 606.6h0.8v0.8h-0.8zM49.7 601.6h0.8v0.8h-0.8zM59.2 606.4h0.8v0.8h-0.8zM59.4 607.8h0.8v0.8h-0.8zM63.9 606.7h0.8v0.8h-0.8zM56.1 602.9h0.8v0.8h-0.8zM68.1 604.7h0.8v0.8h-0.8zM49.6 603.1h0.8v0.8h-0.8zM62.7 604.9h0.8v0.8h-0.8zM57.5 607.5h0.8v0.8h-0.8zM62.5 606.7h0.8v0.8h-0.8zM64.1 603.6h0.8v0.8h-0.8zM59.5 600.9h0.8v0.8h-0.8zM67.1 605.1h0.8v0.8h-0.8zM67.5 602.6h0.8v0.8h-0.8zM55.1 602.8h0.8v0.8h-0.8zM59.6 603.5h0.8v0.8h-0.8zM67.8 601.4h0.8v0.8h-0.8zM58.5 605.1h0.8v0.8h-0.8zM67.3 608.3h0.8v0.8h-0.8zM64.9 601.6h0.8v0.8h-0.8zM54.9 601.9h0.8v0.8h-0.8zM62.0 604.1h0.8v0.8h-0.8zM61.1 602.1h0.8v0.8h-0.8zM60.4 603.4h0.8v0.8h-0.8zM65.4 603.6h0.8v0.8h-0.8zM56.4 601.0h0.8v0.8h-0.8zM71.0 603.1h0.8v0.8h-0.8zM60.5 603.5h0.8v0.8h-0.8zM68.8 602.7h0.8v0.8h-0.8zM62.7 603.0h0.8v0.8h-0.8zM65.3 601.2h0.8v0.8h-0.8zM62.9 605.8h0.8v0.8h-0.8zM69.1 604.7h0.8v0.8h-0.8zM63.5 607.0h0.8v0.8h-0.8zM66.1 606.5h0.8v0.8h-0.8zM53.9 601.2h0.8v0.8h-0.8zM66.7 602.8h0.8v0.8h-0.8zM58.8 601.4h0.8v0.8h-0.8zM71.0 600.7h0.8v0.8h-0.8zM62.3 600.4h0.8v0.8h-0.8zM60.5 608.5h0.8v0.8h-0.8zM77.1 602.1h0.8v0.8h-0.8zM55.1 607.2h0.8v0.8h-0.8zM56.1 599.6h0.8v0.8h-0.8zM63.8 601.1h0.8v0.8h-0.8zM52.3 606.2h0.8v0.8h-0.8zM56.9 601.2h0.8v0.8h-0.8zM62.7 603.1h0.8v0.8h-0.8zM68.7 603.6h0.8v0.8h-0.8zM71.7 605.9h0.8v0.8h-0.8zM72.9 605.8h0.8v0.8h-0.8zM62.0 604.7h0.8v0.8h-0.8zM61.7 600.0h0.8v0.8h-0.8zM54.1 605.3h0.8v0.8h-0.8zM46.5 601.9h0.8v0.8h-0.8zM53.4 603.5h0.8v0.8h-0.8zM55.0 604.2h0.8v0.8h-0.8zM60.3 602.5h0.8v0.8h-0.8zM56.2 598.7h0.8v0.8h-0.8zM62.1 600.6h0.8v0.8h-0.8zM59.7 604.4h0.8v0.8h-0.8zM68.3 604.9h0.8v0.8h-0.8zM71.0 600.2h0.8v0.8h-0.8zM65.9 606.9h0.8v0.8h-0.8zM64.1 601.0h0.8v0.8h-0.8zM64.1 602.3h0.8v0.8h-0.8zM57.5 605.9h0.8v0.8h-0.8zM60.5 601.0h0.8v0.8h-0.8zM57.3 607.9h0.8v0.8h-0.8zM56.2 605.1h0.8v0.8h-0.8zM62.7 606.1h0.8v0.8h-0.8zM59.8 601.4h0.8v0.8h-0.8zM57.5 601.3h0.8v0.8h-0.8zM78.1 603.6h0.8v0.8h-0.8zM59.6 606.3h0.8v0.8h-0.8zM65.8 603.0h0.8v0.8h-0.8zM65.6 604.0h0.8v0.8h-0.8zM68.8 607.0h0.8v0.8h-0.8zM59.6 603.5h0.8v0.8h-0.8zM60.4 606.2h0.8v0.8h-0.8zM64.0 605.2h0.8v0.8h-0.8zM67.3 602.0h0.8v0.8h-0.8zM62.4 606.6h0.8v0.8h-0.8zM67.5 605.2h0.8v0.8h-0.8zM59.8 602.7h0.8v0.8h-0.8zM56.2 603.0h0.8v0.8h-0.8zM61.2 600.3h0.8v0.8h-0.8zM69.0 601.7h0.8v0.8h-0.8zM63.2 604.8h0.8v0.8h-0.8zM58.1 599.5h0.8v0.8h-0.8zM67.7 604.3h0.8v0.8h-0.8zM60.0 606.1h0.8v0.8h-0.8zM67.3 601.3h0.8v0.8h-0.8zM61.1 599.6h0.8v0.8h-0.8zM59.9 606.7h0.8v0.8h-0.8zM56.3 605.4h0.8v0.8h-0.8zM52.0 603.0h0.8v0.8h-0.8zM67.6 607.2h0.8v0.8h-0.8zM64.5 605.1h0.8v0.8h-0.8zM72.5 597.9h0.8v0.8h-0.8zM50.8 607.9h0.8v0.8h-0.8zM77.3 604.6h0.8v0.8h-0.8zM62.0 604.1h0.8v0.8h-0.8zM61.8 602.1h0.8v0.8h-0.8zM61.5 603.2h0.8v0.8h-0.8zM65.9 604.9h0.8v0.8h-0.8zM67.8 604.7h0.8v0.8h-0.8zM55.5 606.7h0.8v0.8h-0.8zM44.7 604.1h0.8v0.8h-0.8zM63.7 602.3h0.8v0.8h-0.8zM73.5 600.9h0.8v0.8h-0.8zM54.2 602.5h0.8v0.8h-0.8zM64.3 605.2h0.8v0.8h-0.8zM62.3 605.0h0.8v0.8h-0.8zM57.2 602.2h0.8v0.8h-0.8zM62.4 600.5h0.8v0.8h-0.8zM62.8 602.6h0.8v0.8h-0.8zM65.9 601.2h0.8v0.8h-0.8zM58.3 602.3h0.8v0.8h-0.8zM59.3 601.3h0.8v0.8h-0.8zM60.0 600.5h0.8v0.8h-0.8zM65.0 604.9h0.8v0.8h-0.8zM61.5 603.1h0.8v0.8h-0.8zM56.0 601.5h0.8v0.8h-0.8zM60.2 601.5h0.8v0.8h-0.8zM54.2 604.0h0.8v0.8h-0.8zM61.5 602.6h0.8v0.8h-0.8zM56.5 603.5h0.8v0.8h-0.8zM57.2 602.6h0.8v0.8h-0.8zM62.8 605.1h0.8v0.8h-0.8zM66.4 602.1h0.8v0.8h-0.8zM69.2 600.8h0.8v0.8h-0.8zM60.5 606.4h0.8v0.8h-0.8zM76.6 603.5h0.8v0.8h-0.8zM59.3 602.7h0.8v0.8h-0.8zM54.0 603.3h0.8v0.8h-0.8zM58.9 601.9h0.8v0.8h-0.8zM69.2 601.6h0.8v0.8h-0.8zM72.3 605.2h0.8v0.8h-0.8zM65.6 602.1h0.8v0.8h-0.8zM58.4 599.1h0.8v0.8h-0.8zM63.3 602.9h0.8v0.8h-0.8zM64.0 602.0h0.8v0.8h-0.8zM64.7 600.1h0.8v0.8h-0.8zM47.8 604.8h0.8v0.8h-0.8zM68.4 596.4h0.8v0.8h-0.8zM69.7 602.6h0.8v0.8h-0.8zM60.6 600.1h0.8v0.8h-0.8zM55.3 605.2h0.8v0.8h-0.8zM57.0 603.5h0.8v0.8h-0.8zM60.6 607.9h0.8v0.8h-0.8zM67.2 600.5h0.8v0.8h-0.8zM58.6 601.0h0.8v0.8h-0.8zM52.9 602.1h0.8v0.8h-0.8zM68.5 603.5h0.8v0.8h-0.8zM65.8 603.1h0.8v0.8h-0.8zM58.9 603.7h0.8v0.8h-0.8zM61.1 607.8h0.8v0.8h-0.8zM72.9 604.1h0.8v0.8h-0.8zM65.4 599.0h0.8v0.8h-0.8zM60.8 608.8h0.8v0.8h-0.8zM56.6 605.4h0.8v0.8h-0.8zM69.3 602.5h0.8v0.8h-0.8zM60.2 602.5h0.8v0.8h-0.8zM66.6 603.5h0.8v0.8h-0.8zM71.0 606.0h0.8v0.8h-0.8zM61.5 609.3h0.8v0.8h-0.8zM59.7 602.2h0.8v0.8h-0.8zM60.1 601.6h0.8v0.8h-0.8zM59.0 603.4h0.8v0.8h-0.8zM67.2 599.9h0.8v0.8h-0.8zM52.8 601.9h0.8v0.8h-0.8zM59.7 604.5h0.8v0.8h-0.8zM56.6 606.9h0.8v0.8h-0.8zM58.3 603.1h0.8v0.8h-0.8zM61.9 606.1h0.8v0.8h-0.8zM63.5 603.5h0.8v0.8h-0.8zM58.2 603.9h0.8v0.8h-0.8zM64.1 602.7h0.8v0.8h-0.8zM61.4 599.4h0.8v0.8h-0.8zM58.3 606.2h0.8v0.8h-0.8zM70.5 603.2h0.8v0.8h-0.8zM48.0 607.8h0.8v0.8h-0.8zM60.5 609.2h0.8v0.8h-0.8zM59.0 605.8h0.8v0.8h-0.8zM57.7 606.6h0.8v0.8h-0.8zM68.8 601.0h0.8v0.8h-0.8zM69.7 609.7h0.8v0.8h-0.8zM60.2 600.8h0.8v0.8h-0.8zM63.3 602.6h0.8v0.8h-0.8zM52.2 601.3h0.8v0.8h-0.8zM63.1 600.1h0.8v0.8h-0.8zM68.4 604.4h0.8v0.8h-0.8zM60.5 606.6h0.8v0.8h-0.8zM55.8 605.1h0.8v0.8h-0.8zM53.1 602.9h0.8v0.8h-0.8zM65.6 602.2h0.8v0.8h-0.8zM60.9 605.0h0.8v0.8h-0.8zM71.1 606.2h0.8v0.8h-0.8zM64.4 602.9h0.8v0.8h-0.8zM52.5 607.5h0.8v0.8h-0.8zM73.3 598.5h0.8v0.8h-0.8zM67.0 603.3h0.8v0.8h-0.8zM66.0 604.1h0.8v0.8h-0.8zM60.4 603.5h0.8v0.8h-0.8zM61.3 606.1h0.8v0.8h-0.8zM59.9 602.3h0.8v0.8h-0.8zM65.7 604.9h0.8v0.8h-0.8zM64.3 604.1h0.8v0.8h-0.8zM70.8 605.8h0.8v0.8h-0.8zM62.9 603.0h0.8v0.8h-0.8zM65.7 599.3h0.8v0.8h-0.8zM58.3 602.0h0.8v0.8h-0.8zM62.6 602.6h0.8v0.8h-0.8zM77.0 604.9h0.8v0.8h-0.8zM64.1 608.5h0.8v0.8h-0.8zM61.6 602.8h0.8v0.8h-0.8zM69.3 605.2h0.8v0.8h-0.8zM67.4 606.1h0.8v0.8h-0.8zM59.3 602.1h0.8v0.8h-0.8zM57.1 603.8h0.8v0.8h-0.8zM67.8 601.0h0.8v0.8h-0.8zM58.2 600.6h0.8v0.8h-0.8zM74.1 605.1h0.8v0.8h-0.8zM62.9 600.8h0.8v0.8h-0.8zM55.1 602.2h0.8v0.8h-0.8zM61.8 600.7h0.8v0.8h-0.8zM60.1 606.3h0.8v0.8h-0.8zM61.6 603.7h0.8v0.8h-0.8zM48.5 603.1h0.8v0.8h-0.8zM60.6 602.0h0.8v0.8h-0.8zM52.9 603.5h0.8v0.8h-0.8zM55.2 602.4h0.8v0.8h-0.8zM51.6 603.5h0.8v0.8h-0.8zM67.2 601.5h0.8v0.8h-0.8zM63.6 600.1h0.8v0.8h-0.8zM65.2 604.6h0.8v0.8h-0.8zM59.1 605.5h0.8v0.8h-0.8zM56.1 603.7h0.8v0.8h-0.8zM72.1 603.3h0.8v0.8h-0.8zM54.5 606.2h0.8v0.8h-0.8zM64.9 602.8h0.8v0.8h-0.8zM50.2 599.5h0.8v0.8h-0.8zM52.1 607.0h0.8v0.8h-0.8zM63.4 601.6h0.8v0.8h-0.8zM68.8 606.7h0.8v0.8h-0.8zM56.3 604.7h0.8v0.8h-0.8zM51.3 604.5h0.8v0.8h-0.8zM72.9 600.1h0.8v0.8h-0.8zM61.9 602.1h0.8v0.8h-0.8zM61.0 603.7h0.8v0.8h-0.8zM63.3 605.5h0.8v0.8h-0.8zM64.8 605.8h0.8v0.8h-0.8zM67.9 605.8h0.8v0.8h-0.8zM57.3 604.5h0.8v0.8h-0.8zM59.2 601.7h0.8v0.8h-0.8zM73.8 603.9h0.8v0.8h-0.8zM61.8 598.8h0.8v0.8h-0.8zM60.1 605.3h0.8v0.8h-0.8zM60.3 602.3h0.8v0.8h-0.8zM70.8 602.6h0.8v0.8h-0.8zM59.5 603.3h0.8v0.8h-0.8zM60.1 605.9h0.8v0.8h-0.8zM65.1 603.3h0.8v0.8h-0.8zM59.3 603.0h0.8v0.8h-0.8zM72.1 602.6h0.8v0.8h-0.8zM65.6 599.9h0.8v0.8h-0.8zM63.6 605.0h0.8v0.8h-0.8zM69.5 604.1h0.8v0.8h-0.8zM65.2 604.2h0.8v0.8h-0.8zM68.2 608.0h0.8v0.8h-0.8zM62.8 601.7h0.8v0.8h-0.8zM65.3 603.2h0.8v0.8h-0.8zM65.5 605.2h0.8v0.8h-0.8zM62.5 602.5h0.8v0.8h-0.8zM63.5 600.7h0.8v0.8h-0.8zM63.3 601.5h0.8v0.8h-0.8zM64.4 603.7h0.8v0.8h-0.8zM60.2 600.8h0.8v0.8h-0.8zM61.9 602.0h0.8v0.8h-0.8zM60.7 605.1h0.8v0.8h-0.8zM67.5 600.5h0.8v0.8h-0.8zM67.4 606.4h0.8v0.8h-0.8zM68.6 604.0h0.8v0.8h-0.8zM61.0 607.4h0.8v0.8h-0.8zM59.6 600.1h0.8v0.8h-0.8zM62.1 604.1h0.8v0.8h-0.8zM55.1 600.9h0.8v0.8h-0.8zM73.9 603.5h0.8v0.8h-0.8zM66.4 602.1h0.8v0.8h-0.8zM52.1 603.3h0.8v0.8h-0.8zM69.9 601.9h0.8v0.8h-0.8zM50.4 603.3h0.8v0.8h-0.8zM59.8 603.6h0.8v0.8h-0.8zM55.1 602.9h0.8v0.8h-0.8zM58.2 605.5h0.8v0.8h-0.8zM62.5 605.4h0.8v0.8h-0.8zM61.3 598.7h0.8v0.8h-0.8zM49.4 604.9h0.8v0.8h-0.8zM67.0 605.4h0.8v0.8h-0.8zM61.1 599.5h0.8v0.8h-0.8zM58.5 604.5h0.8v0.8h-0.8zM70.1 602.6h0.8v0.8h-0.8zM58.1 601.8h0.8v0.8h-0.8zM67.9 605.3h0.8v0.8h-0.8zM50.2 606.4h0.8v0.8h-0.8zM55.8 600.3h0.8v0.8h-0.8zM51.7 602.0h0.8v0.8h-0.8zM76.0 609.0h0.8v0.8h-0.8zM53.8 602.1h0.8v0.8h-0.8zM62.6 604.4h0.8v0.8h-0.8zM58.6 600.0h0.8v0.8h-0.8zM59.0 602.0h0.8v0.8h-0.8zM50.4 604.0h0.8v0.8h-0.8zM52.5 599.8h0.8v0.8h-0.8zM71.0 605.4h0.8v0.8h-0.8zM70.6 603.6h0.8v0.8h-0.8zM59.0 603.4h0.8v0.8h-0.8zM53.1 605.3h0.8v0.8h-0.8zM63.3 602.8h0.8v0.8h-0.8zM49.9 603.5h0.8v0.8h-0.8zM71.7 606.6h0.8v0.8h-0.8zM67.0 602.6h0.8v0.8h-0.8zM62.4 604.7h0.8v0.8h-0.8zM62.8 605.8h0.8v0.8h-0.8zM57.4 598.4h0.8v0.8h-0.8zM46.5 601.7h0.8v0.8h-0.8zM53.0 605.1h0.8v0.8h-0.8zM68.3 603.4h0.8v0.8h-0.8zM64.9 603.6h0.8v0.8h-0.8zM62.7 602.4h0.8v0.8h-0.8zM59.1 606.2h0.8v0.8h-0.8zM59.9 603.4h0.8v0.8h-0.8zM69.0 605.6h0.8v0.8h-0.8zM59.1 604.1h0.8v0.8h-0.8zM55.3 603.9h0.8v0.8h-0.8zM63.5 603.5h0.8v0.8h-0.8zM62.6 604.3h0.8v0.8h-0.8zM45.8 601.9h0.8v0.8h-0.8zM62.0 602.4h0.8v0.8h-0.8zM55.6 603.1h0.8v0.8h-0.8zM71.6 602.8h0.8v0.8h-0.8zM57.5 602.5h0.8v0.8h-0.8zM54.2 604.7h0.8v0.8h-0.8zM55.4 605.7h0.8v0.8h-0.8zM67.2 604.7h0.8v0.8h-0.8zM68.0 603.2h0.8v0.8h-0.8zM50.6 603.5h0.8v0.8h-0.8zM65.6 600.0h0.8v0.8h-0.8zM54.0 606.1h0.8v0.8h-0.8zM64.3 606.5h0.8v0.8h-0.8zM65.7 603.6h0.8v0.8h-0.8zM64.2 605.4h0.8v0.8h-0.8zM61.4 603.0h0.8v0.8h-0.8zM63.5 602.8h0.8v0.8h-0.8zM76.6 601.5h0.8v0.8h-0.8zM52.1 600.8h0.8v0.8h-0.8zM68.1 602.5h0.8v0.8h-0.8zM62.6 603.0h0.8v0.8h-0.8zM63.3 600.2h0.8v0.8h-0.8zM62.1 602.2h0.8v0.8h-0.8zM68.4 604.8h0.8v0.8h-0.8zM53.7 601.5h0.8v0.8h-0.8zM65.1 606.1h0.8v0.8h-0.8zM66.4 603.1h0.8v0.8h-0.8zM68.5 598.1h0.8v0.8h-0.8zM58.2 601.4h0.8v0.8h-0.8zM55.1 604.9h0.8v0.8h-0.8zM63.3 604.1h0.8v0.8h-0.8zM60.8 604.9h0.8v0.8h-0.8zM66.5 602.1h0.8v0.8h-0.8zM67.4 601.3h0.8v0.8h-0.8zM72.6 600.4h0.8v0.8h-0.8zM59.8 601.1h0.8v0.8h-0.8zM61.8 606.5h0.8v0.8h-0.8zM56.9 607.6h0.8v0.8h-0.8zM70.4 604.2h0.8v0.8h-0.8zM57.9 605.6h0.8v0.8h-0.8zM43.7 602.1h0.8v0.8h-0.8zM67.6 603.3h0.8v0.8h-0.8zM77.2 601.7h0.8v0.8h-0.8zM53.2 603.2h0.8v0.8h-0.8zM65.2 607.3h0.8v0.8h-0.8zM50.5 604.0h0.8v0.8h-0.8zM69.5 601.8h0.8v0.8h-0.8zM58.7 600.8h0.8v0.8h-0.8zM66.4 605.3h0.8v0.8h-0.8zM65.3 604.0h0.8v0.8h-0.8zM67.8 603.1h0.8v0.8h-0.8zM66.1 605.3h0.8v0.8h-0.8zM69.8 604.5h0.8v0.8h-0.8zM62.1 605.1h0.8v0.8h-0.8zM51.8 599.7h0.8v0.8h-0.8zM71.8 603.6h0.8v0.8h-0.8zM55.0 602.3h0.8v0.8h-0.8zM60.6 603.7h0.8v0.8h-0.8zM56.8 605.8h0.8v0.8h-0.8zM50.9 610.0h0.8v0.8h-0.8zM54.8 607.4h0.8v0.8h-0.8zM65.8 599.6h0.8v0.8h-0.8zM53.9 603.8h0.8v0.8h-0.8zM63.3 602.5h0.8v0.8h-0.8zM61.7 603.9h0.8v0.8h-0.8zM54.4 603.8h0.8v0.8h-0.8zM75.9 601.8h0.8v0.8h-0.8zM55.2 605.1h0.8v0.8h-0.8zM70.1 605.7h0.8v0.8h-0.8zM57.6 603.4h0.8v0.8h-0.8zM62.9 603.0h0.8v0.8h-0.8zM64.1 605.9h0.8v0.8h-0.8zM65.1 603.4h0.8v0.8h-0.8zM60.3 607.6h0.8v0.8h-0.8zM53.8 608.2h0.8v0.8h-0.8zM66.3 603.6h0.8v0.8h-0.8zM56.9 607.7h0.8v0.8h-0.8zM69.3 605.4h0.8v0.8h-0.8zM74.8 599.2h0.8v0.8h-0.8zM62.2 602.8h0.8v0.8h-0.8zM57.0 603.8h0.8v0.8h-0.8zM65.0 604.6h0.8v0.8h-0.8zM60.7 600.5h0.8v0.8h-0.8zM65.1 604.8h0.8v0.8h-0.8zM75.1 605.4h0.8v0.8h-0.8zM61.7 600.9h0.8v0.8h-0.8zM78.9 601.7h0.8v0.8h-0.8zM62.8 605.2h0.8v0.8h-0.8zM64.8 606.5h0.8v0.8h-0.8zM55.0 602.1h0.8v0.8h-0.8zM62.7 600.7h0.8v0.8h-0.8zM57.7 606.7h0.8v0.8h-0.8zM63.5 603.2h0.8v0.8h-0.8zM57.9 603.7h0.8v0.8h-0.8zM61.4 601.1h0.8v0.8h-0.8zM66.6 600.5h0.8v0.8h-0.8zM69.8 602.6h0.8v0.8h-0.8zM47.0 600.2h0.8v0.8h-0.8zM63.4 601.5h0.8v0.8h-0.8zM73.2 606.4h0.8v0.8h-0.8zM75.1 605.3h0.8v0.8h-0.8zM70.2 602.0h0.8v0.8h-0.8zM69.9 602.4h0.8v0.8h-0.8zM61.3 600.4h0.8v0.8h-0.8zM62.0 604.4h0.8v0.8h-0.8zM61.2 601.0h0.8v0.8h-0.8zM67.4 605.5h0.8v0.8h-0.8zM61.0 605.3h0.8v0.8h-0.8zM67.9 601.1h0.8v0.8h-0.8zM61.4 599.3h0.8v0.8h-0.8zM54.9 604.6h0.8v0.8h-0.8zM55.9 604.5h0.8v0.8h-0.8zM63.9 598.8h0.8v0.8h-0.8zM58.5 607.0h0.8v0.8h-0.8zM61.7 603.8h0.8v0.8h-0.8zM57.0 599.9h0.8v0.8h-0.8zM51.3 610.2h0.8v0.8h-0.8zM60.4 601.5h0.8v0.8h-0.8zM62.3 599.1h0.8v0.8h-0.8zM70.6 607.2h0.8v0.8h-0.8zM56.7 604.3h0.8v0.8h-0.8zM55.8 605.6h0.8v0.8h-0.8zM56.2 603.3h0.8v0.8h-0.8zM70.0 604.5h0.8v0.8h-0.8zM59.5 600.1h0.8v0.8h-0.8zM51.3 606.4h0.8v0.8h-0.8zM64.9 603.6h0.8v0.8h-0.8zM69.7 603.7h0.8v0.8h-0.8zM56.9 603.3h0.8v0.8h-0.8zM61.0 603.5h0.8v0.8h-0.8zM77.7 604.5h0.8v0.8h-0.8zM63.4 602.9h0.8v0.8h-0.8zM57.2 601.3h0.8v0.8h-0.8zM49.4 602.7h0.8v0.8h-0.8zM51.7 599.4h0.8v0.8h-0.8zM55.5 599.0h0.8v0.8h-0.8zM70.5 606.2h0.8v0.8h-0.8zM55.3 608.3h0.8v0.8h-0.8zM65.9 597.6h0.8v0.8h-0.8zM61.7 601.2h0.8v0.8h-0.8zM50.3 603.1h0.8v0.8h-0.8zM69.1 604.4h0.8v0.8h-0.8zM52.1 602.1h0.8v0.8h-0.8zM56.6 606.2h0.8v0.8h-0.8zM60.9 601.3h0.8v0.8h-0.8zM55.6 599.1h0.8v0.8h-0.8zM56.1 605.7h0.8v0.8h-0.8zM49.1 604.2h0.8v0.8h-0.8zM60.8 605.4h0.8v0.8h-0.8zM54.1 605.7h0.8v0.8h-0.8zM71.7 608.6h0.8v0.8h-0.8zM51.0 603.6h0.8v0.8h-0.8zM60.2 603.8h0.8v0.8h-0.8zM55.1 605.6h0.8v0.8h-0.8zM76.8 606.7h0.8v0.8h-0.8zM55.3 602.3h0.8v0.8h-0.8zM66.3 603.7h0.8v0.8h-0.8zM56.6 606.4h0.8v0.8h-0.8zM64.9 605.8h0.8v0.8h-0.8zM60.4 606.5h0.8v0.8h-0.8zM58.5 601.0h0.8v0.8h-0.8zM61.5 600.3h0.8v0.8h-0.8zM69.7 605.0h0.8v0.8h-0.8zM50.6 604.1h0.8v0.8h-0.8zM67.1 602.6h0.8v0.8h-0.8zM64.3 602.1h0.8v0.8h-0.8zM61.1 603.3h0.8v0.8h-0.8zM64.7 601.2h0.8v0.8h-0.8zM54.2 604.4h0.8v0.8h-0.8zM58.2 604.8h0.8v0.8h-0.8zM58.3 600.5h0.8v0.8h-0.8zM66.4 604.0h0.8v0.8h-0.8zM66.3 602.6h0.8v0.8h-0.8zM59.2 606.4h0.8v0.8h-0.8zM50.5 607.7h0.8v0.8h-0.8zM64.9 603.3h0.8v0.8h-0.8zM62.1 604.9h0.8v0.8h-0.8zM56.5 604.2h0.8v0.8h-0.8zM55.3 599.4h0.8v0.8h-0.8zM62.8 603.7h0.8v0.8h-0.8zM65.8 604.7h0.8v0.8h-0.8zM66.1 605.2h0.8v0.8h-0.8zM54.6 606.4h0.8v0.8h-0.8zM79.0 601.9h0.8v0.8h-0.8zM53.3 605.2h0.8v0.8h-0.8zM67.5 605.7h0.8v0.8h-0.8zM71.6 600.1h0.8v0.8h-0.8zM64.0 604.5h0.8v0.8h-0.8zM69.7 601.3h0.8v0.8h-0.8zM61.7 602.6h0.8v0.8h-0.8zM60.5 603.2h0.8v0.8h-0.8zM60.5 599.4h0.8v0.8h-0.8zM61.3 603.7h0.8v0.8h-0.8zM59.0 595.4h0.8v0.8h-0.8zM57.0 602.1h0.8v0.8h-0.8zM55.8 607.3h0.8v0.8h-0.8zM67.6 603.0h0.8v0.8h-0.8zM65.5 611.0h0.8v0.8h-0.8zM55.2 604.7h0.8v0.8h-0.8zM57.6 607.0h0.8v0.8h-0.8zM68.8 603.1h0.8v0.8h-0.8zM65.5 601.6h0.8v0.8h-0.8zM51.2 605.6h0.8v0.8h-0.8zM72.2 602.6h0.8v0.8h-0.8zM58.1 599.4h0.8v0.8h-0.8zM75.6 600.5h0.8v0.8h-0.8zM55.2 603.2h0.8v0.8h-0.8zM69.4 603.5h0.8v0.8h-0.8zM61.4 603.5h0.8v0.8h-0.8zM67.1 603.3h0.8v0.8h-0.8zM62.6 603.3h0.8v0.8h-0.8zM54.3 606.7h0.8v0.8h-0.8zM57.0 600.5h0.8v0.8h-0.8zM58.7 603.6h0.8v0.8h-0.8zM66.9 600.0h0.8v0.8h-0.8zM53.2 604.1h0.8v0.8h-0.8zM64.0 600.9h0.8v0.8h-0.8zM54.1 604.0h0.8v0.8h-0.8zM60.6 599.8h0.8v0.8h-0.8zM55.8 607.0h0.8v0.8h-0.8zM54.6 606.0h0.8v0.8h-0.8zM51.5 607.1h0.8v0.8h-0.8zM72.0 601.9h0.8v0.8h-0.8zM57.1 605.0h0.8v0.8h-0.8zM53.4 604.9h0.8v0.8h-0.8zM69.5 604.0h0.8v0.8h-0.8zM63.6 603.1h0.8v0.8h-0.8zM68.1 601.5h0.8v0.8h-0.8zM71.9 603.3h0.8v0.8h-0.8zM59.4 599.8h0.8v0.8h-0.8zM58.6 604.1h0.8v0.8h-0.8zM69.6 599.6h0.8v0.8h-0.8zM60.7 601.9h0.8v0.8h-0.8zM53.7 603.6h0.8v0.8h-0.8zM56.5 605.6h0.8v0.8h-0.8zM43.9 605.5h0.8v0.8h-0.8zM49.1 599.2h0.8v0.8h-0.8zM64.9 602.7h0.8v0.8h-0.8zM62.3 601.3h0.8v0.8h-0.8zM54.7 601.9h0.8v0.8h-0.8zM61.1 601.6h0.8v0.8h-0.8zM58.8 601.6h0.8v0.8h-0.8zM63.0 600.8h0.8v0.8h-0.8zM47.9 597.7h0.8v0.8h-0.8zM61.4 603.7h0.8v0.8h-0.8zM67.8 601.7h0.8v0.8h-0.8zM54.1 600.2h0.8v0.8h-0.8zM66.5 602.0h0.8v0.8h-0.8zM67.9 603.2h0.8v0.8h-0.8zM59.7 599.2h0.8v0.8h-0.8zM57.1 605.4h0.8v0.8h-0.8zM57.5 605.1h0.8v0.8h-0.8zM50.8 606.0h0.8v0.8h-0.8zM79.7 605.8h0.8v0.8h-0.8zM63.6 600.6h0.8v0.8h-0.8zM58.1 602.0h0.8v0.8h-0.8zM62.7 598.8h0.8v0.8h-0.8zM55.9 605.4h0.8v0.8h-0.8zM62.5 605.2h0.8v0.8h-0.8zM67.1 600.8h0.8v0.8h-0.8zM52.7 604.7h0.8v0.8h-0.8zM61.7 603.7h0.8v0.8h-0.8zM56.2 605.9h0.8v0.8h-0.8zM64.7 606.1h0.8v0.8h-0.8zM59.2 605.1h0.8v0.8h-0.8zM61.1 601.3h0.8v0.8h-0.8zM61.0 599.7h0.8v0.8h-0.8zM60.3 603.9h0.8v0.8h-0.8zM66.0 601.0h0.8v0.8h-0.8zM52.8 602.0h0.8v0.8h-0.8zM48.0 602.2h0.8v0.8h-0.8zM78.6 603.5h0.8v0.8h-0.8zM56.5 602.0h0.8v0.8h-0.8zM73.0 600.6h0.8v0.8h-0.8zM60.8 603.3h0.8v0.8h-0.8zM56.7 601.9h0.8v0.8h-0.8zM50.6 601.8h0.8v0.8h-0.8zM70.0 606.6h0.8v0.8h-0.8zM59.7 605.2h0.8v0.8h-0.8zM64.5 603.7h0.8v0.8h-0.8zM60.6 606.3h0.8v0.8h-0.8zM65.2 602.9h0.8v0.8h-0.8zM60.0 605.7h0.8v0.8h-0.8zM57.6 601.9h0.8v0.8h-0.8zM59.7 602.4h0.8v0.8h-0.8zM69.7 604.2h0.8v0.8h-0.8zM60.9 602.3h0.8v0.8h-0.8zM70.7 604.4h0.8v0.8h-0.8zM75.1 605.4h0.8v0.8h-0.8zM59.8 602.0h0.8v0.8h-0.8zM59.1 604.2h0.8v0.8h-0.8zM69.9 605.2h0.8v0.8h-0.8zM77.8 599.1h0.8v0.8h-0.8zM62.3 599.4h0.8v0.8h-0.8zM51.7 601.9h0.8v0.8h-0.8zM55.5 600.8h0.8v0.8h-0.8zM46.8 607.1h0.8v0.8h-0.8zM58.8 606.6h0.8v0.8h-0.8zM50.9 596.7h0.8v0.8h-0.8zM56.0 606.3h0.8v0.8h-0.8zM56.4 604.9h0.8v0.8h-0.8zM51.2 607.9h0.8v0.8h-0.8zM66.3 606.9h0.8v0.8h-0.8zM59.2 607.6h0.8v0.8h-0.8zM62.7 602.2h0.8v0.8h-0.8zM55.6 603.9h0.8v0.8h-0.8zM52.9 600.1h0.8v0.8h-0.8zM63.3 605.8h0.8v0.8h-0.8zM59.1 606.2h0.8v0.8h-0.8zM77.9 599.9h0.8v0.8h-0.8zM64.6 600.8h0.8v0.8h-0.8zM55.5 604.2h0.8v0.8h-0.8zM70.4 605.3h0.8v0.8h-0.8zM68.5 609.2h0.8v0.8h-0.8zM58.3 607.0h0.8v0.8h-0.8zM76.5 605.2h0.8v0.8h-0.8zM44.1 603.2h0.8v0.8h-0.8zM59.1 598.8h0.8v0.8h-0.8zM61.4 606.0h0.8v0.8h-0.8zM59.4 603.2h0.8v0.8h-0.8zM76.7 601.8h0.8v0.8h-0.8zM52.5 603.8h0.8v0.8h-0.8zM73.2 605.5h0.8v0.8h-0.8zM62.7 602.2h0.8v0.8h-0.8zM74.4 606.4h0.8v0.8h-0.8zM44.6 604.7h0.8v0.8h-0.8zM68.1 601.8h0.8v0.8h-0.8zM49.1 602.8h0.8v0.8h-0.8zM44.4 605.4h0.8v0.8h-0.8zM56.9 598.4h0.8v0.8h-0.8zM61.8 607.3h0.8v0.8h-0.8zM49.3 602.6h0.8v0.8h-0.8zM80.2 604.3h0.8v0.8h-0.8zM56.4 604.3h0.8v0.8h-0.8zM69.8 600.7h0.8v0.8h-0.8zM61.0 598.8h0.8v0.8h-0.8zM46.1 599.1h0.8v0.8h-0.8zM70.5 604.6h0.8v0.8h-0.8zM69.3 607.4h0.8v0.8h-0.8zM62.5 604.4h0.8v0.8h-0.8zM66.1 605.1h0.8v0.8h-0.8zM51.3 602.9h0.8v0.8h-0.8zM60.5 603.8h0.8v0.8h-0.8zM54.5 603.3h0.8v0.8h-0.8zM64.9 604.3h0.8v0.8h-0.8zM67.9 606.2h0.8v0.8h-0.8zM67.6 606.6h0.8v0.8h-0.8zM70.4 607.9h0.8v0.8h-0.8zM68.3 601.8h0.8v0.8h-0.8zM85.3 607.1h0.8v0.8h-0.8zM74.5 605.9h0.8v0.8h-0.8zM62.5 600.3h0.8v0.8h-0.8zM66.4 602.6h0.8v0.8h-0.8zM58.0 597.3h0.8v0.8h-0.8zM77.5 600.2h0.8v0.8h-0.8zM51.0 605.1h0.8v0.8h-0.8zM67.7 601.3h0.8v0.8h-0.8zM61.9 604.5h0.8v0.8h-0.8zM63.6 605.3h0.8v0.8h-0.8zM69.8 602.6h0.8v0.8h-0.8zM45.7 610.2h0.8v0.8h-0.8zM58.1 600.7h0.8v0.8h-0.8zM69.5 605.5h0.8v0.8h-0.8zM55.8 610.8h0.8v0.8h-0.8zM61.6 604.6h0.8v0.8h-0.8zM65.2 603.0h0.8v0.8h-0.8zM65.2 599.8h0.8v0.8h-0.8zM58.0 609.3h0.8v0.8h-0.8zM39.6 601.1h0.8v0.8h-0.8zM70.8 602.5h0.8v0.8h-0.8zM56.2 599.2h0.8v0.8h-0.8zM60.8 603.2h0.8v0.8h-0.8zM55.6 599.0h0.8v0.8h-0.8zM63.6 605.0h0.8v0.8h-0.8zM73.4 605.2h0.8v0.8h-0.8zM77.2 607.3h0.8v0.8h-0.8zM60.9 600.5h0.8v0.8h-0.8zM66.3 606.6h0.8v0.8h-0.8zM46.5 600.0h0.8v0.8h-0.8zM68.9 602.0h0.8v0.8h-0.8zM76.6 604.3h0.8v0.8h-0.8zM56.5 599.7h0.8v0.8h-0.8zM68.0 598.5h0.8v0.8h-0.8zM48.9 599.7h0.8v0.8h-0.8zM79.1 608.8h0.8v0.8h-0.8zM59.8 602.5h0.8v0.8h-0.8zM69.0 607.4h0.8v0.8h-0.8zM53.9 610.3h0.8v0.8h-0.8zM59.9 607.1h0.8v0.8h-0.8zM55.0 609.7h0.8v0.8h-0.8zM59.8 599.9h0.8v0.8h-0.8zM81.6 601.6h0.8v0.8h-0.8zM62.0 599.9h0.8v0.8h-0.8zM68.8 604.3h0.8v0.8h-0.8zM59.1 602.5h0.8v0.8h-0.8zM56.3 601.5h0.8v0.8h-0.8zM47.9 607.3h0.8v0.8h-0.8zM71.0 599.5h0.8v0.8h-0.8zM50.3 604.9h0.8v0.8h-0.8zM84.7 603.1h0.8v0.8h-0.8zM58.8 602.9h0.8v0.8h-0.8zM64.5 603.2h0.8v0.8h-0.8zM72.9 606.7h0.8v0.8h-0.8zM67.5 608.4h0.8v0.8h-0.8zM59.7 602.0h0.8v0.8h-0.8zM91.9 597.9h0.8v0.8h-0.8zM46.3 596.6h0.8v0.8h-0.8zM65.6 600.5h0.8v0.8h-0.8zM72.6 597.4h0.8v0.8h-0.8zM60.6 602.5h0.8v0.8h-0.8zM51.1 607.1h0.8v0.8h-0.8zM58.0 605.1h0.8v0.8h-0.8zM56.7 604.1h0.8v0.8h-0.8zM57.5 603.9h0.8v0.8h-0.8zM61.0 601.6h0.8v0.8h-0.8zM66.4 603.1h0.8v0.8h-0.8zM52.3 600.5h0.8v0.8h-0.8zM66.4 607.7h0.8v0.8h-0.8zM48.8 602.4h0.8v0.8h-0.8zM66.5 606.8h0.8v0.8h-0.8zM69.1 600.1h0.8v0.8h-0.8zM62.4 606.4h0.8v0.8h-0.8zM64.4 603.0h0.8v0.8h-0.8zM50.1 604.2h0.8v0.8h-0.8zM61.3 603.8h0.8v0.8h-0.8zM77.1 607.3h0.8v0.8h-0.8zM54.0 604.4h0.8v0.8h-0.8zM58.9 604.0h0.8v0.8h-0.8zM78.4 606.5h0.8v0.8h-0.8zM62.4 601.7h0.8v0.8h-0.8zM60.4 604.8h0.8v0.8h-0.8zM57.0 607.0h0.8v0.8h-0.8zM62.2 600.1h0.8v0.8h-0.8zM82.5 595.0h0.8v0.8h-0.8zM59.3 603.3h0.8v0.8h-0.8zM71.9 607.1h0.8v0.8h-0.8zM76.6 608.4h0.8v0.8h-0.8zM65.2 604.0h0.8v0.8h-0.8zM72.2 603.6h0.8v0.8h-0.8zM49.3 602.3h0.8v0.8h-0.8zM68.7 605.5h0.8v0.8h-0.8zM50.9 607.3h0.8v0.8h-0.8zM65.1 599.2h0.8v0.8h-0.8zM66.7 606.7h0.8v0.8h-0.8zM67.3 602.8h0.8v0.8h-0.8zM53.9 607.1h0.8v0.8h-0.8zM64.3 603.7h0.8v0.8h-0.8zM58.0 600.6h0.8v0.8h-0.8zM43.2 602.7h0.8v0.8h-0.8zM73.1 606.0h0.8v0.8h-0.8zM55.1 608.3h0.8v0.8h-0.8zM59.7 600.7h0.8v0.8h-0.8zM71.8 607.9h0.8v0.8h-0.8zM58.1 600.0h0.8v0.8h-0.8zM61.4 596.4h0.8v0.8h-0.8zM62.5 608.3h0.8v0.8h-0.8zM64.7 601.5h0.8v0.8h-0.8zM69.1 602.2h0.8v0.8h-0.8zM74.7 602.6h0.8v0.8h-0.8zM82.5 602.6h0.8v0.8h-0.8zM63.9 600.9h0.8v0.8h-0.8zM49.2 604.7h0.8v0.8h-0.8zM65.5 600.8h0.8v0.8h-0.8zM67.6 602.5h0.8v0.8h-0.8zM56.4 603.5h0.8v0.8h-0.8zM66.0 605.9h0.8v0.8h-0.8zM74.4 604.8h0.8v0.8h-0.8zM54.7 601.6h0.8v0.8h-0.8zM65.7 600.1h0.8v0.8h-0.8zM60.3 602.5h0.8v0.8h-0.8zM61.0 604.2h0.8v0.8h-0.8zM72.4 608.6h0.8v0.8h-0.8zM70.9 606.7h0.8v0.8h-0.8zM51.3 606.8h0.8v0.8h-0.8zM75.0 599.6h0.8v0.8h-0.8zM87.4 602.0h0.8v0.8h-0.8zM62.6 601.3h0.8v0.8h-0.8zM56.2 606.9h0.8v0.8h-0.8zM64.6 602.6h0.8v0.8h-0.8zM73.5 600.9h0.8v0.8h-0.8zM53.5 602.0h0.8v0.8h-0.8zM54.5 605.8h0.8v0.8h-0.8zM59.7 600.5h0.8v0.8h-0.8zM57.4 597.7h0.8v0.8h-0.8zM63.7 604.0h0.8v0.8h-0.8zM68.1 603.0h0.8v0.8h-0.8zM66.0 600.9h0.8v0.8h-0.8zM62.2 604.2h0.8v0.8h-0.8zM49.8 605.5h0.8v0.8h-0.8zM63.4 603.9h0.8v0.8h-0.8zM57.2 609.7h0.8v0.8h-0.8zM62.0 601.4h0.8v0.8h-0.8zM53.5 605.5h0.8v0.8h-0.8zM59.9 601.3h0.8v0.8h-0.8zM54.7 606.5h0.8v0.8h-0.8zM62.9 606.9h0.8v0.8h-0.8zM61.8 600.1h0.8v0.8h-0.8zM70.7 604.7h0.8v0.8h-0.8zM55.4 602.8h0.8v0.8h-0.8zM52.3 606.2h0.8v0.8h-0.8zM57.8 605.1h0.8v0.8h-0.8zM64.6 602.9h0.8v0.8h-0.8zM65.7 603.0h0.8v0.8h-0.8zM50.2 602.4h0.8v0.8h-0.8zM50.2 606.0h0.8v0.8h-0.8zM68.5 601.9h0.8v0.8h-0.8zM68.2 604.4h0.8v0.8h-0.8zM71.8 600.9h0.8v0.8h-0.8zM62.3 600.7h0.8v0.8h-0.8zM55.2 607.8h0.8v0.8h-0.8zM41.9 601.0h0.8v0.8h-0.8zM66.9 606.0h0.8v0.8h-0.8zM54.1 597.6h0.8v0.8h-0.8zM44.8 604.8h0.8v0.8h-0.8zM73.0 606.4h0.8v0.8h-0.8zM54.7 607.8h0.8v0.8h-0.8zM60.1 605.5h0.8v0.8h-0.8zM60.1 608.5h0.8v0.8h-0.8zM56.8 597.3h0.8v0.8h-0.8zM58.8 604.3h0.8v0.8h-0.8zM64.8 601.5h0.8v0.8h-0.8zM59.7 600.3h0.8v0.8h-0.8zM59.7 604.0h0.8v0.8h-0.8zM64.4 608.6h0.8v0.8h-0.8zM42.0 605.3h0.8v0.8h-0.8zM66.3 600.2h0.8v0.8h-0.8zM62.7 603.7h0.8v0.8h-0.8zM52.0 605.9h0.8v0.8h-0.8zM81.1 605.7h0.8v0.8h-0.8zM69.8 606.9h0.8v0.8h-0.8zM60.7 606.6h0.8v0.8h-0.8zM53.9 604.2h0.8v0.8h-0.8zM69.0 607.6h0.8v0.8h-0.8zM59.1 602.8h0.8v0.8h-0.8zM66.7 603.5h0.8v0.8h-0.8zM63.4 606.1h0.8v0.8h-0.8zM54.4 606.3h0.8v0.8h-0.8zM65.8 602.9h0.8v0.8h-0.8zM49.5 601.8h0.8v0.8h-0.8zM61.6 606.5h0.8v0.8h-0.8zM42.4 605.8h0.8v0.8h-0.8zM63.9 600.3h0.8v0.8h-0.8zM70.5 604.9h0.8v0.8h-0.8zM66.3 600.8h0.8v0.8h-0.8zM51.0 606.4h0.8v0.8h-0.8zM76.0 604.8h0.8v0.8h-0.8zM60.1 602.4h0.8v0.8h-0.8zM44.9 606.6h0.8v0.8h-0.8zM61.0 607.4h0.8v0.8h-0.8zM54.8 606.8h0.8v0.8h-0.8zM54.9 605.4h0.8v0.8h-0.8zM75.7 601.6h0.8v0.8h-0.8zM71.0 603.7h0.8v0.8h-0.8zM52.7 604.3h0.8v0.8h-0.8zM68.4 601.6h0.8v0.8h-0.8zM59.3 602.0h0.8v0.8h-0.8zM54.4 603.1h0.8v0.8h-0.8zM70.2 602.2h0.8v0.8h-0.8zM74.4 602.6h0.8v0.8h-0.8zM55.1 606.9h0.8v0.8h-0.8zM76.0 601.8h0.8v0.8h-0.8zM67.8 600.2h0.8v0.8h-0.8zM58.0 602.6h0.8v0.8h-0.8zM69.0 600.0h0.8v0.8h-0.8zM56.9 601.6h0.8v0.8h-0.8zM63.0 600.0h0.8v0.8h-0.8zM48.7 612.1h0.8v0.8h-0.8zM64.1 599.2h0.8v0.8h-0.8zM70.3 599.8h0.8v0.8h-0.8zM43.3 608.7h0.8v0.8h-0.8zM74.4 601.2h0.8v0.8h-0.8zM51.2 605.1h0.8v0.8h-0.8zM82.1 605.5h0.8v0.8h-0.8zM68.5 600.2h0.8v0.8h-0.8zM44.4 604.8h0.8v0.8h-0.8zM72.0 604.1h0.8v0.8h-0.8zM61.9 607.8h0.8v0.8h-0.8zM53.7 607.0h0.8v0.8h-0.8zM70.2 601.8h0.8v0.8h-0.8zM63.2 604.0h0.8v0.8h-0.8zM67.7 600.8h0.8v0.8h-0.8zM59.7 604.0h0.8v0.8h-0.8zM62.3 603.8h0.8v0.8h-0.8zM64.5 603.1h0.8v0.8h-0.8zM57.1 606.8h0.8v0.8h-0.8zM55.6 602.8h0.8v0.8h-0.8zM53.3 600.3h0.8v0.8h-0.8zM66.4 603.6h0.8v0.8h-0.8zM60.7 605.0h0.8v0.8h-0.8zM60.3 605.7h0.8v0.8h-0.8zM79.8 604.7h0.8v0.8h-0.8zM59.4 608.6h0.8v0.8h-0.8zM69.0 598.8h0.8v0.8h-0.8zM75.1 604.3h0.8v0.8h-0.8zM70.4 600.3h0.8v0.8h-0.8zM53.6 601.8h0.8v0.8h-0.8zM67.4 600.4h0.8v0.8h-0.8zM55.0 606.5h0.8v0.8h-0.8zM55.7 604.0h0.8v0.8h-0.8zM53.1 598.7h0.8v0.8h-0.8zM61.2 603.3h0.8v0.8h-0.8zM47.9 606.6h0.8v0.8h-0.8zM70.1 606.3h0.8v0.8h-0.8zM57.0 600.3h0.8v0.8h-0.8zM61.1 604.2h0.8v0.8h-0.8zM60.3 602.0h0.8v0.8h-0.8zM52.2 601.5h0.8v0.8h-0.8zM61.2 602.3h0.8v0.8h-0.8zM78.4 602.9h0.8v0.8h-0.8zM66.4 602.3h0.8v0.8h-0.8zM60.2 600.8h0.8v0.8h-0.8zM57.2 599.3h0.8v0.8h-0.8zM41.6 607.6h0.8v0.8h-0.8zM51.6 605.0h0.8v0.8h-0.8zM60.8 602.0h0.8v0.8h-0.8zM69.1 602.1h0.8v0.8h-0.8zM66.3 602.6h0.8v0.8h-0.8zM71.5 606.5h0.8v0.8h-0.8zM62.6 606.9h0.8v0.8h-0.8zM66.9 608.3h0.8v0.8h-0.8zM60.8 599.1h0.8v0.8h-0.8zM64.1 604.4h0.8v0.8h-0.8zM58.4 603.1h0.8v0.8h-0.8zM59.3 600.0h0.8v0.8h-0.8zM78.8 601.4h0.8v0.8h-0.8zM51.5 599.0h0.8v0.8h-0.8zM53.7 603.6h0.8v0.8h-0.8zM76.5 605.5h0.8v0.8h-0.8zM54.9 600.0h0.8v0.8h-0.8zM51.0 603.5h0.8v0.8h-0.8zM70.5 602.3h0.8v0.8h-0.8zM77.7 609.4h0.8v0.8h-0.8zM63.5 597.3h0.8v0.8h-0.8zM72.7 603.4h0.8v0.8h-0.8zM68.5 606.6h0.8v0.8h-0.8zM52.1 603.9h0.8v0.8h-0.8zM63.7 601.5h0.8v0.8h-0.8zM68.8 603.3h0.8v0.8h-0.8zM58.0 609.2h0.8v0.8h-0.8z" fill="#000" fill-opacity="1"/>
<path d="M59.1 659.2h0.8v0.8h-0.8zM56.9 653.3h0.8v0.8h-0.8zM52.8 644.2h0.8v0.8h-0.8zM65.4 629.6h0.8v0.8h-0.8zM61.7 644.1h0.8v0.8h-0.8zM65.4 649.4h0.8v0.8h-0.8zM57.5 634.0h0.8v0.8h-0.8zM78.1 646.5h0.8v0.8h-0.8zM55.8 638.0h0.8v0.8h-0.8zM55.9 646.0h0.8v0.8h-0.8zM48.8 650.3h0.8v0.8h-0.8zM56.2 649.3h0.8v0.8h-0.8zM43.5 635.0h0.8v0.8h-0.8zM55.9 640.9h0.8v0.8h-0.8zM53.4 645.8h0.8v0.8h-0.8zM60.8 637.8h0.8v0.8h-0.8zM44.5 645.9h0.8v0.8h-0.8zM55.8 653.1h0.8v0.8h-0.8zM63.9 646.4h0.8v0.8h-0.8zM48.2 638.2h0.8v0.8h-0.8zM53.0 653.5h0.8v0.8h-0.8zM46.4 648.2h0.8v0.8h-0.8zM47.4 636.1h0.8v0.8h-0.8zM48.3 635.4h0.8v0.8h-0.8zM54.9 646.9h0.8v0.8h-0.8zM53.9 649.2h0.8v0.8h-0.8zM69.9 650.9h0.8v0.8h-0.8zM50.1 640.4h0.8v0.8h-0.8zM57.3 641.7h0.8v0.8h-0.8zM65.8 657.7h0.8v0.8h-0.8zM71.7 654.6h0.8v0.8h-0.8zM39.7 636.8h0.8v0.8h-0.8zM62.5 639.9h0.8v0.8h-0.8zM53.9 651.0h0.8v0.8h-0.8zM58.9 635.9h0.8v0.8h-0.8zM54.0 617.5h0.8v0.8h-0.8zM57.9 634.7h0.8v0.8h-0.8zM57.6 634.8h0.8v0.8h-0.8zM51.6 638.2h0.8v0.8h-0.8zM77.0 642.3h0.8v0.8h-0.8zM49.9 637.3h0.8v0.8h-0.8zM65.2 654.5h0.8v0.8h-0.8zM62.7 644.1h0.8v0.8h-0.8zM58.8 638.8h0.8v0.8h-0.8zM56.7 637.7h0.8v0.8h-0.8zM48.0 632.8h0.8v0.8h-0.8zM71.1 653.4h0.8v0.8h-0.8zM52.8 642.1h0.8v0.8h-0.8zM54.9 654.0h0.8v0.8h-0.8zM57.8 639.5h0.8v0.8h-0.8zM62.6 649.4h0.8v0.8h-0.8zM53.3 636.7h0.8v0.8h-0.8zM58.9 631.6h0.8v0.8h-0.8zM51.7 651.0h0.8v0.8h-0.8zM63.8 656.6h0.8v0.8h-0.8zM54.9 638.8h0.8v0.8h-0.8zM56.1 640.2h0.8v0.8h-0.8zM66.7 646.4h0.8v0.8h-0.8zM67.2 642.5h0.8v0.8h-0.8zM60.5 659.6h0.8v0.8h-0.8zM52.9 637.5h0.8v0.8h-0.8zM53.8 629.8h0.8v0.8h-0.8zM55.9 638.7h0.8v0.8h-0.8zM73.0 646.7h0.8v0.8h-0.8zM43.3 647.2h0.8v0.8h-0.8zM64.4 647.2h0.8v0.8h-0.8zM59.9 651.7h0.8v0.8h-0.8zM54.1 643.8h0.8v0.8h-0.8zM58.9 659.2h0.8v0.8h-0.8zM67.6 650.1h0.8v0.8h-0.8zM104.1 606.6h0.8v0.8h-0.8zM106.6 612.1h0.8v0.8h-0.8zM98.9 607.2h0.8v0.8h-0.8zM107.4 616.7h0.8v0.8h-0.8zM109.5 639.5h0.8v0.8h-0.8zM89.6 604.9h0.8v0.8h-0.8zM106.9 617.7h0.8v0.8h-0.8zM95.7 603.3h0.8v0.8h-0.8zM93.7 602.4h0.8v0.8h-0.8zM108.5 632.0h0.8v0.8h-0.8zM93.8 603.0h0.8v0.8h-0.8zM105.4 617.8h0.8v0.8h-0.8zM94.6 601.9h0.8v0.8h-0.8zM94.6 602.9h0.8v0.8h-0.8zM98.1 606.5h0.8v0.8h-0.8zM112.8 630.6h0.8v0.8h-0.8zM102.5 607.5h0.8v0.8h-0.8zM98.7 606.1h0.8v0.8h-0.8zM111.7 636.6h0.8v0.8h-0.8zM91.4 605.2h0.8v0.8h-0.8zM100.5 606.2h0.8v0.8h-0.8zM105.8 614.6h0.8v0.8h-0.8zM96.7 604.7h0.8v0.8h-0.8zM102.2 609.8h0.8v0.8h-0.8zM101.0 607.8h0.8v0.8h-0.8zM108.2 617.9h0.8v0.8h-0.8zM109.4 626.8h0.8v0.8h-0.8zM104.8 609.3h0.8v0.8h-0.8zM107.2 621.1h0.8v0.8h-0.8zM94.8 601.3h0.8v0.8h-0.8zM108.8 619.5h0.8v0.8h-0.8zM113.1 633.4h0.8v0.8h-0.8zM108.1 634.5h0.8v0.8h-0.8zM92.4 604.1h0.8v0.8h-0.8zM109.9 634.4h0.8v0.8h-0.8zM88.3 601.0h0.8v0.8h-0.8zM110.2 631.7h0.8v0.8h-0.8zM112.2 626.9h0.8v0.8h-0.8zM106.6 612.6h0.8v0.8h-0.8zM112.4 641.7h0.8v0.8h-0.8zM107.4 619.0h0.8v0.8h-0.8zM88.7 602.7h0.8v0.8h-0.8zM101.7 609.9h0.8v0.8h-0.8zM98.8 603.2h0.8v0.8h-0.8zM100.2 604.7h0.8v0.8h-0.8zM100.7 608.3h0.8v0.8h-0.8zM108.7 624.5h0.8v0.8h-0.8zM106.4 615.9h0.8v0.8h-0.8zM90.9 599.8h0.8v0.8h-0.8zM91.7 605.1h0.8v0.8h-0.8zM112.1 638.7h0.8v0.8h-0.8zM91.8 599.2h0.8v0.8h-0.8zM108.1 626.9h0.8v0.8h-0.8zM111.7 644.4h0.8v0.8h-0.8zM93.7 602.0h0.8v0.8h-0.8zM109.9 616.6h0.8v0.8h-0.8zM106.4 610.2h0.8v0.8h-0.8zM113.2 639.1h0.8v0.8h-0.8zM98.5 606.6h0.8v0.8h-0.8zM113.3 633.9h0.8v0.8h-0.8zM100.5 604.6h0.8v0.8h-0.8zM104.7 605.2h0.8v0.8h-0.8zM109.0 625.4h0.8v0.8h-0.8zM96.6 602.7h0.8v0.8h-0.8zM96.1 605.6h0.8v0.8h-0.8zM87.3 605.3h0.8v0.8h-0.8zM89.3 602.6h0.8v0.8h-0.8zM104.9 608.8h0.8v0.8h-0.8zM98.5 600.3h0.8v0.8h-0.8zM111.4 632.6h0.8v0.8h-0.8zM105.8 608.3h0.8v0.8h-0.8zM96.3 602.4h0.8v0.8h-0.8zM112.3 646.5h0.8v0.8h-0.8zM103.9 606.9h0.8v0.8h-0.8zM103.4 612.6h0.8v0.8h-0.8zM114.6 643.3h0.8v0.8h-0.8zM100.3 604.0h0.8v0.8h-0.8zM106.8 624.6h0.8v0.8h-0.8zM96.1 606.5h0.8v0.8h-0.8zM95.8 603.6h0.8v0.8h-0.8zM103.9 602.9h0.8v0.8h-0.8zM107.2 613.7h0.8v0.8h-0.8zM106.2 614.1h0.8v0.8h-0.8zM95.3 604.2h0.8v0.8h-0.8zM99.9 607.2h0.8v0.8h-0.8zM109.3 619.5h0.8v0.8h-0.8zM104.1 609.9h0.8v0.8h-0.8zM90.9 602.1h0.8v0.8h-0.8zM108.3 630.4h0.8v0.8h-0.8zM90.0 603.0h0.8v0.8h-0.8z" fill="#333" fill-opacity="0.7"/>
<rect x="37.5" y="592.5" width="95.30000000000001" height="96.5" fill="none" stroke="#000" stroke-width="0.8" />
<path d="M37.50 689v2.0M44.67 689v1.1M48.87 689v1.1M51.84 689v1.1M54.15 689v1.1M56.04 689v1.1M57.63 689v1.1M59.02 689v1.1M60.23 689v1.1M61.33 689v2.0M68.50 689v1.1M72.69 689v1.1M75.67 689v1.1M77.98 689v1.1M79.86 689v1.1M81.46 689v1.1M82.84 689v1.1M84.06 689v1.1M85.15 689v2.0M92.32 689v1.1M96.52 689v1.1M99.49 689v1.1M101.80 689v1.1M103.69 689v1.1M105.28 689v1.1M106.67 689v1.1M107.88 689v1.1M108.98 689v2.0M116.15 689v1.1M120.34 689v1.1M123.32 689v1.1M125.63 689v1.1M127.51 689v1.1M129.11 689v1.1M130.49 689v1.1M131.71 689v1.1M132.80 689v2.0M37.5 689.00h-2.0M37.5 681.74h-1.1M37.5 677.49h-1.1M37.5 674.48h-1.1M37.5 672.14h-1.1M37.5 670.23h-1.1M37.5 668.61h-1.1M37.5 667.21h-1.1M37.5 665.98h-1.1M37.5 664.88h-2.0M37.5 657.61h-1.1M37.5 653.36h-1.1M37.5 650.35h-1.1M37.5 648.01h-1.1M37.5 646.10h-1.1M37.5 644.49h-1.1M37.5 643.09h-1.1M37.5 641.85h-1.1M37.5 640.75h-2.0M37.5 633.49h-1.1M37.5 629.24h-1.1M37.5 626.23h-1.1M37.5 623.89h-1.1M37.5 621.98h-1.1M37.5 620.36h-1.1M37.5 618.96h-1.1M37.5 617.73h-1.1M37.5 616.62h-2.0M37.5 609.36h-1.1M37.5 605.11h-1.1M37.5 602.10h-1.1M37.5 599.76h-1.1M37.5 597.85h-1.1M37.5 596.24h-1.1M37.5 594.84h-1.1M37.5 593.60h-1.1M37.5 592.50h-2.0" stroke="#222" stroke-width="0.6" fill="none"/>
<rect x="40.75" y="594.25" width="44.75" height="18.25" fill="none" stroke="#222" stroke-width="0.8" />
<rect x="86.75" y="596.25" width="29.5" height="79.75" fill="none" stroke="#333" stroke-width="0.8" />
<text x="64.6" y="623.75" font-size="11" text-anchor="middle" font-weight="bold" fill="#000" >93%</text>
<text transform="translate(33.5,642.5) rotate(-90)" font-size="11" text-anchor="middle" font-weight="normal">CD14</text>
<text x="83.75" y="700" font-size="11" text-anchor="middle" font-weight="normal" fill="#000" >CD16</text>
<text x="138" y="642.5" font-size="13" text-anchor="start" font-weight="normal" fill="#000" >CD14<tspan font-size="58%" dy="-0.45em">++</tspan></text>
<text x="138" y="658.25" font-size="13" text-anchor="start" font-weight="normal" fill="#000" >CD16<tspan font-size="58%" dy="-0.45em">–</tspan></text>
<path d="M96.4 759.6h0.8v0.8h-0.8zM100.7 749.1h0.8v0.8h-0.8zM90.6 748.0h0.8v0.8h-0.8zM98.9 731.1h0.8v0.8h-0.8zM95.7 748.0h0.8v0.8h-0.8zM96.6 746.6h0.8v0.8h-0.8zM95.8 753.9h0.8v0.8h-0.8zM98.0 744.8h0.8v0.8h-0.8zM95.5 758.0h0.8v0.8h-0.8zM92.8 741.9h0.8v0.8h-0.8zM97.8 747.2h0.8v0.8h-0.8zM97.7 754.3h0.8v0.8h-0.8zM101.2 749.8h0.8v0.8h-0.8zM96.6 745.7h0.8v0.8h-0.8zM95.5 751.6h0.8v0.8h-0.8zM91.1 738.4h0.8v0.8h-0.8zM94.5 739.8h0.8v0.8h-0.8zM93.3 752.1h0.8v0.8h-0.8zM86.9 746.7h0.8v0.8h-0.8zM90.9 743.0h0.8v0.8h-0.8zM94.0 739.5h0.8v0.8h-0.8zM90.2 744.7h0.8v0.8h-0.8zM83.9 730.0h0.8v0.8h-0.8zM94.8 752.0h0.8v0.8h-0.8zM104.3 746.5h0.8v0.8h-0.8zM93.0 743.4h0.8v0.8h-0.8zM98.4 752.0h0.8v0.8h-0.8zM92.4 747.6h0.8v0.8h-0.8zM96.3 752.7h0.8v0.8h-0.8zM94.7 744.3h0.8v0.8h-0.8zM92.8 737.2h0.8v0.8h-0.8zM97.6 750.5h0.8v0.8h-0.8zM101.2 748.9h0.8v0.8h-0.8zM94.5 740.0h0.8v0.8h-0.8zM91.5 740.4h0.8v0.8h-0.8zM97.9 746.9h0.8v0.8h-0.8zM86.7 742.7h0.8v0.8h-0.8zM95.2 739.5h0.8v0.8h-0.8zM96.4 749.1h0.8v0.8h-0.8zM92.1 736.8h0.8v0.8h-0.8zM95.1 747.2h0.8v0.8h-0.8zM95.4 754.8h0.8v0.8h-0.8zM97.1 740.3h0.8v0.8h-0.8zM99.7 743.1h0.8v0.8h-0.8zM99.4 747.4h0.8v0.8h-0.8zM101.7 741.6h0.8v0.8h-0.8zM99.5 749.3h0.8v0.8h-0.8zM92.6 749.1h0.8v0.8h-0.8zM106.1 750.8h0.8v0.8h-0.8zM93.2 744.2h0.8v0.8h-0.8zM102.0 749.0h0.8v0.8h-0.8zM102.7 743.9h0.8v0.8h-0.8zM102.0 738.3h0.8v0.8h-0.8zM95.8 744.1h0.8v0.8h-0.8zM94.4 752.6h0.8v0.8h-0.8zM93.9 747.3h0.8v0.8h-0.8zM104.3 753.0h0.8v0.8h-0.8zM94.7 741.2h0.8v0.8h-0.8zM87.9 745.8h0.8v0.8h-0.8zM100.2 753.6h0.8v0.8h-0.8zM97.5 759.0h0.8v0.8h-0.8zM99.8 733.3h0.8v0.8h-0.8zM92.7 749.6h0.8v0.8h-0.8zM94.8 750.4h0.8v0.8h-0.8zM107.4 744.6h0.8v0.8h-0.8zM105.9 748.2h0.8v0.8h-0.8zM90.2 744.8h0.8v0.8h-0.8zM100.3 743.7h0.8v0.8h-0.8zM103.2 742.7h0.8v0.8h-0.8zM95.6 751.2h0.8v0.8h-0.8zM95.6 742.5h0.8v0.8h-0.8zM96.4 749.8h0.8v0.8h-0.8zM103.9 756.0h0.8v0.8h-0.8zM104.5 748.1h0.8v0.8h-0.8zM89.4 743.8h0.8v0.8h-0.8zM94.7 739.6h0.8v0.8h-0.8zM94.3 745.0h0.8v0.8h-0.8zM96.7 751.4h0.8v0.8h-0.8zM92.6 751.7h0.8v0.8h-0.8zM96.7 750.4h0.8v0.8h-0.8zM101.8 740.2h0.8v0.8h-0.8zM103.3 743.7h0.8v0.8h-0.8zM98.2 752.9h0.8v0.8h-0.8zM100.4 737.9h0.8v0.8h-0.8zM97.2 752.9h0.8v0.8h-0.8zM96.0 745.4h0.8v0.8h-0.8zM96.8 755.7h0.8v0.8h-0.8zM94.2 739.8h0.8v0.8h-0.8zM91.7 741.6h0.8v0.8h-0.8zM95.5 747.8h0.8v0.8h-0.8zM96.1 735.8h0.8v0.8h-0.8zM89.7 748.1h0.8v0.8h-0.8zM99.6 738.9h0.8v0.8h-0.8zM100.5 732.8h0.8v0.8h-0.8zM106.4 752.3h0.8v0.8h-0.8zM89.4 747.0h0.8v0.8h-0.8zM96.3 743.3h0.8v0.8h-0.8zM94.9 744.2h0.8v0.8h-0.8zM96.1 740.6h0.8v0.8h-0.8zM94.0 748.6h0.8v0.8h-0.8zM98.8 738.8h0.8v0.8h-0.8zM94.4 754.6h0.8v0.8h-0.8zM99.6 756.6h0.8v0.8h-0.8zM90.7 738.3h0.8v0.8h-0.8zM87.2 732.0h0.8v0.8h-0.8zM94.9 739.4h0.8v0.8h-0.8zM91.8 740.6h0.8v0.8h-0.8zM95.7 750.7h0.8v0.8h-0.8zM98.9 736.3h0.8v0.8h-0.8zM102.9 745.8h0.8v0.8h-0.8zM92.2 744.6h0.8v0.8h-0.8zM94.8 737.3h0.8v0.8h-0.8zM103.2 744.5h0.8v0.8h-0.8zM93.9 748.4h0.8v0.8h-0.8zM103.7 750.9h0.8v0.8h-0.8zM92.6 747.5h0.8v0.8h-0.8zM101.3 749.6h0.8v0.8h-0.8zM99.3 744.0h0.8v0.8h-0.8zM96.2 736.0h0.8v0.8h-0.8zM93.4 738.4h0.8v0.8h-0.8zM96.5 754.8h0.8v0.8h-0.8zM86.8 735.5h0.8v0.8h-0.8zM92.5 744.4h0.8v0.8h-0.8zM101.5 742.8h0.8v0.8h-0.8zM93.1 752.2h0.8v0.8h-0.8zM98.1 749.6h0.8v0.8h-0.8zM100.1 742.6h0.8v0.8h-0.8zM97.5 742.4h0.8v0.8h-0.8zM93.4 745.9h0.8v0.8h-0.8zM98.4 739.0h0.8v0.8h-0.8zM93.2 748.7h0.8v0.8h-0.8zM97.2 750.1h0.8v0.8h-0.8zM95.1 740.9h0.8v0.8h-0.8zM99.9 750.5h0.8v0.8h-0.8zM84.3 747.7h0.8v0.8h-0.8zM93.2 749.0h0.8v0.8h-0.8zM103.3 746.2h0.8v0.8h-0.8zM92.3 746.3h0.8v0.8h-0.8zM96.9 749.4h0.8v0.8h-0.8zM90.4 745.8h0.8v0.8h-0.8zM100.3 751.2h0.8v0.8h-0.8zM99.2 753.8h0.8v0.8h-0.8zM92.9 752.2h0.8v0.8h-0.8zM97.4 740.4h0.8v0.8h-0.8zM95.2 747.2h0.8v0.8h-0.8zM97.9 754.4h0.8v0.8h-0.8zM97.3 743.2h0.8v0.8h-0.8zM105.9 746.7h0.8v0.8h-0.8zM92.9 750.5h0.8v0.8h-0.8zM94.7 740.9h0.8v0.8h-0.8zM91.9 751.7h0.8v0.8h-0.8zM91.9 745.3h0.8v0.8h-0.8zM94.5 744.3h0.8v0.8h-0.8zM93.0 745.9h0.8v0.8h-0.8zM99.1 752.9h0.8v0.8h-0.8zM94.9 738.7h0.8v0.8h-0.8zM90.1 744.3h0.8v0.8h-0.8zM85.8 750.9h0.8v0.8h-0.8zM96.6 746.8h0.8v0.8h-0.8zM90.5 740.5h0.8v0.8h-0.8zM93.3 749.1h0.8v0.8h-0.8zM94.7 749.2h0.8v0.8h-0.8zM98.7 735.3h0.8v0.8h-0.8zM95.5 753.2h0.8v0.8h-0.8zM94.3 746.2h0.8v0.8h-0.8zM96.0 738.6h0.8v0.8h-0.8zM105.9 747.9h0.8v0.8h-0.8zM99.3 744.2h0.8v0.8h-0.8zM102.5 754.5h0.8v0.8h-0.8zM101.6 753.1h0.8v0.8h-0.8zM99.5 755.0h0.8v0.8h-0.8zM98.2 747.3h0.8v0.8h-0.8zM100.0 741.8h0.8v0.8h-0.8zM85.5 747.8h0.8v0.8h-0.8zM97.2 742.1h0.8v0.8h-0.8zM95.3 740.1h0.8v0.8h-0.8zM92.9 746.1h0.8v0.8h-0.8zM97.0 751.1h0.8v0.8h-0.8zM96.1 749.7h0.8v0.8h-0.8zM99.4 742.7h0.8v0.8h-0.8zM89.2 740.0h0.8v0.8h-0.8zM95.4 742.6h0.8v0.8h-0.8zM106.0 744.7h0.8v0.8h-0.8zM98.5 742.1h0.8v0.8h-0.8zM99.5 739.5h0.8v0.8h-0.8zM100.6 748.3h0.8v0.8h-0.8zM94.8 738.5h0.8v0.8h-0.8zM103.7 744.7h0.8v0.8h-0.8zM102.7 733.6h0.8v0.8h-0.8zM91.3 755.3h0.8v0.8h-0.8zM104.2 748.3h0.8v0.8h-0.8zM100.8 750.8h0.8v0.8h-0.8zM95.0 746.4h0.8v0.8h-0.8zM91.5 736.8h0.8v0.8h-0.8zM97.0 750.5h0.8v0.8h-0.8zM97.2 739.0h0.8v0.8h-0.8zM100.2 747.6h0.8v0.8h-0.8zM99.7 745.3h0.8v0.8h-0.8zM95.4 751.9h0.8v0.8h-0.8zM102.4 740.6h0.8v0.8h-0.8zM91.7 750.4h0.8v0.8h-0.8zM98.1 746.8h0.8v0.8h-0.8zM92.3 750.8h0.8v0.8h-0.8zM97.3 747.6h0.8v0.8h-0.8zM98.2 743.5h0.8v0.8h-0.8zM98.2 747.3h0.8v0.8h-0.8zM99.6 749.2h0.8v0.8h-0.8zM91.0 740.4h0.8v0.8h-0.8zM95.3 752.6h0.8v0.8h-0.8zM93.7 751.9h0.8v0.8h-0.8zM101.2 752.5h0.8v0.8h-0.8zM106.2 748.7h0.8v0.8h-0.8zM97.9 753.6h0.8v0.8h-0.8zM98.3 752.4h0.8v0.8h-0.8zM95.9 754.2h0.8v0.8h-0.8zM98.0 735.3h0.8v0.8h-0.8zM101.2 746.3h0.8v0.8h-0.8zM92.7 743.3h0.8v0.8h-0.8zM95.3 752.5h0.8v0.8h-0.8zM97.9 746.1h0.8v0.8h-0.8zM96.4 740.8h0.8v0.8h-0.8zM93.7 742.6h0.8v0.8h-0.8zM95.5 739.0h0.8v0.8h-0.8zM94.8 751.5h0.8v0.8h-0.8zM98.5 746.6h0.8v0.8h-0.8zM98.0 745.1h0.8v0.8h-0.8zM91.4 749.8h0.8v0.8h-0.8zM106.2 751.8h0.8v0.8h-0.8zM99.5 761.3h0.8v0.8h-0.8zM91.3 747.7h0.8v0.8h-0.8zM95.0 744.0h0.8v0.8h-0.8zM89.4 743.6h0.8v0.8h-0.8zM98.2 737.2h0.8v0.8h-0.8zM95.5 742.9h0.8v0.8h-0.8zM92.2 748.6h0.8v0.8h-0.8zM103.6 750.5h0.8v0.8h-0.8zM100.9 751.8h0.8v0.8h-0.8zM96.2 749.4h0.8v0.8h-0.8zM102.2 745.2h0.8v0.8h-0.8zM95.9 737.8h0.8v0.8h-0.8zM88.5 739.1h0.8v0.8h-0.8zM100.4 749.3h0.8v0.8h-0.8zM97.6 754.1h0.8v0.8h-0.8zM88.9 752.0h0.8v0.8h-0.8zM96.9 750.7h0.8v0.8h-0.8zM102.5 743.0h0.8v0.8h-0.8zM92.7 747.4h0.8v0.8h-0.8zM96.3 742.6h0.8v0.8h-0.8zM96.0 741.7h0.8v0.8h-0.8zM97.1 744.0h0.8v0.8h-0.8zM103.8 742.0h0.8v0.8h-0.8zM99.0 747.2h0.8v0.8h-0.8zM103.3 742.3h0.8v0.8h-0.8zM94.5 755.6h0.8v0.8h-0.8zM93.7 743.1h0.8v0.8h-0.8zM94.8 739.9h0.8v0.8h-0.8zM101.8 756.4h0.8v0.8h-0.8zM95.8 741.5h0.8v0.8h-0.8zM90.7 748.3h0.8v0.8h-0.8zM94.2 748.6h0.8v0.8h-0.8zM87.9 746.4h0.8v0.8h-0.8zM103.1 770.4h0.8v0.8h-0.8zM85.6 754.0h0.8v0.8h-0.8zM100.6 762.5h0.8v0.8h-0.8zM98.3 754.9h0.8v0.8h-0.8zM100.7 769.6h0.8v0.8h-0.8zM84.1 748.7h0.8v0.8h-0.8zM104.7 763.2h0.8v0.8h-0.8zM106.1 755.0h0.8v0.8h-0.8zM109.6 783.0h0.8v0.8h-0.8zM98.0 796.9h0.8v0.8h-0.8zM107.2 789.2h0.8v0.8h-0.8zM94.0 755.7h0.8v0.8h-0.8zM102.4 778.1h0.8v0.8h-0.8zM100.4 745.3h0.8v0.8h-0.8zM106.1 765.1h0.8v0.8h-0.8zM102.2 759.8h0.8v0.8h-0.8zM99.4 743.5h0.8v0.8h-0.8zM103.4 756.7h0.8v0.8h-0.8zM91.1 760.2h0.8v0.8h-0.8zM99.8 774.7h0.8v0.8h-0.8zM104.1 749.6h0.8v0.8h-0.8zM99.1 761.4h0.8v0.8h-0.8zM100.4 748.6h0.8v0.8h-0.8zM100.4 775.5h0.8v0.8h-0.8zM106.2 786.7h0.8v0.8h-0.8zM103.8 732.0h0.8v0.8h-0.8zM98.6 753.8h0.8v0.8h-0.8zM85.4 770.3h0.8v0.8h-0.8zM104.6 765.9h0.8v0.8h-0.8zM101.8 770.1h0.8v0.8h-0.8zM98.9 779.4h0.8v0.8h-0.8zM109.2 780.7h0.8v0.8h-0.8zM97.2 763.2h0.8v0.8h-0.8zM104.9 775.8h0.8v0.8h-0.8zM96.6 771.9h0.8v0.8h-0.8zM103.6 772.9h0.8v0.8h-0.8zM97.9 760.0h0.8v0.8h-0.8zM90.4 753.7h0.8v0.8h-0.8zM97.8 756.4h0.8v0.8h-0.8zM98.6 756.7h0.8v0.8h-0.8zM100.4 763.8h0.8v0.8h-0.8zM96.9 757.8h0.8v0.8h-0.8zM99.5 768.3h0.8v0.8h-0.8zM102.2 759.3h0.8v0.8h-0.8zM95.9 737.0h0.8v0.8h-0.8zM93.7 762.3h0.8v0.8h-0.8zM95.4 779.5h0.8v0.8h-0.8zM99.2 756.4h0.8v0.8h-0.8zM99.2 754.3h0.8v0.8h-0.8zM96.8 760.4h0.8v0.8h-0.8zM92.7 757.8h0.8v0.8h-0.8zM99.5 749.8h0.8v0.8h-0.8zM105.2 771.2h0.8v0.8h-0.8zM105.4 757.9h0.8v0.8h-0.8zM93.8 741.3h0.8v0.8h-0.8zM92.1 730.5h0.8v0.8h-0.8zM107.9 762.5h0.8v0.8h-0.8zM101.0 755.9h0.8v0.8h-0.8zM99.3 782.3h0.8v0.8h-0.8zM91.3 741.8h0.8v0.8h-0.8zM100.7 750.7h0.8v0.8h-0.8zM103.5 782.1h0.8v0.8h-0.8zM104.5 775.8h0.8v0.8h-0.8zM99.2 774.7h0.8v0.8h-0.8zM96.0 743.0h0.8v0.8h-0.8zM98.7 757.7h0.8v0.8h-0.8zM106.1 754.3h0.8v0.8h-0.8zM105.7 756.7h0.8v0.8h-0.8zM93.7 734.4h0.8v0.8h-0.8zM99.8 742.9h0.8v0.8h-0.8zM101.1 763.6h0.8v0.8h-0.8zM98.0 735.0h0.8v0.8h-0.8zM97.4 765.8h0.8v0.8h-0.8zM91.1 763.7h0.8v0.8h-0.8zM100.1 755.0h0.8v0.8h-0.8zM101.0 771.6h0.8v0.8h-0.8zM99.9 751.8h0.8v0.8h-0.8zM103.9 756.5h0.8v0.8h-0.8zM101.8 776.5h0.8v0.8h-0.8zM106.6 788.7h0.8v0.8h-0.8zM105.1 768.3h0.8v0.8h-0.8zM99.0 763.7h0.8v0.8h-0.8zM103.3 754.0h0.8v0.8h-0.8zM107.6 747.5h0.8v0.8h-0.8zM105.0 749.5h0.8v0.8h-0.8zM94.5 750.9h0.8v0.8h-0.8zM98.6 743.1h0.8v0.8h-0.8zM103.1 763.2h0.8v0.8h-0.8zM106.7 754.3h0.8v0.8h-0.8zM90.9 763.5h0.8v0.8h-0.8zM98.9 774.0h0.8v0.8h-0.8zM88.3 735.8h0.8v0.8h-0.8zM100.5 788.3h0.8v0.8h-0.8zM93.8 731.7h0.8v0.8h-0.8zM97.7 778.8h0.8v0.8h-0.8zM107.9 750.8h0.8v0.8h-0.8zM96.9 735.2h0.8v0.8h-0.8zM95.8 745.8h0.8v0.8h-0.8zM102.1 778.9h0.8v0.8h-0.8zM112.0 767.4h0.8v0.8h-0.8zM104.1 768.4h0.8v0.8h-0.8zM100.6 788.1h0.8v0.8h-0.8zM103.5 785.7h0.8v0.8h-0.8zM101.5 774.8h0.8v0.8h-0.8zM102.5 763.0h0.8v0.8h-0.8zM96.5 753.8h0.8v0.8h-0.8zM100.1 757.1h0.8v0.8h-0.8zM98.3 751.3h0.8v0.8h-0.8zM104.3 762.5h0.8v0.8h-0.8zM99.4 758.7h0.8v0.8h-0.8zM106.6 760.5h0.8v0.8h-0.8zM107.1 756.6h0.8v0.8h-0.8zM107.7 776.6h0.8v0.8h-0.8zM97.5 766.0h0.8v0.8h-0.8zM105.7 754.3h0.8v0.8h-0.8zM98.9 765.2h0.8v0.8h-0.8zM99.0 757.4h0.8v0.8h-0.8zM100.1 766.3h0.8v0.8h-0.8zM103.9 784.8h0.8v0.8h-0.8zM98.4 799.5h0.8v0.8h-0.8zM98.4 784.2h0.8v0.8h-0.8zM99.4 742.4h0.8v0.8h-0.8zM97.8 755.7h0.8v0.8h-0.8zM105.4 739.9h0.8v0.8h-0.8zM96.8 757.7h0.8v0.8h-0.8zM103.3 770.1h0.8v0.8h-0.8zM104.3 763.6h0.8v0.8h-0.8zM98.8 777.0h0.8v0.8h-0.8zM108.6 774.3h0.8v0.8h-0.8zM100.8 751.4h0.8v0.8h-0.8zM110.5 776.2h0.8v0.8h-0.8zM103.1 743.5h0.8v0.8h-0.8zM103.0 796.7h0.8v0.8h-0.8zM99.2 758.7h0.8v0.8h-0.8zM107.7 766.1h0.8v0.8h-0.8zM104.2 791.3h0.8v0.8h-0.8zM94.2 746.2h0.8v0.8h-0.8zM103.4 766.5h0.8v0.8h-0.8zM100.2 760.0h0.8v0.8h-0.8zM100.7 767.3h0.8v0.8h-0.8zM97.6 756.4h0.8v0.8h-0.8zM101.2 748.7h0.8v0.8h-0.8zM102.2 734.9h0.8v0.8h-0.8zM103.2 763.2h0.8v0.8h-0.8zM94.1 774.9h0.8v0.8h-0.8zM94.2 784.5h0.8v0.8h-0.8zM96.4 775.0h0.8v0.8h-0.8zM99.7 783.1h0.8v0.8h-0.8zM98.9 774.8h0.8v0.8h-0.8zM98.4 736.0h0.8v0.8h-0.8zM102.0 770.0h0.8v0.8h-0.8zM102.0 785.9h0.8v0.8h-0.8zM96.3 740.1h0.8v0.8h-0.8zM101.3 754.0h0.8v0.8h-0.8zM99.5 761.6h0.8v0.8h-0.8zM95.9 773.1h0.8v0.8h-0.8zM99.4 785.2h0.8v0.8h-0.8zM101.3 777.1h0.8v0.8h-0.8zM98.6 752.1h0.8v0.8h-0.8zM97.4 748.2h0.8v0.8h-0.8zM102.3 765.8h0.8v0.8h-0.8zM94.6 737.2h0.8v0.8h-0.8zM95.7 734.3h0.8v0.8h-0.8zM95.6 738.3h0.8v0.8h-0.8zM103.5 749.7h0.8v0.8h-0.8zM97.1 758.0h0.8v0.8h-0.8zM100.2 767.8h0.8v0.8h-0.8zM103.8 773.8h0.8v0.8h-0.8zM98.3 777.2h0.8v0.8h-0.8zM101.9 754.3h0.8v0.8h-0.8zM107.5 752.7h0.8v0.8h-0.8zM102.4 780.7h0.8v0.8h-0.8zM100.6 767.1h0.8v0.8h-0.8zM100.6 771.4h0.8v0.8h-0.8zM101.1 763.1h0.8v0.8h-0.8zM103.5 739.9h0.8v0.8h-0.8zM101.3 759.1h0.8v0.8h-0.8zM109.8 774.1h0.8v0.8h-0.8zM96.8 768.0h0.8v0.8h-0.8zM98.1 744.8h0.8v0.8h-0.8zM98.6 767.5h0.8v0.8h-0.8zM105.9 780.9h0.8v0.8h-0.8zM101.2 760.9h0.8v0.8h-0.8zM101.0 778.9h0.8v0.8h-0.8zM99.4 776.9h0.8v0.8h-0.8zM96.1 758.6h0.8v0.8h-0.8zM103.9 774.6h0.8v0.8h-0.8zM101.0 756.1h0.8v0.8h-0.8zM91.1 748.8h0.8v0.8h-0.8zM95.8 753.2h0.8v0.8h-0.8zM107.8 758.5h0.8v0.8h-0.8zM104.2 765.3h0.8v0.8h-0.8zM94.6 758.9h0.8v0.8h-0.8zM103.7 749.5h0.8v0.8h-0.8zM94.3 752.2h0.8v0.8h-0.8zM103.6 757.1h0.8v0.8h-0.8zM102.1 769.9h0.8v0.8h-0.8zM100.1 768.1h0.8v0.8h-0.8zM106.3 764.8h0.8v0.8h-0.8zM101.6 749.3h0.8v0.8h-0.8zM96.5 757.8h0.8v0.8h-0.8zM104.0 756.6h0.8v0.8h-0.8zM93.2 768.5h0.8v0.8h-0.8zM111.7 737.9h0.8v0.8h-0.8zM94.8 759.3h0.8v0.8h-0.8zM102.4 751.6h0.8v0.8h-0.8zM101.7 778.0h0.8v0.8h-0.8zM98.7 770.6h0.8v0.8h-0.8zM100.7 750.3h0.8v0.8h-0.8zM97.0 751.4h0.8v0.8h-0.8zM106.6 782.8h0.8v0.8h-0.8zM101.2 742.4h0.8v0.8h-0.8zM97.6 754.7h0.8v0.8h-0.8zM90.5 753.8h0.8v0.8h-0.8zM101.4 745.8h0.8v0.8h-0.8zM97.9 754.3h0.8v0.8h-0.8zM109.1 778.4h0.8v0.8h-0.8zM103.8 766.4h0.8v0.8h-0.8zM93.7 768.9h0.8v0.8h-0.8zM96.7 733.9h0.8v0.8h-0.8zM103.6 760.5h0.8v0.8h-0.8zM100.0 768.8h0.8v0.8h-0.8zM98.9 766.5h0.8v0.8h-0.8zM106.3 763.1h0.8v0.8h-0.8zM98.3 760.8h0.8v0.8h-0.8zM103.2 759.4h0.8v0.8h-0.8zM100.4 753.4h0.8v0.8h-0.8zM99.6 768.9h0.8v0.8h-0.8zM96.0 756.3h0.8v0.8h-0.8zM92.9 746.8h0.8v0.8h-0.8zM100.4 769.4h0.8v0.8h-0.8zM95.0 756.5h0.8v0.8h-0.8zM95.5 762.4h0.8v0.8h-0.8zM101.3 769.0h0.8v0.8h-0.8zM99.0 742.4h0.8v0.8h-0.8zM97.3 742.1h0.8v0.8h-0.8zM96.7 758.5h0.8v0.8h-0.8zM105.3 758.0h0.8v0.8h-0.8zM96.2 761.6h0.8v0.8h-0.8zM89.9 779.8h0.8v0.8h-0.8zM92.5 769.1h0.8v0.8h-0.8zM104.8 778.7h0.8v0.8h-0.8zM99.5 771.2h0.8v0.8h-0.8zM98.3 773.3h0.8v0.8h-0.8zM96.8 748.6h0.8v0.8h-0.8zM101.9 757.6h0.8v0.8h-0.8zM103.3 753.5h0.8v0.8h-0.8zM101.3 750.2h0.8v0.8h-0.8zM99.5 789.9h0.8v0.8h-0.8zM94.8 741.4h0.8v0.8h-0.8zM92.2 752.5h0.8v0.8h-0.8zM107.9 762.7h0.8v0.8h-0.8zM104.5 763.4h0.8v0.8h-0.8zM96.9 785.9h0.8v0.8h-0.8zM105.3 742.2h0.8v0.8h-0.8zM95.3 763.5h0.8v0.8h-0.8zM103.2 761.8h0.8v0.8h-0.8zM101.5 770.4h0.8v0.8h-0.8zM98.3 773.7h0.8v0.8h-0.8zM95.9 768.5h0.8v0.8h-0.8zM104.5 768.4h0.8v0.8h-0.8zM98.3 760.4h0.8v0.8h-0.8zM89.2 756.3h0.8v0.8h-0.8zM93.1 729.7h0.8v0.8h-0.8zM103.7 753.1h0.8v0.8h-0.8zM101.7 764.1h0.8v0.8h-0.8zM91.5 743.0h0.8v0.8h-0.8zM98.7 767.1h0.8v0.8h-0.8zM100.4 745.7h0.8v0.8h-0.8zM97.4 761.2h0.8v0.8h-0.8zM93.8 751.0h0.8v0.8h-0.8zM97.4 731.9h0.8v0.8h-0.8zM108.4 780.6h0.8v0.8h-0.8zM97.8 772.6h0.8v0.8h-0.8zM94.9 777.9h0.8v0.8h-0.8zM98.2 762.4h0.8v0.8h-0.8zM97.2 760.9h0.8v0.8h-0.8zM101.6 763.8h0.8v0.8h-0.8zM96.0 768.6h0.8v0.8h-0.8zM102.7 764.3h0.8v0.8h-0.8zM105.1 756.6h0.8v0.8h-0.8zM106.2 765.1h0.8v0.8h-0.8zM107.4 762.4h0.8v0.8h-0.8zM98.8 763.8h0.8v0.8h-0.8zM105.3 785.4h0.8v0.8h-0.8zM97.8 750.6h0.8v0.8h-0.8zM103.7 781.4h0.8v0.8h-0.8zM103.4 760.6h0.8v0.8h-0.8zM106.2 766.9h0.8v0.8h-0.8zM100.8 770.9h0.8v0.8h-0.8zM97.3 729.9h0.8v0.8h-0.8zM101.1 772.3h0.8v0.8h-0.8zM102.1 770.9h0.8v0.8h-0.8zM100.8 776.4h0.8v0.8h-0.8zM100.6 782.1h0.8v0.8h-0.8zM100.3 772.7h0.8v0.8h-0.8zM97.3 763.7h0.8v0.8h-0.8zM102.1 765.6h0.8v0.8h-0.8zM107.5 768.9h0.8v0.8h-0.8zM105.4 771.2h0.8v0.8h-0.8zM105.3 754.6h0.8v0.8h-0.8zM98.2 773.2h0.8v0.8h-0.8zM96.1 763.9h0.8v0.8h-0.8zM102.8 766.9h0.8v0.8h-0.8zM102.1 770.9h0.8v0.8h-0.8zM98.9 766.5h0.8v0.8h-0.8zM97.5 754.0h0.8v0.8h-0.8zM92.3 754.2h0.8v0.8h-0.8zM91.8 755.5h0.8v0.8h-0.8zM101.0 748.6h0.8v0.8h-0.8zM100.3 766.1h0.8v0.8h-0.8zM98.3 748.6h0.8v0.8h-0.8zM99.5 767.0h0.8v0.8h-0.8zM104.5 791.2h0.8v0.8h-0.8zM90.5 758.5h0.8v0.8h-0.8zM102.1 755.4h0.8v0.8h-0.8zM101.6 790.9h0.8v0.8h-0.8zM100.6 780.4h0.8v0.8h-0.8zM105.2 760.5h0.8v0.8h-0.8zM88.8 767.9h0.8v0.8h-0.8zM107.5 745.1h0.8v0.8h-0.8zM99.0 752.0h0.8v0.8h-0.8zM101.0 763.7h0.8v0.8h-0.8zM105.5 758.9h0.8v0.8h-0.8zM109.3 747.4h0.8v0.8h-0.8zM101.1 798.2h0.8v0.8h-0.8zM99.5 769.9h0.8v0.8h-0.8zM104.3 761.0h0.8v0.8h-0.8zM90.7 757.0h0.8v0.8h-0.8zM103.6 738.1h0.8v0.8h-0.8zM97.6 767.4h0.8v0.8h-0.8zM88.4 749.7h0.8v0.8h-0.8zM92.3 737.9h0.8v0.8h-0.8zM102.0 778.6h0.8v0.8h-0.8zM105.6 758.1h0.8v0.8h-0.8zM102.5 740.7h0.8v0.8h-0.8zM92.8 763.2h0.8v0.8h-0.8zM98.1 747.0h0.8v0.8h-0.8zM91.0 751.3h0.8v0.8h-0.8zM110.8 744.5h0.8v0.8h-0.8zM94.9 772.6h0.8v0.8h-0.8zM90.7 746.0h0.8v0.8h-0.8zM100.3 777.2h0.8v0.8h-0.8zM99.6 785.8h0.8v0.8h-0.8zM99.9 760.4h0.8v0.8h-0.8zM102.1 768.5h0.8v0.8h-0.8zM92.7 743.4h0.8v0.8h-0.8zM98.9 765.6h0.8v0.8h-0.8zM94.1 747.6h0.8v0.8h-0.8zM96.4 763.5h0.8v0.8h-0.8zM97.9 768.2h0.8v0.8h-0.8zM101.9 751.5h0.8v0.8h-0.8zM98.6 744.4h0.8v0.8h-0.8zM100.5 773.2h0.8v0.8h-0.8zM95.2 734.6h0.8v0.8h-0.8zM102.5 760.3h0.8v0.8h-0.8zM99.9 768.0h0.8v0.8h-0.8zM101.8 775.8h0.8v0.8h-0.8zM97.8 731.0h0.8v0.8h-0.8zM97.6 756.0h0.8v0.8h-0.8zM98.0 765.5h0.8v0.8h-0.8zM98.8 778.1h0.8v0.8h-0.8zM96.9 759.3h0.8v0.8h-0.8zM98.3 788.6h0.8v0.8h-0.8zM95.4 744.9h0.8v0.8h-0.8zM98.2 770.6h0.8v0.8h-0.8zM100.1 759.7h0.8v0.8h-0.8zM92.9 728.5h0.8v0.8h-0.8zM99.0 758.0h0.8v0.8h-0.8zM108.6 774.1h0.8v0.8h-0.8zM102.1 776.6h0.8v0.8h-0.8zM95.6 742.0h0.8v0.8h-0.8zM98.2 780.2h0.8v0.8h-0.8zM104.8 758.3h0.8v0.8h-0.8zM94.0 769.2h0.8v0.8h-0.8zM105.3 751.9h0.8v0.8h-0.8zM107.8 758.3h0.8v0.8h-0.8zM103.7 762.3h0.8v0.8h-0.8zM98.4 752.6h0.8v0.8h-0.8zM85.4 736.1h0.8v0.8h-0.8zM86.3 732.1h0.8v0.8h-0.8zM73.4 742.2h0.8v0.8h-0.8zM93.4 732.9h0.8v0.8h-0.8zM71.1 739.2h0.8v0.8h-0.8zM81.0 733.3h0.8v0.8h-0.8zM86.7 734.9h0.8v0.8h-0.8zM80.9 741.9h0.8v0.8h-0.8zM65.2 735.0h0.8v0.8h-0.8zM72.3 732.9h0.8v0.8h-0.8zM78.7 734.1h0.8v0.8h-0.8zM61.1 735.0h0.8v0.8h-0.8zM98.2 732.2h0.8v0.8h-0.8zM87.1 736.2h0.8v0.8h-0.8zM82.3 730.9h0.8v0.8h-0.8zM85.0 734.5h0.8v0.8h-0.8zM91.3 737.3h0.8v0.8h-0.8zM91.8 735.8h0.8v0.8h-0.8zM81.4 730.4h0.8v0.8h-0.8zM99.7 740.1h0.8v0.8h-0.8zM80.8 731.4h0.8v0.8h-0.8zM84.5 739.3h0.8v0.8h-0.8zM84.1 737.4h0.8v0.8h-0.8zM82.1 734.7h0.8v0.8h-0.8zM70.0 733.0h0.8v0.8h-0.8zM80.4 732.7h0.8v0.8h-0.8zM78.1 734.3h0.8v0.8h-0.8zM75.5 731.9h0.8v0.8h-0.8zM69.7 742.7h0.8v0.8h-0.8zM73.0 727.2h0.8v0.8h-0.8zM75.8 730.9h0.8v0.8h-0.8zM92.9 738.3h0.8v0.8h-0.8zM77.0 735.3h0.8v0.8h-0.8zM71.2 725.3h0.8v0.8h-0.8zM82.6 735.7h0.8v0.8h-0.8zM74.6 732.7h0.8v0.8h-0.8zM55.7 731.1h0.8v0.8h-0.8zM88.3 734.2h0.8v0.8h-0.8zM81.4 735.7h0.8v0.8h-0.8zM63.5 726.3h0.8v0.8h-0.8zM70.0 733.5h0.8v0.8h-0.8zM75.0 724.3h0.8v0.8h-0.8zM87.0 732.6h0.8v0.8h-0.8zM87.9 742.4h0.8v0.8h-0.8zM66.9 726.6h0.8v0.8h-0.8zM88.5 739.8h0.8v0.8h-0.8zM83.1 734.8h0.8v0.8h-0.8zM85.5 736.2h0.8v0.8h-0.8zM69.9 735.8h0.8v0.8h-0.8zM87.8 731.6h0.8v0.8h-0.8zM72.8 730.4h0.8v0.8h-0.8zM75.3 735.1h0.8v0.8h-0.8zM86.1 733.5h0.8v0.8h-0.8zM77.6 725.0h0.8v0.8h-0.8zM76.6 728.4h0.8v0.8h-0.8zM75.6 734.3h0.8v0.8h-0.8zM81.3 748.7h0.8v0.8h-0.8zM73.1 730.2h0.8v0.8h-0.8zM70.9 731.3h0.8v0.8h-0.8zM77.7 737.4h0.8v0.8h-0.8zM64.5 736.2h0.8v0.8h-0.8zM85.1 731.0h0.8v0.8h-0.8zM74.6 733.6h0.8v0.8h-0.8zM84.1 732.5h0.8v0.8h-0.8zM78.8 733.0h0.8v0.8h-0.8zM71.4 733.7h0.8v0.8h-0.8zM84.6 733.5h0.8v0.8h-0.8zM70.9 732.5h0.8v0.8h-0.8zM79.1 734.4h0.8v0.8h-0.8zM76.7 736.5h0.8v0.8h-0.8zM88.6 737.2h0.8v0.8h-0.8zM81.8 738.5h0.8v0.8h-0.8zM79.7 732.2h0.8v0.8h-0.8zM68.6 732.4h0.8v0.8h-0.8zM89.6 729.3h0.8v0.8h-0.8zM86.2 727.7h0.8v0.8h-0.8zM82.4 741.2h0.8v0.8h-0.8zM80.3 727.9h0.8v0.8h-0.8zM82.3 732.5h0.8v0.8h-0.8zM86.3 731.1h0.8v0.8h-0.8zM66.2 730.1h0.8v0.8h-0.8zM84.7 737.8h0.8v0.8h-0.8zM82.2 733.2h0.8v0.8h-0.8zM85.4 732.4h0.8v0.8h-0.8zM76.4 733.8h0.8v0.8h-0.8zM88.7 731.3h0.8v0.8h-0.8zM83.9 730.4h0.8v0.8h-0.8zM74.1 733.4h0.8v0.8h-0.8zM69.4 728.7h0.8v0.8h-0.8zM70.5 729.8h0.8v0.8h-0.8zM72.7 742.9h0.8v0.8h-0.8zM84.8 733.6h0.8v0.8h-0.8zM83.5 730.4h0.8v0.8h-0.8zM88.3 731.7h0.8v0.8h-0.8zM69.6 729.6h0.8v0.8h-0.8zM67.8 726.1h0.8v0.8h-0.8zM85.6 731.0h0.8v0.8h-0.8zM85.4 730.9h0.8v0.8h-0.8zM78.1 730.5h0.8v0.8h-0.8zM75.6 729.9h0.8v0.8h-0.8zM91.8 733.4h0.8v0.8h-0.8zM64.5 739.6h0.8v0.8h-0.8zM89.9 738.5h0.8v0.8h-0.8zM79.1 732.3h0.8v0.8h-0.8zM76.1 733.3h0.8v0.8h-0.8zM83.7 733.2h0.8v0.8h-0.8zM73.4 728.4h0.8v0.8h-0.8zM93.2 741.1h0.8v0.8h-0.8zM70.1 729.7h0.8v0.8h-0.8zM79.6 735.6h0.8v0.8h-0.8z" fill="#111" fill-opacity="0.78"/>
<path d="M78.5 763.7h0.8v0.8h-0.8zM84.2 781.0h0.8v0.8h-0.8zM64.3 774.2h0.8v0.8h-0.8zM85.1 770.9h0.8v0.8h-0.8zM61.9 750.7h0.8v0.8h-0.8zM76.8 770.1h0.8v0.8h-0.8zM88.1 774.3h0.8v0.8h-0.8zM64.4 777.0h0.8v0.8h-0.8zM80.7 776.3h0.8v0.8h-0.8zM79.8 747.9h0.8v0.8h-0.8zM111.2 780.7h0.8v0.8h-0.8zM89.0 754.8h0.8v0.8h-0.8zM77.2 778.3h0.8v0.8h-0.8zM85.2 791.6h0.8v0.8h-0.8zM94.2 745.9h0.8v0.8h-0.8zM61.5 774.4h0.8v0.8h-0.8zM87.0 757.7h0.8v0.8h-0.8zM76.4 749.5h0.8v0.8h-0.8zM101.3 763.7h0.8v0.8h-0.8zM63.4 770.6h0.8v0.8h-0.8zM78.8 765.8h0.8v0.8h-0.8zM75.3 758.0h0.8v0.8h-0.8zM57.4 762.5h0.8v0.8h-0.8zM71.6 751.0h0.8v0.8h-0.8zM83.6 783.0h0.8v0.8h-0.8zM54.1 750.0h0.8v0.8h-0.8zM86.4 779.3h0.8v0.8h-0.8zM69.0 762.2h0.8v0.8h-0.8zM84.6 777.4h0.8v0.8h-0.8zM72.4 754.6h0.8v0.8h-0.8zM73.7 777.6h0.8v0.8h-0.8zM92.8 756.4h0.8v0.8h-0.8zM78.2 763.3h0.8v0.8h-0.8zM69.0 754.9h0.8v0.8h-0.8zM90.2 776.3h0.8v0.8h-0.8z" fill="#666" fill-opacity="0.6"/>
<rect x="37.5" y="722.5" width="96.0" height="96.0" fill="none" stroke="#000" stroke-width="0.8" />
<path d="M37.50 818.5v2.0M44.72 818.5v1.1M48.95 818.5v1.1M51.95 818.5v1.1M54.28 818.5v1.1M56.18 818.5v1.1M57.78 818.5v1.1M59.17 818.5v1.1M60.40 818.5v1.1M61.50 818.5v2.0M68.72 818.5v1.1M72.95 818.5v1.1M75.95 818.5v1.1M78.28 818.5v1.1M80.18 818.5v1.1M81.78 818.5v1.1M83.17 818.5v1.1M84.40 818.5v1.1M85.50 818.5v2.0M92.72 818.5v1.1M96.95 818.5v1.1M99.95 818.5v1.1M102.28 818.5v1.1M104.18 818.5v1.1M105.78 818.5v1.1M107.17 818.5v1.1M108.40 818.5v1.1M109.50 818.5v2.0M116.72 818.5v1.1M120.95 818.5v1.1M123.95 818.5v1.1M126.28 818.5v1.1M128.18 818.5v1.1M129.78 818.5v1.1M131.17 818.5v1.1M132.40 818.5v1.1M133.50 818.5v2.0M37.5 818.50h-2.0M37.5 811.28h-1.1M37.5 807.05h-1.1M37.5 804.05h-1.1M37.5 801.72h-1.1M37.5 799.82h-1.1M37.5 798.22h-1.1M37.5 796.83h-1.1M37.5 795.60h-1.1M37.5 794.50h-2.0M37.5 787.28h-1.1M37.5 783.05h-1.1M37.5 780.05h-1.1M37.5 777.72h-1.1M37.5 775.82h-1.1M37.5 774.22h-1.1M37.5 772.83h-1.1M37.5 771.60h-1.1M37.5 770.50h-2.0M37.5 763.28h-1.1M37.5 759.05h-1.1M37.5 756.05h-1.1M37.5 753.72h-1.1M37.5 751.82h-1.1M37.5 750.22h-1.1M37.5 748.83h-1.1M37.5 747.60h-1.1M37.5 746.50h-2.0M37.5 739.28h-1.1M37.5 735.05h-1.1M37.5 732.05h-1.1M37.5 729.72h-1.1M37.5 727.82h-1.1M37.5 726.22h-1.1M37.5 724.83h-1.1M37.5 723.60h-1.1M37.5 722.50h-2.0" stroke="#222" stroke-width="0.6" fill="none"/>
<rect x="40.75" y="724.25" width="45" height="18.75" fill="none" stroke="#333" stroke-width="0.8" />
<rect x="87.5" y="725.75" width="29.25" height="80" fill="none" stroke="#333" stroke-width="0.8" />
<text x="104.75" y="803.75" font-size="11" text-anchor="middle" font-weight="bold" fill="#000" >88%</text>
<text transform="translate(33.5,770) rotate(-90)" font-size="11" text-anchor="middle" font-weight="normal">CD14</text>
<text x="84" y="830" font-size="11" text-anchor="middle" font-weight="normal" fill="#000" >CD16</text>
<text x="138.5" y="768.75" font-size="13" text-anchor="start" font-weight="normal" fill="#000" >CD14<tspan font-size="58%" dy="-0.45em">+</tspan></text>
<text x="138.5" y="784.5" font-size="13" text-anchor="start" font-weight="normal" fill="#000" >CD16<tspan font-size="58%" dy="-0.45em">+</tspan></text>
<text x="200" y="600.5" font-size="16" text-anchor="start" font-weight="bold" fill="#000" >G</text>
<line x1="240.5" y1="591.6" x2="443" y2="591.6" stroke="#888" stroke-width="0.9" />
<line x1="443" y1="591.6" x2="443" y2="823" stroke="#888" stroke-width="1.1" />
<rect x="257" y="818.4" width="22.5" height="1.6" fill="#000" stroke="#000" stroke-width="0.5" />
<rect x="279.75" y="676.75" width="22.75" height="143.25" fill="#fff" stroke="#111" stroke-width="1.3" />
<rect x="302.5" y="758" width="22.5" height="62" fill="#c4c4c4" stroke="#222" stroke-width="1.1" />
<rect x="358" y="817.6" width="22.5" height="2.4" fill="#000" stroke="#000" stroke-width="0.5" />
<rect x="380.6" y="675" width="23" height="145" fill="#fff" stroke="#111" stroke-width="1.3" />
<rect x="403.75" y="743" width="22.5" height="77" fill="#c4c4c4" stroke="#222" stroke-width="1.1" />
<line x1="291.25" y1="654.5" x2="291.25" y2="699.25" stroke="#000" stroke-width="1" />
<line x1="288.05" y1="654.5" x2="294.45" y2="654.5" stroke="#000" stroke-width="1" />
<line x1="288.05" y1="699.25" x2="294.45" y2="699.25" stroke="#000" stroke-width="1" />
<line x1="313.5" y1="752" x2="313.5" y2="764.5" stroke="#000" stroke-width="1" />
<line x1="310.3" y1="752" x2="316.7" y2="752" stroke="#000" stroke-width="1" />
<line x1="310.3" y1="764.5" x2="316.7" y2="764.5" stroke="#000" stroke-width="1" />
<line x1="392.5" y1="652" x2="392.5" y2="698.25" stroke="#000" stroke-width="1" />
<line x1="389.3" y1="652" x2="395.7" y2="652" stroke="#000" stroke-width="1" />
<line x1="389.3" y1="698.25" x2="395.7" y2="698.25" stroke="#000" stroke-width="1" />
<line x1="414.5" y1="728.25" x2="414.5" y2="757.5" stroke="#000" stroke-width="1" />
<line x1="411.3" y1="728.25" x2="417.7" y2="728.25" stroke="#000" stroke-width="1" />
<line x1="411.3" y1="757.5" x2="417.7" y2="757.5" stroke="#000" stroke-width="1" />
<line x1="240.5" y1="591.6" x2="240.5" y2="823" stroke="#555" stroke-width="1" />
<line x1="240.5" y1="820" x2="443" y2="820" stroke="#222" stroke-width="1.2" />
<line x1="237.5" y1="774.3" x2="240.5" y2="774.3" stroke="#555" stroke-width="0.8" />
<line x1="237.5" y1="728.6" x2="240.5" y2="728.6" stroke="#555" stroke-width="0.8" />
<line x1="237.5" y1="682.9" x2="240.5" y2="682.9" stroke="#555" stroke-width="0.8" />
<line x1="237.5" y1="637.2" x2="240.5" y2="637.2" stroke="#555" stroke-width="0.8" />
<line x1="237.5" y1="591.5" x2="240.5" y2="591.5" stroke="#555" stroke-width="0.8" />
<text x="237.8" y="594.1" font-size="8.6" text-anchor="end" font-weight="normal" fill="#000" >100</text>
<text x="236.7" y="641.4" font-size="8.6" text-anchor="end" font-weight="normal" fill="#000" >80</text>
<text x="236.7" y="686" font-size="8.6" text-anchor="end" font-weight="normal" fill="#000" >60</text>
<text x="236.3" y="732.4" font-size="8.6" text-anchor="end" font-weight="normal" fill="#000" >40</text>
<text x="236.3" y="778.2" font-size="8.6" text-anchor="end" font-weight="normal" fill="#000" >20</text>
<text x="236.7" y="820.4" font-size="8.6" text-anchor="end" font-weight="normal" fill="#000" >0</text>
<line x1="237.5" y1="817.5" x2="240.5" y2="817.5" stroke="#555" stroke-width="0.8" />
<line x1="341.25" y1="820" x2="341.25" y2="823" stroke="#aaa" stroke-width="0.8" />
<text transform="translate(217,707.5) rotate(-90)" font-size="13" text-anchor="middle" font-weight="normal">% PI<tspan font-size="52%" dy="-0.62em">+</tspan><tspan dy="0.322em"> cells</tspan></text>
<line x1="290" y1="628.75" x2="313.5" y2="628.75" stroke="#111" stroke-width="1.4" />
<text x="303.25" y="633.39" font-size="20.5" text-anchor="middle" font-weight="normal" fill="#000" letter-spacing="0.7" stroke="#000" stroke-width="0.35">**</text>
<line x1="392.5" y1="628.75" x2="414.25" y2="628.75" stroke="#111" stroke-width="1.4" />
<text x="403.45000000000005" y="633.89" font-size="20.5" text-anchor="middle" font-weight="normal" fill="#000" letter-spacing="0.7" stroke="#000" stroke-width="0.35">**</text>
<text x="254.3" y="841" font-size="13" text-anchor="start" font-weight="normal" fill="#000" >CD14<tspan font-size="58%" dy="-0.45em">++</tspan><tspan dy="0.261em">CD16</tspan><tspan font-size="58%" dy="-0.45em">-</tspan></text>
<text x="373.3" y="841" font-size="13" text-anchor="start" font-weight="normal" fill="#000" >CD16<tspan font-size="58%" dy="-0.45em">+</tspan></text>
<rect x="449.6" y="753" width="19.5" height="20" fill="#000" stroke="#000" stroke-width="0" />
<rect x="450.2" y="777.8" width="19.6" height="17.6" fill="#fff" stroke="#111" stroke-width="1.3" rx="1"/>
<rect x="449.6" y="801.4" width="19.5" height="20" fill="#bdbdbd" stroke="none" stroke-width="0" />
<text x="474.5" y="767.3" font-size="11.4" text-anchor="start" font-weight="normal" fill="#000" >+FCS</text>
<text x="474.5" y="792.4" font-size="11.4" text-anchor="start" font-weight="normal" fill="#000" >Medium</text>
<text x="474.5" y="816.2" font-size="11.4" text-anchor="start" font-weight="normal" fill="#000" >+CX<tspan font-size="58%" dy="0.62em">3</tspan><tspan dy="-0.36em">CL1</tspan></text>
</svg>
</body></html>
